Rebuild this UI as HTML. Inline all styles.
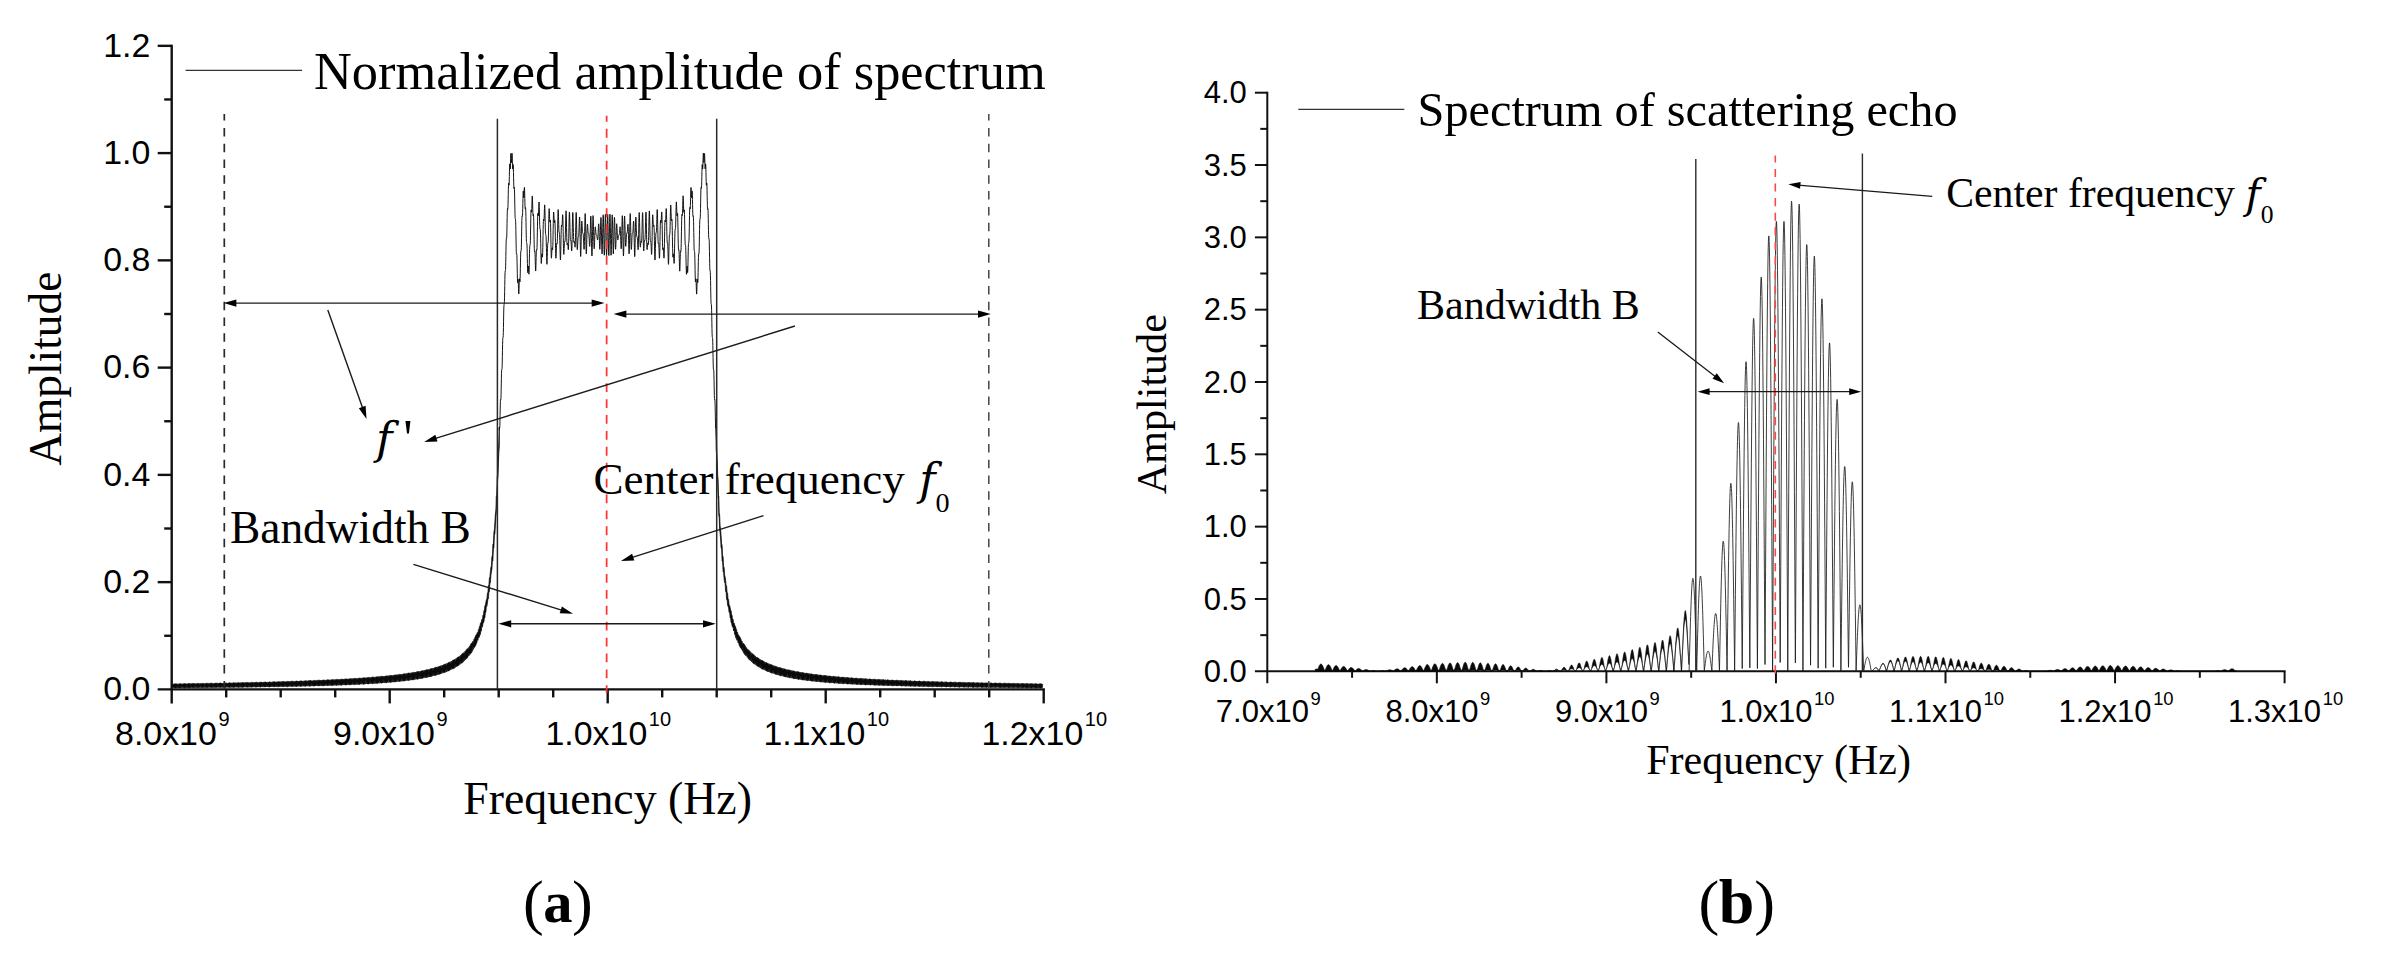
<!DOCTYPE html>
<html lang="en"><head><meta charset="utf-8"><title>Spectrum figure</title>
<style>html,body{margin:0;padding:0;background:#fff}svg{display:block}text{fill:#000}</style></head>
<body><svg width="2381" height="963" viewBox="0 0 2381 963">
<rect width="2381" height="963" fill="#fff"/>
<line x1="171.70" y1="44.64" x2="171.70" y2="703.40" stroke="#111" stroke-width="2.4" />
<line x1="157.70" y1="689.40" x2="1044.90" y2="689.40" stroke="#111" stroke-width="2.4" />
<text x="150.40" y="700.20" font-family="'Liberation Sans',Arial,sans-serif" font-size="33.9" text-anchor="end" >0.0</text>
<line x1="164.20" y1="635.77" x2="171.70" y2="635.77" stroke="#111" stroke-width="2.4" />
<line x1="157.70" y1="582.14" x2="171.70" y2="582.14" stroke="#111" stroke-width="2.4" />
<text x="150.40" y="592.94" font-family="'Liberation Sans',Arial,sans-serif" font-size="33.9" text-anchor="end" >0.2</text>
<line x1="164.20" y1="528.51" x2="171.70" y2="528.51" stroke="#111" stroke-width="2.4" />
<line x1="157.70" y1="474.88" x2="171.70" y2="474.88" stroke="#111" stroke-width="2.4" />
<text x="150.40" y="485.68" font-family="'Liberation Sans',Arial,sans-serif" font-size="33.9" text-anchor="end" >0.4</text>
<line x1="164.20" y1="421.25" x2="171.70" y2="421.25" stroke="#111" stroke-width="2.4" />
<line x1="157.70" y1="367.62" x2="171.70" y2="367.62" stroke="#111" stroke-width="2.4" />
<text x="150.40" y="378.42" font-family="'Liberation Sans',Arial,sans-serif" font-size="33.9" text-anchor="end" >0.6</text>
<line x1="164.20" y1="313.99" x2="171.70" y2="313.99" stroke="#111" stroke-width="2.4" />
<line x1="157.70" y1="260.36" x2="171.70" y2="260.36" stroke="#111" stroke-width="2.4" />
<text x="150.40" y="271.16" font-family="'Liberation Sans',Arial,sans-serif" font-size="33.9" text-anchor="end" >0.8</text>
<line x1="164.20" y1="206.73" x2="171.70" y2="206.73" stroke="#111" stroke-width="2.4" />
<line x1="157.70" y1="153.10" x2="171.70" y2="153.10" stroke="#111" stroke-width="2.4" />
<text x="150.40" y="163.90" font-family="'Liberation Sans',Arial,sans-serif" font-size="33.9" text-anchor="end" >1.0</text>
<line x1="164.20" y1="99.47" x2="171.70" y2="99.47" stroke="#111" stroke-width="2.4" />
<line x1="157.70" y1="45.84" x2="171.70" y2="45.84" stroke="#111" stroke-width="2.4" />
<text x="150.40" y="56.64" font-family="'Liberation Sans',Arial,sans-serif" font-size="33.9" text-anchor="end" >1.2</text>
<line x1="226.20" y1="689.40" x2="226.20" y2="697.40" stroke="#111" stroke-width="2.4" />
<line x1="280.70" y1="689.40" x2="280.70" y2="697.40" stroke="#111" stroke-width="2.4" />
<line x1="335.20" y1="689.40" x2="335.20" y2="697.40" stroke="#111" stroke-width="2.4" />
<line x1="389.70" y1="689.40" x2="389.70" y2="703.40" stroke="#111" stroke-width="2.4" />
<line x1="444.20" y1="689.40" x2="444.20" y2="697.40" stroke="#111" stroke-width="2.4" />
<line x1="498.70" y1="689.40" x2="498.70" y2="697.40" stroke="#111" stroke-width="2.4" />
<line x1="553.20" y1="689.40" x2="553.20" y2="697.40" stroke="#111" stroke-width="2.4" />
<line x1="607.70" y1="689.40" x2="607.70" y2="703.40" stroke="#111" stroke-width="2.4" />
<line x1="662.20" y1="689.40" x2="662.20" y2="697.40" stroke="#111" stroke-width="2.4" />
<line x1="716.70" y1="689.40" x2="716.70" y2="697.40" stroke="#111" stroke-width="2.4" />
<line x1="771.20" y1="689.40" x2="771.20" y2="697.40" stroke="#111" stroke-width="2.4" />
<line x1="825.70" y1="689.40" x2="825.70" y2="703.40" stroke="#111" stroke-width="2.4" />
<line x1="880.20" y1="689.40" x2="880.20" y2="697.40" stroke="#111" stroke-width="2.4" />
<line x1="934.70" y1="689.40" x2="934.70" y2="697.40" stroke="#111" stroke-width="2.4" />
<line x1="989.20" y1="689.40" x2="989.20" y2="697.40" stroke="#111" stroke-width="2.4" />
<line x1="1043.70" y1="689.40" x2="1043.70" y2="703.40" stroke="#111" stroke-width="2.4" />
<text x="172.30" y="745.20" font-family="'Liberation Sans',Arial,sans-serif" font-size="33.9" text-anchor="middle">8.0x10<tspan font-size="20" dy="-19" dx="1.6">9</tspan></text>
<text x="390.30" y="745.20" font-family="'Liberation Sans',Arial,sans-serif" font-size="33.9" text-anchor="middle">9.0x10<tspan font-size="20" dy="-19" dx="1.6">9</tspan></text>
<text x="608.30" y="745.20" font-family="'Liberation Sans',Arial,sans-serif" font-size="33.9" text-anchor="middle">1.0x10<tspan font-size="20" dy="-19" dx="1.6">10</tspan></text>
<text x="826.30" y="745.20" font-family="'Liberation Sans',Arial,sans-serif" font-size="33.9" text-anchor="middle">1.1x10<tspan font-size="20" dy="-19" dx="1.6">10</tspan></text>
<text x="1044.30" y="745.20" font-family="'Liberation Sans',Arial,sans-serif" font-size="33.9" text-anchor="middle">1.2x10<tspan font-size="20" dy="-19" dx="1.6">10</tspan></text>
<text transform="translate(60.6,465.8) rotate(-90)" font-family="'Liberation Serif','Times New Roman',serif" font-size="45.4">Amplitude</text>
<text x="463.30" y="813.50" font-family="'Liberation Serif','Times New Roman',serif" font-size="45.8" text-anchor="start" >Frequency (Hz)</text>
<line x1="185.60" y1="70.40" x2="302.00" y2="70.40" stroke="#333" stroke-width="1.1" />
<text x="314.00" y="88.70" font-family="'Liberation Serif','Times New Roman',serif" font-size="52.4" text-anchor="start" >Normalized amplitude of spectrum</text>
<polygon points="172.4,684.3 172.9,684.8 173.4,683.8 173.9,684.4 174.4,683.8 174.9,683.9 175.4,683.8 175.9,683.8 176.4,684.0 176.9,683.8 177.4,684.8 177.9,683.8 178.4,684.4 178.9,683.7 179.4,683.8 179.9,683.7 180.4,683.7 180.9,683.9 181.4,683.7 181.9,684.7 182.4,683.7 182.9,684.3 183.4,683.7 183.9,683.7 184.4,683.6 184.9,683.6 185.4,683.9 185.9,683.6 186.4,684.7 186.9,683.6 187.4,684.2 187.9,683.6 188.4,683.6 188.9,683.6 189.4,683.6 189.9,683.8 190.4,683.6 190.9,684.7 191.4,683.5 191.9,684.1 192.4,683.5 192.9,683.6 193.4,683.5 193.9,683.5 194.4,683.7 194.9,683.5 195.4,684.6 195.9,683.5 196.4,684.0 196.9,683.4 197.4,683.5 197.9,683.4 198.4,683.4 198.9,683.7 199.4,683.4 199.9,684.6 200.4,683.4 200.9,684.0 201.4,683.4 201.9,683.4 202.4,683.4 202.9,683.4 203.4,683.6 203.9,683.3 204.4,684.5 204.9,683.3 205.4,683.9 205.9,683.3 206.4,683.3 206.9,683.3 207.4,683.3 207.9,683.6 208.4,683.3 208.9,684.5 209.4,683.2 209.9,683.8 210.4,683.2 210.9,683.2 211.4,683.2 211.9,683.2 212.4,683.5 212.9,683.2 213.4,684.4 213.9,683.2 214.4,683.7 214.9,683.1 215.4,683.2 215.9,683.1 216.4,683.1 216.9,683.4 217.4,683.1 217.9,684.4 218.4,683.1 218.9,683.6 219.4,683.0 219.9,683.1 220.4,683.0 220.9,683.0 221.4,683.4 221.9,683.0 222.4,684.3 222.9,683.0 223.4,683.5 223.9,683.0 224.4,683.0 224.9,682.9 225.4,682.9 225.9,683.3 226.4,682.9 226.9,684.3 227.4,682.9 227.9,683.4 228.4,682.9 228.9,682.9 229.4,682.8 229.9,682.8 230.4,683.2 230.9,682.8 231.4,684.3 231.9,682.8 232.4,683.3 232.9,682.8 233.4,682.8 233.9,682.8 234.4,682.8 234.9,683.1 235.4,682.7 235.9,684.2 236.4,682.7 236.9,683.2 237.4,682.7 237.9,682.7 238.4,682.7 238.9,682.7 239.4,683.1 239.9,682.6 240.4,684.1 240.9,682.6 241.4,683.1 241.9,682.6 242.4,682.6 242.9,682.6 243.4,682.6 243.9,683.0 244.4,682.5 244.9,684.1 245.4,682.5 245.9,683.0 246.4,682.5 246.9,682.5 247.4,682.5 247.9,682.5 248.4,682.9 248.9,682.4 249.4,684.0 249.9,682.4 250.4,682.9 250.9,682.4 251.4,682.4 251.9,682.4 252.4,682.3 252.9,682.8 253.4,682.3 253.9,683.9 254.4,682.3 254.9,682.8 255.4,682.3 255.9,682.3 256.4,682.2 256.9,682.2 257.4,682.7 257.9,682.2 258.4,683.8 258.9,682.2 259.4,682.6 259.9,682.2 260.4,682.2 260.9,682.1 261.4,682.1 261.9,682.6 262.4,682.1 262.9,683.7 263.4,682.1 263.9,682.5 264.4,682.0 264.9,682.0 265.4,682.0 265.9,682.0 266.4,682.5 266.9,682.0 267.4,683.6 267.9,681.9 268.4,682.4 268.9,681.9 269.4,681.9 269.9,681.9 270.4,681.9 270.9,682.4 271.4,681.9 271.9,683.4 272.4,681.8 272.9,682.2 273.4,681.8 273.9,681.8 274.4,681.8 274.9,681.8 275.4,682.3 275.9,681.7 276.4,683.3 276.9,681.7 277.4,682.1 277.9,681.7 278.4,681.7 278.9,681.7 279.4,681.6 279.9,682.2 280.4,681.6 280.9,683.2 281.4,681.6 281.9,682.0 282.4,681.5 282.9,681.5 283.4,681.5 283.9,681.5 284.4,682.1 284.9,681.5 285.4,683.0 285.9,681.4 286.4,681.8 286.9,681.4 287.4,681.4 287.9,681.4 288.4,681.4 288.9,682.0 289.4,681.3 289.9,682.9 290.4,681.3 290.9,681.7 291.4,681.2 291.9,681.2 292.4,681.2 292.9,681.2 293.4,681.9 293.9,681.2 294.4,682.7 294.9,681.1 295.4,681.5 295.9,681.1 296.4,681.1 296.9,681.1 297.4,681.1 297.9,681.8 298.4,681.0 298.9,682.6 299.4,681.0 299.9,681.3 300.4,680.9 300.9,680.9 301.4,680.9 301.9,680.9 302.4,681.6 302.9,680.9 303.4,682.4 303.9,680.8 304.4,681.2 304.9,680.8 305.4,680.8 305.9,680.8 306.4,680.7 306.9,681.5 307.4,680.7 307.9,682.2 308.4,680.6 308.9,681.0 309.4,680.6 309.9,680.6 310.4,680.6 310.9,680.6 311.4,681.3 311.9,680.5 312.4,682.1 312.9,680.5 313.4,680.8 313.9,680.4 314.4,680.4 314.9,680.4 315.4,680.4 315.9,681.2 316.4,680.3 316.9,681.9 317.4,680.3 317.9,680.6 318.4,680.2 318.9,680.2 319.4,680.3 319.9,680.2 320.4,681.1 320.9,680.1 321.4,681.7 321.9,680.1 322.4,680.4 322.9,680.0 323.4,680.0 323.9,680.1 324.4,680.0 324.9,680.9 325.4,679.9 325.9,681.5 326.4,679.9 326.9,680.2 327.4,679.8 327.9,679.8 328.4,679.9 328.9,679.8 329.4,680.7 329.9,679.7 330.4,681.3 330.9,679.7 331.4,680.0 331.9,679.6 332.4,679.6 332.9,679.7 333.4,679.6 333.9,680.5 334.4,679.5 334.9,681.0 335.4,679.5 335.9,679.8 336.4,679.4 336.9,679.4 337.4,679.5 337.9,679.3 338.4,680.3 338.9,679.3 339.4,680.8 339.9,679.2 340.4,679.5 340.9,679.2 341.4,679.2 341.9,679.2 342.4,679.1 342.9,680.2 343.4,679.0 343.9,680.6 344.4,679.0 344.9,679.3 345.4,678.9 345.9,678.9 346.4,679.0 346.9,678.9 347.4,680.0 347.9,678.8 348.4,680.3 348.9,678.7 349.4,679.0 349.9,678.7 350.4,678.7 350.9,678.7 351.4,678.6 351.9,679.7 352.4,678.5 352.9,680.0 353.4,678.5 353.9,678.7 354.4,678.4 354.9,678.4 355.4,678.5 355.9,678.3 356.4,679.5 356.9,678.2 357.4,679.7 357.9,678.2 358.4,678.4 358.9,678.1 359.4,678.1 359.9,678.2 360.4,678.0 360.9,679.2 361.4,677.9 361.9,679.4 362.4,677.9 362.9,678.1 363.4,677.8 363.9,677.8 364.4,677.9 364.9,677.7 365.4,679.0 365.9,677.6 366.4,679.1 366.9,677.5 367.4,677.8 367.9,677.4 368.4,677.4 368.9,677.6 369.4,677.4 369.9,678.7 370.4,677.3 370.9,678.7 371.4,677.2 371.9,677.4 372.4,677.1 372.9,677.1 373.4,677.2 373.9,677.0 374.4,678.4 374.9,676.9 375.4,678.4 375.9,676.8 376.4,677.0 376.9,676.7 377.4,676.7 377.9,676.8 378.4,676.6 378.9,678.0 379.4,676.5 379.9,678.0 380.4,676.4 380.9,676.6 381.4,676.3 381.9,676.3 382.4,676.5 382.9,676.2 383.4,677.7 383.9,676.1 384.4,677.6 384.9,676.0 385.4,676.2 385.9,675.9 386.4,675.9 386.9,676.0 387.4,675.8 387.9,677.3 388.4,675.6 388.9,677.1 389.4,675.5 389.9,675.7 390.4,675.4 390.9,675.4 391.4,675.6 391.9,675.3 392.4,676.9 392.9,675.2 393.4,676.6 393.9,675.0 394.4,675.2 394.9,674.9 395.4,674.9 395.9,675.1 396.4,674.8 396.9,676.4 397.4,674.6 397.9,676.1 398.4,674.5 398.9,674.7 399.4,674.4 399.9,674.4 400.4,674.5 400.9,674.2 401.4,675.9 401.9,674.1 402.4,675.5 402.9,673.9 403.4,674.1 403.9,673.8 404.4,673.8 404.9,674.0 405.4,673.6 405.9,675.4 406.4,673.4 406.9,674.9 407.4,673.3 407.9,673.4 408.4,673.1 408.9,673.1 409.4,673.3 409.9,672.9 410.4,674.8 410.9,672.7 411.4,674.2 411.9,672.6 412.4,672.7 412.9,672.4 413.4,672.4 413.9,672.6 414.4,672.2 414.9,674.1 415.4,672.0 415.9,673.4 416.4,671.8 416.9,671.9 417.4,671.6 417.9,671.6 418.4,671.8 418.9,671.4 419.4,673.4 419.9,671.2 420.4,672.6 420.9,670.9 421.4,671.1 421.9,670.7 422.4,670.7 422.9,671.0 423.4,670.5 423.9,672.5 424.4,670.2 424.9,671.7 425.4,670.0 425.9,670.1 426.4,669.7 426.9,669.7 427.4,670.0 427.9,669.5 428.4,671.6 428.9,669.2 429.4,670.6 429.9,668.9 430.4,669.0 430.9,668.6 431.4,668.6 431.9,668.9 432.4,668.3 432.9,670.5 433.4,668.0 433.9,669.4 434.4,667.7 434.9,667.8 435.4,667.3 435.9,667.3 436.4,667.6 436.9,667.0 437.4,669.3 437.9,666.6 438.4,668.0 438.9,666.3 439.4,666.4 439.9,665.9 440.4,665.9 440.9,666.2 441.4,665.5 441.9,667.9 442.4,665.1 442.9,666.5 443.4,664.7 443.9,664.7 444.4,664.2 444.9,664.2 445.4,664.4 445.9,663.7 446.4,666.2 446.9,663.3 447.4,664.6 447.9,662.8 448.4,662.8 448.9,662.2 449.4,662.2 449.9,662.4 450.4,661.7 450.9,664.2 451.4,661.1 451.9,662.4 452.4,660.5 452.9,660.6 453.4,659.9 453.9,659.9 454.4,660.0 454.9,659.2 455.4,661.7 455.9,658.5 456.4,659.8 456.9,657.8 457.4,657.8 457.9,657.0 458.4,657.0 458.9,657.1 459.4,656.2 459.9,658.7 460.4,655.3 460.9,656.6 461.4,654.4 461.9,654.4 462.4,653.4 462.9,653.4 463.4,653.5 463.9,652.4 464.4,655.0 464.9,651.3 465.4,652.6 465.9,650.2 466.4,650.2 466.9,648.9 467.4,648.9 467.9,648.7 468.4,647.6 468.9,650.1 469.4,646.2 469.9,647.3 470.4,644.6 470.9,644.6 471.4,643.0 471.9,643.0 472.4,642.5 472.9,641.2 473.4,643.5 473.9,639.2 474.4,640.3 474.9,637.1 475.4,637.1 475.9,634.9 476.4,634.8 476.9,633.9 477.4,632.3 477.9,634.3 478.4,629.5 478.9,630.4 479.4,626.5 479.9,626.5 480.4,623.2 480.9,623.1 481.4,621.4 481.9,619.3 482.4,620.8 482.9,615.2 483.4,615.8 483.9,610.5 484.4,610.5 484.9,605.6 485.4,605.3 485.9,602.2 486.4,599.5 486.9,599.9 487.4,592.9 487.9,593.2 488.4,585.4 488.9,585.4 489.4,577.8 489.9,576.9 490.4,571.6 490.9,567.3 491.4,565.9 491.9,556.4 492.4,556.4 492.9,544.0 493.4,543.9 493.9,532.2 494.4,529.8 494.9,521.4 495.4,513.8 495.9,510.0 496.3,495.7 496.7,495.7 497.2,476.7 497.6,475.3 498.0,458.9 498.4,452.5 498.8,441.3 499.3,427.2 499.3,446.1 498.8,453.8 498.4,463.2 498.0,477.2 497.6,479.4 497.2,497.7 496.7,498.2 496.3,513.6 495.9,516.9 495.4,525.5 494.9,533.5 494.4,535.4 493.9,548.2 493.4,548.2 492.9,560.7 492.4,561.2 491.9,569.2 491.4,572.6 490.9,575.0 490.4,582.7 489.9,582.4 489.4,591.6 488.9,591.6 488.4,598.8 487.9,599.4 487.4,603.0 486.9,606.3 486.4,605.1 485.9,612.4 485.4,612.1 484.9,617.9 484.4,617.9 483.9,622.1 483.4,622.7 482.9,623.7 482.4,627.1 481.9,624.7 481.4,630.9 480.9,630.6 480.4,634.4 479.9,634.4 479.4,636.9 478.9,637.6 478.4,637.1 477.9,640.4 477.4,638.0 476.9,643.0 476.4,642.7 475.9,645.4 475.4,645.4 474.9,646.9 474.4,647.5 473.9,646.2 473.4,649.5 472.9,647.1 472.4,651.3 471.9,651.1 471.4,653.0 470.9,653.0 470.4,653.9 469.9,654.6 469.4,652.7 468.9,656.0 468.4,653.7 467.9,657.3 467.4,657.1 466.9,658.6 466.4,658.6 465.9,659.0 465.4,659.8 464.9,657.5 464.4,660.8 463.9,658.6 463.4,661.9 462.9,661.6 462.4,662.8 461.9,662.8 461.4,663.0 460.9,663.7 460.4,661.2 459.9,664.6 459.4,662.4 458.9,665.4 458.4,665.1 457.9,666.1 457.4,666.1 456.9,666.0 456.4,666.8 455.9,664.1 455.4,667.5 454.9,665.3 454.4,668.2 453.9,668.0 453.4,668.8 452.9,668.8 452.4,668.5 451.9,669.3 451.4,666.5 450.9,669.9 450.4,667.8 449.9,670.4 449.4,670.2 448.9,670.9 448.4,670.9 447.9,670.6 447.4,671.4 446.9,668.5 446.4,671.9 445.9,669.8 445.4,672.3 444.9,672.1 444.4,672.7 443.9,672.7 443.4,672.2 442.9,673.1 442.4,670.1 441.9,673.5 441.4,671.5 440.9,673.9 440.4,673.7 439.9,674.2 439.4,674.2 438.9,673.7 438.4,674.6 437.9,671.4 437.4,674.9 436.9,672.9 436.4,675.2 435.9,675.1 435.4,675.5 434.9,675.5 434.4,674.9 433.9,675.8 433.4,672.6 432.9,676.1 432.4,674.2 431.9,676.4 431.4,676.3 430.9,676.7 430.4,676.7 429.9,675.9 429.4,676.9 428.9,673.7 428.4,677.2 427.9,675.3 427.4,677.4 426.9,677.3 426.4,677.6 425.9,677.6 425.4,676.9 424.9,677.9 424.4,674.6 423.9,678.1 423.4,676.3 422.9,678.3 422.4,678.2 421.9,678.5 421.4,678.5 420.9,677.6 420.4,678.7 419.9,675.3 419.4,678.9 418.9,677.1 418.4,679.1 417.9,679.0 417.4,679.2 416.9,679.2 416.4,678.3 415.9,679.4 415.4,676.0 414.9,679.6 414.4,677.9 413.9,679.8 413.4,679.7 412.9,679.9 412.4,679.9 411.9,679.0 411.4,680.1 410.9,676.7 410.4,680.2 409.9,678.6 409.4,680.4 408.9,680.3 408.4,680.5 407.9,680.5 407.4,679.5 406.9,680.7 406.4,677.2 405.9,680.8 405.4,679.2 404.9,680.9 404.4,680.9 403.9,681.1 403.4,681.1 402.9,680.0 402.4,681.2 401.9,677.7 401.4,681.3 400.9,679.8 400.4,681.4 399.9,681.4 399.4,681.5 398.9,681.5 398.4,680.5 397.9,681.7 397.4,678.2 396.9,681.8 396.4,680.3 395.9,681.9 395.4,681.8 394.9,682.0 394.4,682.0 393.9,680.9 393.4,682.1 392.9,678.6 392.4,682.2 391.9,680.7 391.4,682.3 390.9,682.3 390.4,682.4 389.9,682.4 389.4,681.2 388.9,682.5 388.4,679.0 387.9,682.6 387.4,681.2 386.9,682.7 386.4,682.7 385.9,682.8 385.4,682.8 384.9,681.6 384.4,682.9 383.9,679.3 383.4,682.9 382.9,681.6 382.4,683.0 381.9,683.0 381.4,683.1 380.9,683.1 380.4,681.9 379.9,683.2 379.4,679.7 378.9,683.3 378.4,682.0 377.9,683.3 377.4,683.3 376.9,683.4 376.4,683.4 375.9,682.1 375.4,683.5 374.9,679.9 374.4,683.6 373.9,682.3 373.4,683.6 372.9,683.6 372.4,683.7 371.9,683.7 371.4,682.4 370.9,683.8 370.4,680.3 369.9,683.8 369.4,682.6 368.9,683.9 368.4,683.9 367.9,683.9 367.4,684.0 366.9,682.6 366.4,684.0 365.9,680.6 365.4,684.1 364.9,682.9 364.4,684.2 363.9,684.2 363.4,684.2 362.9,684.2 362.4,682.8 361.9,684.3 361.4,680.9 360.9,684.3 360.4,683.2 359.9,684.4 359.4,684.4 358.9,684.4 358.4,684.4 357.9,683.0 357.4,684.5 356.9,681.2 356.4,684.6 355.9,683.4 355.4,684.6 354.9,684.6 354.4,684.6 353.9,684.7 353.4,683.2 352.9,684.7 352.4,681.5 351.9,684.8 351.4,683.7 350.9,684.8 350.4,684.8 349.9,684.8 349.4,684.9 348.9,683.4 348.4,684.9 347.9,681.8 347.4,685.0 346.9,683.9 346.4,685.0 345.9,685.0 345.4,685.0 344.9,685.0 344.4,683.5 343.9,685.1 343.4,682.0 342.9,685.1 342.4,684.1 341.9,685.2 341.4,685.2 340.9,685.1 340.4,685.2 339.9,683.7 339.4,685.3 338.9,682.2 338.4,685.3 337.9,684.3 337.4,685.3 336.9,685.3 336.4,685.3 335.9,685.4 335.4,683.8 334.9,685.4 334.4,682.5 333.9,685.5 333.4,684.5 332.9,685.5 332.4,685.5 331.9,685.4 331.4,685.5 330.9,684.0 330.4,685.6 329.9,682.7 329.4,685.6 328.9,684.7 328.4,685.6 327.9,685.6 327.4,685.6 326.9,685.7 326.4,684.1 325.9,685.7 325.4,682.9 324.9,685.8 324.4,684.9 323.9,685.8 323.4,685.8 322.9,685.7 322.4,685.8 321.9,684.2 321.4,685.9 320.9,683.1 320.4,685.9 319.9,685.0 319.4,685.9 318.9,685.9 318.4,685.8 317.9,685.9 317.4,684.3 316.9,686.0 316.4,683.3 315.9,686.0 315.4,685.2 314.9,686.0 314.4,686.0 313.9,685.9 313.4,686.1 312.9,684.4 312.4,686.1 311.9,683.4 311.4,686.1 310.9,685.3 310.4,686.2 309.9,686.2 309.4,686.0 308.9,686.2 308.4,684.5 307.9,686.2 307.4,683.6 306.9,686.2 306.4,685.5 305.9,686.3 305.4,686.3 304.9,686.1 304.4,686.3 303.9,684.5 303.4,686.3 302.9,683.8 302.4,686.3 301.9,685.6 301.4,686.4 300.9,686.4 300.4,686.2 299.9,686.4 299.4,684.6 298.9,686.4 298.4,683.9 297.9,686.4 297.4,685.8 296.9,686.5 296.4,686.5 295.9,686.3 295.4,686.5 294.9,684.7 294.4,686.5 293.9,684.1 293.4,686.5 292.9,685.9 292.4,686.6 291.9,686.6 291.4,686.3 290.9,686.6 290.4,684.8 289.9,686.6 289.4,684.2 288.9,686.6 288.4,686.0 287.9,686.7 287.4,686.7 286.9,686.4 286.4,686.7 285.9,684.8 285.4,686.7 284.9,684.4 284.4,686.7 283.9,686.1 283.4,686.7 282.9,686.7 282.4,686.5 281.9,686.8 281.4,684.9 280.9,686.8 280.4,684.5 279.9,686.8 279.4,686.2 278.9,686.8 278.4,686.8 277.9,686.5 277.4,686.8 276.9,684.9 276.4,686.9 275.9,684.6 275.4,686.9 274.9,686.3 274.4,686.9 273.9,686.9 273.4,686.6 272.9,686.9 272.4,685.0 271.9,686.9 271.4,684.7 270.9,687.0 270.4,686.4 269.9,687.0 269.4,687.0 268.9,686.7 268.4,687.0 267.9,685.1 267.4,687.0 266.9,684.8 266.4,687.0 265.9,686.5 265.4,687.0 264.9,687.0 264.4,686.7 263.9,687.1 263.4,685.1 262.9,687.1 262.4,685.0 261.9,687.1 261.4,686.6 260.9,687.1 260.4,687.1 259.9,686.7 259.4,687.1 258.9,685.2 258.4,687.1 257.9,685.1 257.4,687.2 256.9,686.7 256.4,687.2 255.9,687.2 255.4,686.8 254.9,687.2 254.4,685.2 253.9,687.2 253.4,685.2 252.9,687.2 252.4,686.8 251.9,687.2 251.4,687.2 250.9,686.8 250.4,687.2 249.9,685.3 249.4,687.3 248.9,685.3 248.4,687.3 247.9,686.9 247.4,687.3 246.9,687.3 246.4,686.9 245.9,687.3 245.4,685.3 244.9,687.3 244.4,685.4 243.9,687.3 243.4,687.0 242.9,687.4 242.4,687.4 241.9,686.9 241.4,687.4 240.9,685.3 240.4,687.4 239.9,685.5 239.4,687.4 238.9,687.0 238.4,687.4 237.9,687.4 237.4,686.9 236.9,687.4 236.4,685.4 235.9,687.4 235.4,685.6 234.9,687.4 234.4,687.1 233.9,687.5 233.4,687.5 232.9,687.0 232.4,687.5 231.9,685.4 231.4,687.5 230.9,685.7 230.4,687.5 229.9,687.2 229.4,687.5 228.9,687.5 228.4,687.0 227.9,687.5 227.4,685.5 226.9,687.5 226.4,685.8 225.9,687.5 225.4,687.2 224.9,687.6 224.4,687.6 223.9,687.0 223.4,687.6 222.9,685.5 222.4,687.6 221.9,685.8 221.4,687.6 220.9,687.3 220.4,687.6 219.9,687.6 219.4,687.0 218.9,687.6 218.4,685.5 217.9,687.6 217.4,685.9 216.9,687.6 216.4,687.4 215.9,687.6 215.4,687.6 214.9,687.1 214.4,687.7 213.9,685.5 213.4,687.7 212.9,686.0 212.4,687.7 211.9,687.4 211.4,687.7 210.9,687.7 210.4,687.1 209.9,687.7 209.4,685.6 208.9,687.7 208.4,686.1 207.9,687.7 207.4,687.5 206.9,687.7 206.4,687.7 205.9,687.1 205.4,687.7 204.9,685.6 204.4,687.7 203.9,686.2 203.4,687.8 202.9,687.5 202.4,687.8 201.9,687.8 201.4,687.1 200.9,687.8 200.4,685.6 199.9,687.8 199.4,686.2 198.9,687.8 198.4,687.6 197.9,687.8 197.4,687.8 196.9,687.1 196.4,687.8 195.9,685.6 195.4,687.8 194.9,686.3 194.4,687.8 193.9,687.7 193.4,687.8 192.9,687.8 192.4,687.2 191.9,687.9 191.4,685.7 190.9,687.9 190.4,686.4 189.9,687.9 189.4,687.7 188.9,687.9 188.4,687.9 187.9,687.2 187.4,687.9 186.9,685.7 186.4,687.9 185.9,686.5 185.4,687.9 184.9,687.8 184.4,687.9 183.9,687.9 183.4,687.2 182.9,687.9 182.4,685.7 181.9,687.9 181.4,686.5 180.9,687.9 180.4,687.8 179.9,687.9 179.4,687.9 178.9,687.2 178.4,688.0 177.9,685.7 177.4,688.0 176.9,686.6 176.4,688.0 175.9,687.9 175.4,688.0 174.9,688.0 174.4,687.2 173.9,688.0 173.4,685.8 172.9,688.0 172.4,686.6" fill="#0a0a0a" stroke="#0a0a0a" stroke-width="0.7" stroke-linejoin="round"/>
<polygon points="715.8,425.4 716.2,427.5 716.6,446.2 716.9,452.5 717.3,463.3 717.7,475.3 718.1,479.4 718.5,495.7 718.8,496.2 719.2,513.7 719.6,513.8 720.1,525.6 720.6,529.8 721.1,535.5 721.6,543.9 722.1,545.3 722.6,556.4 723.1,556.4 723.6,567.5 724.1,567.3 724.6,575.1 725.1,576.9 725.6,580.0 726.1,585.4 726.6,585.8 727.1,592.9 727.6,592.9 728.1,600.1 728.6,599.5 729.1,605.2 729.6,605.3 730.1,607.3 730.6,610.5 731.1,610.6 731.6,615.2 732.1,615.2 732.6,620.4 733.1,619.3 733.6,624.0 734.1,623.1 734.6,624.5 735.1,626.5 735.6,626.5 736.1,629.5 736.6,629.5 737.1,633.6 737.6,632.3 738.1,636.3 738.6,634.8 739.1,635.9 739.6,637.1 740.1,637.1 740.6,639.3 741.1,639.2 741.6,642.6 742.1,641.2 742.6,644.7 743.1,643.0 743.6,643.8 744.1,644.6 744.6,644.6 745.1,646.2 745.6,646.2 746.1,649.2 746.6,647.6 747.1,650.8 747.6,648.9 748.1,649.7 748.6,650.2 749.1,650.2 749.6,651.5 750.1,651.3 750.6,654.1 751.1,652.4 751.6,655.4 752.1,653.4 752.6,654.1 753.1,654.4 753.6,654.4 754.1,655.5 754.6,655.3 755.1,657.9 755.6,656.2 756.1,659.0 756.6,657.0 757.1,657.6 757.6,657.8 758.1,657.8 758.6,658.7 759.1,658.5 759.6,661.0 760.1,659.2 760.6,661.8 761.1,659.9 761.6,660.4 762.1,660.5 762.6,660.5 763.1,661.3 763.6,661.1 764.1,663.4 764.6,661.7 765.1,664.2 765.6,662.2 766.1,662.7 766.6,662.8 767.1,662.8 767.6,663.5 768.1,663.3 768.6,665.5 769.1,663.7 769.6,666.1 770.1,664.2 770.6,664.6 771.1,664.7 771.6,664.7 772.1,665.3 772.6,665.1 773.1,667.3 773.6,665.5 774.1,667.7 774.6,665.9 775.1,666.3 775.6,666.3 776.1,666.3 776.6,666.9 777.1,666.6 777.6,668.8 778.1,667.0 778.6,669.1 779.1,667.3 779.6,667.7 780.1,667.7 780.6,667.7 781.1,668.2 781.6,668.0 782.1,670.1 782.6,668.3 783.1,670.3 783.6,668.6 784.1,668.9 784.6,668.9 785.1,668.9 785.6,669.4 786.1,669.2 786.6,671.3 787.1,669.5 787.6,671.4 788.1,669.7 788.6,670.0 789.1,670.0 789.6,670.0 790.1,670.5 790.6,670.2 791.1,672.3 791.6,670.5 792.1,672.3 792.6,670.7 793.1,671.0 793.6,670.9 794.1,670.9 794.6,671.4 795.1,671.2 795.6,673.2 796.1,671.4 796.6,673.1 797.1,671.6 797.6,671.8 798.1,671.8 798.6,671.8 799.1,672.3 799.6,672.0 800.1,674.0 800.6,672.2 801.1,673.9 801.6,672.4 802.1,672.6 802.6,672.6 803.1,672.6 803.6,673.1 804.1,672.7 804.6,674.7 805.1,672.9 805.6,674.5 806.1,673.1 806.6,673.3 807.1,673.3 807.6,673.3 808.1,673.8 808.6,673.4 809.1,675.4 809.6,673.6 810.1,675.1 810.6,673.8 811.1,673.9 811.6,673.9 812.1,673.9 812.6,674.4 813.1,674.1 813.6,676.0 814.1,674.2 814.6,675.7 815.1,674.4 815.6,674.5 816.1,674.5 816.6,674.5 817.1,675.0 817.6,674.6 818.1,676.6 818.6,674.8 819.1,676.2 819.6,674.9 820.1,675.1 820.6,675.0 821.1,675.0 821.6,675.5 822.1,675.2 822.6,677.1 823.1,675.3 823.6,676.6 824.1,675.4 824.6,675.6 825.1,675.5 825.6,675.5 826.1,676.0 826.6,675.6 827.1,677.6 827.6,675.8 828.1,677.0 828.6,675.9 829.1,676.0 829.6,676.0 830.1,676.0 830.6,676.5 831.1,676.1 831.6,678.0 832.1,676.2 832.6,677.4 833.1,676.3 833.6,676.4 834.1,676.4 834.6,676.4 835.1,676.9 835.6,676.5 836.1,678.5 836.6,676.6 837.1,677.8 837.6,676.7 838.1,676.8 838.6,676.8 839.1,676.8 839.6,677.3 840.1,676.9 840.6,678.8 841.1,677.0 841.6,678.1 842.1,677.1 842.6,677.2 843.1,677.2 843.6,677.2 844.1,677.7 844.6,677.3 845.1,679.2 845.6,677.4 846.1,678.4 846.6,677.4 847.1,677.5 847.6,677.5 848.1,677.5 848.6,678.0 849.1,677.6 849.6,679.5 850.1,677.7 850.6,678.7 851.1,677.8 851.6,677.8 852.1,677.9 852.6,677.9 853.1,678.4 853.6,677.9 854.1,679.8 854.6,678.0 855.1,679.0 855.6,678.1 856.1,678.2 856.6,678.2 857.1,678.2 857.6,678.7 858.1,678.2 858.6,680.2 859.1,678.3 859.6,679.3 860.1,678.4 860.6,678.4 861.1,678.5 861.6,678.5 862.1,679.0 862.6,678.5 863.1,680.4 863.6,678.6 864.1,679.5 864.6,678.7 865.1,678.7 865.6,678.7 866.1,678.7 866.6,679.2 867.1,678.8 867.6,680.7 868.1,678.9 868.6,679.7 869.1,678.9 869.6,679.0 870.1,679.0 870.6,679.0 871.1,679.5 871.6,679.0 872.1,680.9 872.6,679.1 873.1,679.9 873.6,679.2 874.1,679.2 874.6,679.2 875.1,679.2 875.6,679.8 876.1,679.3 876.6,681.2 877.1,679.3 877.6,680.1 878.1,679.4 878.6,679.4 879.1,679.5 879.6,679.5 880.1,680.0 880.6,679.5 881.1,681.4 881.6,679.6 882.1,680.3 882.6,679.6 883.1,679.7 883.6,679.7 884.1,679.7 884.6,680.2 885.1,679.7 885.6,681.6 886.1,679.8 886.6,680.5 887.1,679.8 887.6,679.9 888.1,679.9 888.6,679.9 889.1,680.4 889.6,679.9 890.1,681.8 890.6,680.0 891.1,680.7 891.6,680.0 892.1,680.1 892.6,680.1 893.1,680.1 893.6,680.7 894.1,680.1 894.6,682.1 895.1,680.2 895.6,680.9 896.1,680.2 896.6,680.3 897.1,680.3 897.6,680.3 898.1,680.8 898.6,680.3 899.1,682.2 899.6,680.4 900.1,681.0 900.6,680.4 901.1,680.4 901.6,680.5 902.1,680.5 902.6,681.0 903.1,680.5 903.6,682.4 904.1,680.6 904.6,681.2 905.1,680.6 905.6,680.6 906.1,680.7 906.6,680.6 907.1,681.2 907.6,680.7 908.1,682.6 908.6,680.7 909.1,681.3 909.6,680.8 910.1,680.8 910.6,680.8 911.1,680.8 911.6,681.4 912.1,680.9 912.6,682.8 913.1,680.9 913.6,681.4 914.1,680.9 914.6,680.9 915.1,681.0 915.6,681.0 916.1,681.6 916.6,681.0 917.1,682.9 917.6,681.1 918.1,681.6 918.6,681.1 919.1,681.1 919.6,681.1 920.1,681.1 920.6,681.7 921.1,681.2 921.6,683.0 922.1,681.2 922.6,681.7 923.1,681.2 923.6,681.2 924.1,681.3 924.6,681.3 925.1,681.9 925.6,681.3 926.1,683.0 926.6,681.4 927.1,681.8 927.6,681.4 928.1,681.4 928.6,681.4 929.1,681.4 929.6,682.0 930.1,681.5 930.6,683.2 931.1,681.5 931.6,681.9 932.1,681.5 932.6,681.5 933.1,681.6 933.6,681.6 934.1,682.2 934.6,681.6 935.1,683.2 935.6,681.6 936.1,682.1 936.6,681.7 937.1,681.7 937.6,681.7 938.1,681.7 938.6,682.3 939.1,681.7 939.6,683.3 940.1,681.8 940.6,682.2 941.1,681.8 941.6,681.8 942.1,681.8 942.6,681.8 943.1,682.5 943.6,681.9 944.1,683.4 944.6,681.9 945.1,682.3 945.6,681.9 946.1,681.9 946.6,682.0 947.1,681.9 947.6,682.6 948.1,682.0 948.6,683.5 949.1,682.0 949.6,682.4 950.1,682.0 950.6,682.0 951.1,682.1 951.6,682.1 952.1,682.7 952.6,682.1 953.1,683.6 953.6,682.1 954.1,682.5 954.6,682.2 955.1,682.2 955.6,682.2 956.1,682.2 956.6,682.8 957.1,682.2 957.6,683.6 958.1,682.2 958.6,682.6 959.1,682.3 959.6,682.3 960.1,682.3 960.6,682.3 961.1,683.0 961.6,682.3 962.1,683.7 962.6,682.3 963.1,682.7 963.6,682.4 964.1,682.4 964.6,682.4 965.1,682.4 965.6,683.1 966.1,682.4 966.6,683.7 967.1,682.5 967.6,682.8 968.1,682.5 968.6,682.5 969.1,682.5 969.6,682.5 970.1,683.2 970.6,682.5 971.1,683.8 971.6,682.6 972.1,682.8 972.6,682.6 973.1,682.6 973.6,682.6 974.1,682.6 974.6,683.3 975.1,682.6 975.6,683.9 976.1,682.7 976.6,682.9 977.1,682.7 977.6,682.7 978.1,682.8 978.6,682.7 979.1,683.4 979.6,682.7 980.1,683.9 980.6,682.8 981.1,683.0 981.6,682.8 982.1,682.8 982.6,682.9 983.1,682.8 983.6,683.5 984.1,682.8 984.6,684.0 985.1,682.8 985.6,683.1 986.1,682.9 986.6,682.9 987.1,682.9 987.6,682.9 988.1,683.6 988.6,682.9 989.1,684.1 989.6,682.9 990.1,683.2 990.6,683.0 991.1,683.0 991.6,683.0 992.1,683.0 992.6,683.7 993.1,683.0 993.6,684.1 994.1,683.0 994.6,683.2 995.1,683.0 995.6,683.0 996.1,683.1 996.6,683.1 997.1,683.8 997.6,683.1 998.1,684.2 998.6,683.1 999.1,683.3 999.6,683.1 1000.1,683.1 1000.6,683.2 1001.1,683.2 1001.6,683.9 1002.1,683.2 1002.6,684.2 1003.1,683.2 1003.6,683.4 1004.1,683.2 1004.6,683.2 1005.1,683.3 1005.6,683.2 1006.1,684.0 1006.6,683.3 1007.1,684.3 1007.6,683.3 1008.1,683.5 1008.6,683.3 1009.1,683.3 1009.6,683.4 1010.1,683.3 1010.6,684.1 1011.1,683.3 1011.6,684.3 1012.1,683.4 1012.6,683.5 1013.1,683.4 1013.6,683.4 1014.1,683.5 1014.6,683.4 1015.1,684.2 1015.6,683.4 1016.1,684.4 1016.6,683.4 1017.1,683.6 1017.6,683.4 1018.1,683.4 1018.6,683.6 1019.1,683.5 1019.6,684.2 1020.1,683.5 1020.6,684.4 1021.1,683.5 1021.6,683.7 1022.1,683.5 1022.6,683.5 1023.1,683.6 1023.6,683.5 1024.1,684.3 1024.6,683.6 1025.1,684.5 1025.6,683.6 1026.1,683.7 1026.6,683.6 1027.1,683.6 1027.6,683.7 1028.1,683.6 1028.6,684.4 1029.1,683.6 1029.6,684.5 1030.1,683.6 1030.6,683.8 1031.1,683.7 1031.6,683.7 1032.1,683.8 1032.6,683.7 1033.1,684.5 1033.6,683.7 1034.1,684.5 1034.6,683.7 1035.1,683.8 1035.6,683.7 1036.1,683.7 1036.6,683.9 1037.1,683.8 1037.6,684.6 1038.1,683.8 1038.6,684.6 1039.1,683.8 1039.6,683.9 1040.1,683.8 1040.6,683.8 1041.1,683.9 1041.6,683.8 1042.1,684.6 1042.6,684.3 1042.6,685.5 1042.1,688.0 1041.6,686.9 1041.1,688.0 1040.6,688.0 1040.1,688.0 1039.6,688.0 1039.1,686.9 1038.6,688.0 1038.1,685.5 1037.6,688.0 1037.1,686.9 1036.6,688.0 1036.1,687.9 1035.6,687.9 1035.1,687.9 1034.6,686.8 1034.1,687.9 1033.6,685.5 1033.1,687.9 1032.6,686.9 1032.1,687.9 1031.6,687.9 1031.1,687.9 1030.6,687.9 1030.1,686.8 1029.6,687.9 1029.1,685.4 1028.6,687.9 1028.1,686.9 1027.6,687.9 1027.1,687.9 1026.6,687.8 1026.1,687.9 1025.6,686.7 1025.1,687.9 1024.6,685.4 1024.1,687.9 1023.6,686.9 1023.1,687.9 1022.6,687.9 1022.1,687.8 1021.6,687.8 1021.1,686.6 1020.6,687.8 1020.1,685.4 1019.6,687.8 1019.1,686.9 1018.6,687.8 1018.1,687.8 1017.6,687.8 1017.1,687.8 1016.6,686.6 1016.1,687.8 1015.6,685.4 1015.1,687.8 1014.6,686.8 1014.1,687.8 1013.6,687.8 1013.1,687.7 1012.6,687.8 1012.1,686.5 1011.6,687.8 1011.1,685.3 1010.6,687.7 1010.1,686.8 1009.6,687.7 1009.1,687.7 1008.6,687.7 1008.1,687.7 1007.6,686.4 1007.1,687.7 1006.6,685.3 1006.1,687.7 1005.6,686.8 1005.1,687.7 1004.6,687.7 1004.1,687.6 1003.6,687.7 1003.1,686.3 1002.6,687.7 1002.1,685.3 1001.6,687.7 1001.1,686.8 1000.6,687.7 1000.1,687.7 999.6,687.6 999.1,687.6 998.6,686.3 998.1,687.6 997.6,685.2 997.1,687.6 996.6,686.8 996.1,687.6 995.6,687.6 995.1,687.5 994.6,687.6 994.1,686.2 993.6,687.6 993.1,685.2 992.6,687.6 992.1,686.7 991.6,687.6 991.1,687.6 990.6,687.4 990.1,687.6 989.6,686.1 989.1,687.5 988.6,685.1 988.1,687.5 987.6,686.7 987.1,687.5 986.6,687.5 986.1,687.4 985.6,687.5 985.1,686.0 984.6,687.5 984.1,685.1 983.6,687.5 983.1,686.7 982.6,687.5 982.1,687.5 981.6,687.3 981.1,687.5 980.6,685.9 980.1,687.4 979.6,685.1 979.1,687.4 978.6,686.7 978.1,687.4 977.6,687.4 977.1,687.2 976.6,687.4 976.1,685.8 975.6,687.4 975.1,685.0 974.6,687.4 974.1,686.6 973.6,687.4 973.1,687.4 972.6,687.2 972.1,687.4 971.6,685.7 971.1,687.3 970.6,685.0 970.1,687.3 969.6,686.6 969.1,687.3 968.6,687.3 968.1,687.1 967.6,687.3 967.1,685.6 966.6,687.3 966.1,684.9 965.6,687.3 965.1,686.6 964.6,687.2 964.1,687.2 963.6,687.0 963.1,687.2 962.6,685.6 962.1,687.2 961.6,684.9 961.1,687.2 960.6,686.5 960.1,687.2 959.6,687.2 959.1,687.0 958.6,687.2 958.1,685.4 957.6,687.2 957.1,684.8 956.6,687.1 956.1,686.5 955.6,687.1 955.1,687.1 954.6,686.9 954.1,687.1 953.6,685.3 953.1,687.1 952.6,684.8 952.1,687.1 951.6,686.5 951.1,687.1 950.6,687.1 950.1,686.8 949.6,687.0 949.1,685.2 948.6,687.0 948.1,684.7 947.6,687.0 947.1,686.4 946.6,687.0 946.1,687.0 945.6,686.7 945.1,687.0 944.6,685.1 944.1,687.0 943.6,684.7 943.1,686.9 942.6,686.3 942.1,686.9 941.6,686.9 941.1,686.6 940.6,686.9 940.1,685.0 939.6,686.9 939.1,684.6 938.6,686.9 938.1,686.3 937.6,686.8 937.1,686.8 936.6,686.5 936.1,686.8 935.6,684.9 935.1,686.8 934.6,684.6 934.1,686.8 933.6,686.2 933.1,686.8 932.6,686.8 932.1,686.4 931.6,686.7 931.1,684.7 930.6,686.7 930.1,684.5 929.6,686.7 929.1,686.2 928.6,686.7 928.1,686.7 927.6,686.3 927.1,686.7 926.6,684.6 926.1,686.6 925.6,684.4 925.1,686.6 924.6,686.1 924.1,686.6 923.6,686.6 923.1,686.2 922.6,686.6 922.1,684.5 921.6,686.5 921.1,684.3 920.6,686.5 920.1,686.0 919.6,686.5 919.1,686.5 918.6,686.1 918.1,686.5 917.6,684.3 917.1,686.4 916.6,684.3 916.1,686.4 915.6,686.0 915.1,686.4 914.6,686.4 914.1,685.9 913.6,686.4 913.1,684.2 912.6,686.3 912.1,684.2 911.6,686.3 911.1,685.9 910.6,686.3 910.1,686.3 909.6,685.8 909.1,686.3 908.6,684.0 908.1,686.2 907.6,684.1 907.1,686.2 906.6,685.8 906.1,686.2 905.6,686.2 905.1,685.7 904.6,686.2 904.1,683.8 903.6,686.1 903.1,684.0 902.6,686.1 902.1,685.7 901.6,686.1 901.1,686.1 900.6,685.5 900.1,686.0 899.6,683.7 899.1,686.0 898.6,683.9 898.1,686.0 897.6,685.6 897.1,685.9 896.6,685.9 896.1,685.4 895.6,685.9 895.1,683.5 894.6,685.9 894.1,683.8 893.6,685.9 893.1,685.5 892.6,685.8 892.1,685.8 891.6,685.2 891.1,685.8 890.6,683.3 890.1,685.8 889.6,683.7 889.1,685.7 888.6,685.4 888.1,685.7 887.6,685.7 887.1,685.1 886.6,685.6 886.1,683.1 885.6,685.6 885.1,683.6 884.6,685.6 884.1,685.3 883.6,685.5 883.1,685.5 882.6,684.9 882.1,685.5 881.6,683.0 881.1,685.5 880.6,683.4 880.1,685.4 879.6,685.1 879.1,685.4 878.6,685.4 878.1,684.7 877.6,685.3 877.1,682.7 876.6,685.3 876.1,683.3 875.6,685.3 875.1,685.0 874.6,685.2 874.1,685.2 873.6,684.5 873.1,685.2 872.6,682.5 872.1,685.1 871.6,683.2 871.1,685.1 870.6,684.9 870.1,685.0 869.6,685.0 869.1,684.3 868.6,685.0 868.1,682.2 867.6,685.0 867.1,683.0 866.6,684.9 866.1,684.7 865.6,684.9 865.1,684.9 864.6,684.1 864.1,684.8 863.6,682.0 863.1,684.8 862.6,682.8 862.1,684.7 861.6,684.5 861.1,684.7 860.6,684.7 860.1,683.9 859.6,684.6 859.1,681.8 858.6,684.6 858.1,682.7 857.6,684.5 857.1,684.3 856.6,684.4 856.1,684.4 855.6,683.6 855.1,684.4 854.6,681.5 854.1,684.3 853.6,682.5 853.1,684.3 852.6,684.1 852.1,684.2 851.6,684.2 851.1,683.3 850.6,684.2 850.1,681.2 849.6,684.1 849.1,682.2 848.6,684.0 848.1,683.9 847.6,684.0 847.1,684.0 846.6,683.1 846.1,683.9 845.6,680.8 845.1,683.8 844.6,682.0 844.1,683.8 843.6,683.6 843.1,683.7 842.6,683.7 842.1,682.8 841.6,683.6 841.1,680.5 840.6,683.6 840.1,681.8 839.6,683.5 839.1,683.4 838.6,683.4 838.1,683.4 837.6,682.4 837.1,683.3 836.6,680.1 836.1,683.3 835.6,681.5 835.1,683.2 834.6,683.1 834.1,683.1 833.6,683.1 833.1,682.1 832.6,683.0 832.1,679.7 831.6,682.9 831.1,681.2 830.6,682.9 830.1,682.8 829.6,682.8 829.1,682.8 828.6,681.7 828.1,682.7 827.6,679.3 827.1,682.6 826.6,680.9 826.1,682.5 825.6,682.4 825.1,682.4 824.6,682.4 824.1,681.3 823.6,682.3 823.1,678.8 822.6,682.2 822.1,680.5 821.6,682.1 821.1,682.0 820.6,682.0 820.1,682.0 819.6,680.8 819.1,681.9 818.6,678.4 818.1,681.8 817.6,680.1 817.1,681.7 816.6,681.6 816.1,681.5 815.6,681.5 815.1,680.3 814.6,681.4 814.1,677.8 813.6,681.3 813.1,679.7 812.6,681.2 812.1,681.1 811.6,681.1 811.1,681.1 810.6,679.8 810.1,680.9 809.6,677.2 809.1,680.8 808.6,679.2 808.1,680.7 807.6,680.6 807.1,680.5 806.6,680.5 806.1,679.2 805.6,680.4 805.1,676.6 804.6,680.2 804.1,678.7 803.6,680.1 803.1,680.0 802.6,679.9 802.1,679.9 801.6,678.5 801.1,679.8 800.6,675.8 800.1,679.6 799.6,678.1 799.1,679.4 798.6,679.4 798.1,679.2 797.6,679.2 797.1,677.8 796.6,679.1 796.1,675.1 795.6,678.9 795.1,677.4 794.6,678.7 794.1,678.7 793.6,678.5 793.1,678.5 792.6,677.0 792.1,678.3 791.6,674.2 791.1,678.1 790.6,676.6 790.1,677.9 789.6,677.8 789.1,677.6 788.6,677.6 788.1,676.0 787.6,677.4 787.1,673.3 786.6,677.2 786.1,675.7 785.6,676.9 785.1,676.9 784.6,676.6 784.1,676.7 783.6,675.0 783.1,676.4 782.6,672.4 782.1,676.1 781.6,674.7 781.1,675.8 780.6,675.8 780.1,675.5 779.6,675.5 779.1,673.8 778.6,675.2 778.1,671.2 777.6,674.9 777.1,673.6 776.6,674.6 776.1,674.6 775.6,674.2 775.1,674.2 774.6,672.4 774.1,673.9 773.6,669.8 773.1,673.5 772.6,672.2 772.1,673.1 771.6,673.1 771.1,672.7 770.6,672.7 770.1,670.7 769.6,672.3 769.1,668.3 768.6,671.9 768.1,670.6 767.6,671.4 767.1,671.4 766.6,670.9 766.1,670.9 765.6,668.9 765.1,670.4 764.6,666.4 764.1,669.9 763.6,668.7 763.1,669.3 762.6,669.3 762.1,668.7 761.6,668.8 761.1,666.5 760.6,668.2 760.1,664.2 759.6,667.5 759.1,666.3 758.6,666.8 758.1,666.8 757.6,666.1 757.1,666.1 756.6,663.7 756.1,665.4 755.6,661.4 755.1,664.6 754.6,663.4 754.1,663.7 753.6,663.7 753.1,662.7 752.6,662.8 752.1,660.1 751.6,661.9 751.1,657.8 750.6,660.8 750.1,659.7 749.6,659.8 749.1,659.8 748.6,658.5 748.1,658.6 747.6,655.5 747.1,657.3 746.6,653.3 746.1,656.0 745.6,654.9 745.1,654.6 744.6,654.6 744.1,652.9 743.6,653.0 743.1,649.5 742.6,651.3 742.1,647.3 741.6,649.5 741.1,648.4 740.6,647.5 740.1,647.5 739.6,645.3 739.1,645.4 738.6,641.2 738.1,643.0 737.6,639.0 737.1,640.4 736.6,639.4 736.1,637.6 735.6,637.6 735.1,634.3 734.6,634.4 734.1,629.0 733.6,630.9 733.1,626.9 732.6,627.1 732.1,626.1 731.6,622.7 731.1,622.7 730.6,617.8 730.1,617.9 729.6,610.6 729.1,612.4 728.6,608.3 728.1,606.3 727.6,605.4 727.1,599.4 726.6,599.4 726.1,591.4 725.6,591.6 725.1,583.2 724.6,582.7 724.1,578.6 723.6,572.6 723.1,571.7 722.6,561.2 722.1,561.2 721.6,548.1 721.1,548.2 720.6,539.2 720.1,533.5 719.6,529.4 719.2,516.9 718.8,516.1 718.5,498.2 718.1,498.2 717.7,483.3 717.3,477.2 716.9,468.1 716.6,453.8 716.2,450.1 715.8,429.0" fill="#0a0a0a" stroke="#0a0a0a" stroke-width="0.7" stroke-linejoin="round"/>
<polyline fill="none" stroke="#0a0a0a" stroke-width="0.95" stroke-linejoin="round" points="499.20,430.26 499.31,427.92 499.42,427.22 499.53,427.58 499.64,428.00 499.75,427.44 499.86,425.19 499.96,421.11 500.07,415.73 500.18,410.03 500.29,405.03 500.40,401.53 500.51,399.79 500.62,399.48 500.73,399.79 500.84,399.67 500.95,398.18 501.05,394.86 501.16,389.87 501.27,384.00 501.38,378.28 501.49,373.68 501.60,370.77 501.71,369.54 501.82,369.45 501.93,369.53 502.04,368.73 502.14,366.28 502.25,362.00 502.36,356.35 502.47,350.23 502.58,344.72 502.69,340.63 502.80,338.31 502.91,337.51 503.02,337.49 503.13,337.19 503.23,335.66 503.34,332.34 503.45,327.29 503.56,321.21 503.67,315.10 503.78,309.97 503.89,306.48 504.00,304.74 504.11,304.30 504.22,304.24 504.32,303.53 504.43,301.31 504.54,297.25 504.65,291.69 504.76,285.44 504.87,279.58 504.98,274.99 505.09,272.17 505.20,271.01 505.31,270.87 505.41,270.75 505.52,269.65 505.63,266.87 505.74,262.31 505.85,256.49 505.96,250.36 506.07,244.95 506.18,241.06 506.29,238.98 506.40,238.42 506.50,238.59 506.61,238.46 506.72,237.09 506.83,233.95 506.94,229.16 507.05,223.38 507.16,217.63 507.27,212.90 507.38,209.85 507.49,208.59 507.59,208.69 507.70,209.24 507.81,209.22 507.92,207.78 508.03,204.56 508.14,199.84 508.25,194.40 508.36,189.29 508.47,185.44 508.58,183.36 508.68,183.04 508.79,183.89 508.90,184.96 509.01,185.24 509.12,183.99 509.23,180.99 509.34,176.65 509.45,171.86 509.56,167.63 509.67,164.83 509.77,163.87 509.88,164.60 509.99,166.34 510.10,168.12 510.21,168.94 510.32,168.16 510.43,165.70 510.54,162.05 510.65,158.15 510.76,155.00 510.86,153.41 510.97,153.68 511.08,155.57 511.19,158.35 511.30,161.02 511.41,162.63 511.52,162.62 511.63,160.97 511.74,158.27 511.85,155.46 511.95,153.52 512.06,153.20 512.17,154.75 512.28,157.86 512.39,161.77 512.50,165.49 512.61,168.10 512.72,169.08 512.83,168.46 512.94,166.86 513.04,165.20 513.15,164.46 513.26,165.35 513.37,168.09 513.48,172.36 513.59,177.39 513.70,182.20 513.81,185.90 513.92,187.96 514.03,188.43 514.13,187.89 514.24,187.27 514.35,187.51 514.46,189.31 514.57,192.92 514.68,198.04 514.79,203.95 514.90,209.68 515.01,214.32 515.12,217.34 515.22,218.72 515.33,218.97 515.44,218.96 515.55,219.64 515.66,221.73 515.77,225.53 515.88,230.83 515.99,236.99 516.10,243.09 516.21,248.22 516.31,251.74 516.42,253.52 516.53,253.94 516.64,253.80 516.75,254.00 516.86,255.33 516.97,258.19 517.08,262.55 517.19,267.88 517.30,273.36 517.40,278.08 517.51,281.29 517.62,282.68 517.73,282.43 517.84,281.16 517.95,279.77 518.06,279.07 518.17,279.65 518.28,281.68 518.39,284.85 518.49,288.50 518.60,291.75 518.71,293.78 518.82,294.03 518.93,292.44 519.04,289.42 519.15,285.74 519.26,282.27 519.37,279.77 519.48,278.65 519.58,278.90 519.69,280.05 519.80,281.35 519.91,281.93 520.02,281.04 520.13,278.35 520.24,273.99 520.35,268.55 520.46,262.88 520.57,257.86 520.67,254.14 520.78,251.98 520.89,251.17 521.00,251.13 521.11,251.00 521.22,249.93 521.33,247.32 521.44,243.03 521.55,237.41 521.66,231.18 521.76,225.28 521.87,220.51 521.98,217.38 522.09,215.94 522.20,215.80 522.31,216.21 522.42,216.28 522.53,215.23 522.64,212.63 522.75,208.56 522.85,203.58 522.96,198.55 523.07,194.36 523.18,191.71 523.29,190.91 523.40,191.79 523.51,193.77 523.62,195.98 523.73,197.54 523.84,197.80 523.94,196.57 524.05,194.13 524.16,191.20 524.27,188.66 524.38,187.36 524.49,187.80 524.60,190.10 524.71,193.88 524.82,198.42 524.93,202.82 525.03,206.26 525.14,208.26 525.25,208.80 525.36,208.32 525.47,207.62 525.58,207.55 525.69,208.83 525.80,211.83 525.91,216.48 526.02,222.28 526.12,228.45 526.23,234.11 526.34,238.53 526.45,241.32 526.56,242.58 526.67,242.82 526.78,242.82 526.89,243.38 527.00,245.12 527.11,248.33 527.21,252.88 527.32,258.24 527.43,263.65 527.54,268.27 527.65,271.42 527.76,272.75 527.87,272.36 527.98,270.74 528.09,268.65 528.20,266.86 528.30,266.01 528.41,266.39 528.52,267.95 528.63,270.23 528.74,272.55 528.85,274.09 528.96,274.20 529.07,272.49 529.18,269.01 529.29,264.24 529.39,258.90 529.50,253.82 529.61,249.70 529.72,246.94 529.83,245.58 529.94,245.24 530.05,245.27 530.16,244.89 530.27,243.39 530.38,240.33 530.48,235.73 530.59,229.99 530.70,223.86 530.81,218.19 530.92,213.73 531.03,210.92 531.14,209.84 531.25,210.15 531.36,211.18 531.47,212.12 531.57,212.23 531.68,211.02 531.79,208.45 531.90,204.91 532.01,201.11 532.12,197.90 532.23,196.03 532.34,195.94 532.45,197.71 532.56,201.00 532.66,205.14 532.77,209.31 532.88,212.73 532.99,214.87 533.10,215.64 533.21,215.35 533.32,214.66 533.43,214.34 533.54,215.14 533.65,217.50 533.75,221.53 533.86,226.94 533.97,233.12 534.08,239.26 534.19,244.57 534.30,248.46 534.41,250.70 534.52,251.47 534.63,251.28 534.74,250.86 534.84,250.90 534.95,251.96 535.06,254.24 535.17,257.65 535.28,261.73 535.39,265.80 535.50,269.10 535.61,270.97 535.72,271.02 535.83,269.23 535.93,265.94 536.04,261.80 536.15,257.56 536.26,253.91 536.37,251.33 536.48,249.99 536.59,249.71 536.70,249.99 536.81,250.17 536.92,249.54 537.02,247.54 537.13,243.94 537.24,238.88 537.35,232.88 537.46,226.69 537.57,221.10 537.68,216.78 537.79,214.11 537.90,213.12 538.01,213.47 538.11,214.55 538.22,215.61 538.33,215.95 538.44,215.10 538.55,213.00 538.66,209.96 538.77,206.60 538.88,203.71 538.99,202.01 539.10,202.01 539.20,203.87 539.31,207.41 539.42,212.10 539.53,217.18 539.64,221.89 539.75,225.57 539.86,227.92 539.97,228.97 540.08,229.15 540.19,229.10 540.29,229.52 540.40,231.00 540.51,233.88 540.62,238.15 540.73,243.48 540.84,249.29 540.95,254.83 541.06,259.36 541.17,262.34 541.28,263.50 541.38,262.97 541.49,261.16 541.60,258.71 541.71,256.29 541.82,254.50 541.93,253.67 542.04,253.87 542.15,254.86 542.26,256.15 542.37,257.10 542.47,257.05 542.58,255.52 542.69,252.30 542.80,247.52 542.91,241.65 543.02,235.41 543.13,229.53 543.24,224.70 543.35,221.34 543.46,219.58 543.56,219.22 543.67,219.75 543.78,220.52 543.89,220.85 544.00,220.20 544.11,218.35 544.22,215.45 544.33,211.95 544.44,208.54 544.55,205.98 544.65,204.86 544.76,205.54 544.87,208.07 544.98,212.14 545.09,217.17 545.20,222.44 545.31,227.20 545.42,230.90 545.53,233.27 545.64,234.39 545.74,234.67 545.85,234.70 545.96,235.12 546.07,236.45 546.18,238.99 546.29,242.76 546.40,247.47 546.51,252.60 546.62,257.47 546.73,261.38 546.83,263.77 546.94,264.32 547.05,263.03 547.16,260.22 547.27,256.44 547.38,252.35 547.49,248.60 547.60,245.66 547.71,243.79 547.82,242.95 547.92,242.85 548.03,242.98 548.14,242.74 548.25,241.56 548.36,239.06 548.47,235.15 548.58,230.07 548.69,224.35 548.80,218.69 548.91,213.81 549.01,210.33 549.12,208.61 549.23,208.70 549.34,210.37 549.45,213.09 549.56,216.20 549.67,219.03 549.78,221.04 549.89,221.97 550.00,221.88 550.10,221.15 550.21,220.35 550.32,220.12 550.43,221.01 550.54,223.36 550.65,227.23 550.76,232.40 550.87,238.38 550.98,244.51 551.09,250.08 551.19,254.45 551.30,257.20 551.41,258.20 551.52,257.60 551.63,255.83 551.74,253.46 551.85,251.07 551.96,249.16 552.07,248.06 552.18,247.84 552.28,248.34 552.39,249.17 552.50,249.82 552.61,249.72 552.72,248.39 552.83,245.56 552.94,241.25 553.05,235.77 553.16,229.67 553.27,223.67 553.37,218.44 553.48,214.57 553.59,212.39 553.70,211.97 553.81,213.09 553.92,215.26 554.03,217.88 554.14,220.32 554.25,222.04 554.36,222.79 554.46,222.58 554.57,221.72 554.68,220.74 554.79,220.24 554.90,220.75 555.01,222.65 555.12,226.07 555.23,230.85 555.34,236.59 555.45,242.70 555.55,248.50 555.66,253.33 555.77,256.67 555.88,258.26 555.99,258.10 556.10,256.47 556.21,253.85 556.32,250.80 556.43,247.88 556.54,245.53 556.64,244.01 556.75,243.34 556.86,243.34 556.97,243.64 557.08,243.73 557.19,243.12 557.30,241.38 557.41,238.31 557.52,233.98 557.63,228.72 557.73,223.10 557.84,217.78 557.95,213.43 558.06,210.58 558.17,209.54 558.28,210.36 558.39,212.81 558.50,216.42 558.61,220.59 558.72,224.67 558.82,228.12 558.93,230.58 559.04,231.97 559.15,232.49 559.26,232.52 559.37,232.57 559.48,233.13 559.59,234.58 559.70,237.10 559.81,240.64 559.91,244.95 560.02,249.58 560.13,253.96 560.24,257.48 560.35,259.61 560.46,259.99 560.57,258.48 560.68,255.22 560.79,250.61 560.90,245.20 561.00,239.61 561.11,234.48 561.22,230.27 561.33,227.31 561.44,225.66 561.55,225.16 561.66,225.47 561.77,226.09 561.88,226.51 561.99,226.30 562.09,225.23 562.20,223.30 562.31,220.78 562.42,218.13 562.53,215.93 562.64,214.73 562.75,214.97 562.86,216.89 562.97,220.48 563.08,225.48 563.18,231.42 563.29,237.70 563.40,243.64 563.51,248.63 563.62,252.20 563.73,254.13 563.84,254.42 563.95,253.31 564.06,251.21 564.17,248.62 564.27,246.02 564.38,243.82 564.49,242.26 564.60,241.45 564.71,241.26 564.82,241.45 564.93,241.61 565.04,241.31 565.15,240.15 565.26,237.87 565.36,234.42 565.47,229.99 565.58,224.98 565.69,219.96 565.80,215.57 565.91,212.38 566.02,210.83 566.13,211.15 566.24,213.32 566.35,217.10 566.45,222.01 566.56,227.47 566.67,232.83 566.78,237.54 566.89,241.18 567.00,243.54 567.11,244.68 567.22,244.82 567.33,244.34 567.44,243.65 567.54,243.15 567.65,243.10 567.76,243.65 567.87,244.78 567.98,246.30 568.09,247.89 568.20,249.16 568.31,249.66 568.42,249.01 568.53,246.97 568.63,243.49 568.74,238.74 568.85,233.11 568.96,227.16 569.07,221.51 569.18,216.80 569.29,213.51 569.40,211.99 569.51,212.34 569.62,214.42 569.72,217.91 569.83,222.30 569.94,226.99 570.05,231.43 570.16,235.16 570.27,237.87 570.38,239.52 570.49,240.24 570.60,240.31 570.71,240.12 570.81,240.03 570.92,240.33 571.03,241.21 571.14,242.70 571.25,244.68 571.36,246.88 571.47,248.95 571.58,250.47 571.69,251.02 571.80,250.28 571.90,248.05 572.01,244.35 572.12,239.40 572.23,233.63 572.34,227.60 572.45,221.93 572.56,217.23 572.67,213.98 572.78,212.50 572.89,212.89 572.99,215.02 573.10,218.57 573.21,223.05 573.32,227.89 573.43,232.54 573.54,236.51 573.65,239.50 573.76,241.38 573.87,242.25 573.98,242.34 574.08,241.96 574.19,241.48 574.30,241.19 574.41,241.30 574.52,241.91 574.63,242.97 574.74,244.33 574.85,245.72 574.96,246.79 575.07,247.19 575.17,246.58 575.28,244.74 575.39,241.62 575.50,237.33 575.61,232.20 575.72,226.71 575.83,221.45 575.94,216.99 576.05,213.85 576.16,212.41 576.26,212.85 576.37,215.15 576.48,219.06 576.59,224.15 576.70,229.89 576.81,235.67 576.92,240.91 577.03,245.14 577.14,248.06 577.25,249.55 577.35,249.68 577.46,248.67 577.57,246.86 577.68,244.61 577.79,242.29 577.90,240.21 578.01,238.57 578.12,237.48 578.23,236.93 578.34,236.77 578.44,236.78 578.55,236.65 578.66,236.09 578.77,234.87 578.88,232.86 578.99,230.12 579.10,226.86 579.21,223.45 579.32,220.36 579.43,218.05 579.53,216.96 579.64,217.37 579.75,219.40 579.86,222.99 579.97,227.88 580.08,233.65 580.19,239.77 580.30,245.63 580.41,250.66 580.52,254.37 580.62,256.37 580.73,256.51 580.84,254.81 580.95,251.49 581.06,246.93 581.17,241.63 581.28,236.14 581.39,230.99 581.50,226.64 581.61,223.44 581.71,221.56 581.82,221.05 581.93,221.74 582.04,223.36 582.15,225.53 582.26,227.84 582.37,229.93 582.48,231.55 582.59,232.57 582.70,233.03 582.80,233.11 582.91,233.05 583.02,233.12 583.13,233.58 583.24,234.57 583.35,236.17 583.46,238.32 583.57,240.86 583.68,243.55 583.79,246.08 583.89,248.10 584.00,249.28 584.11,249.33 584.22,248.07 584.33,245.44 584.44,241.54 584.55,236.65 584.66,231.19 584.77,225.67 584.88,220.67 584.98,216.71 585.09,214.23 585.20,213.53 585.31,214.70 585.42,217.67 585.53,222.17 585.64,227.76 585.75,233.90 585.86,240.00 585.97,245.48 586.07,249.84 586.18,252.73 586.29,253.93 586.40,253.44 586.51,251.41 586.62,248.12 586.73,243.98 586.84,239.42 586.95,234.92 587.06,230.87 587.16,227.62 587.27,225.40 587.38,224.30 587.49,224.26 587.60,225.12 587.71,226.59 587.82,228.35 587.93,230.09 588.04,231.53 588.15,232.53 588.25,233.06 588.36,233.21 588.47,233.15 588.58,233.10 588.69,233.28 588.80,233.84 588.91,234.87 589.02,236.37 589.13,238.25 589.24,240.37 589.34,242.49 589.45,244.38 589.56,245.77 589.67,246.40 589.78,246.06 589.89,244.64 590.00,242.10 590.11,238.55 590.22,234.25 590.33,229.56 590.43,224.94 590.54,220.87 590.65,217.83 590.76,216.18 590.87,216.17 590.98,217.88 591.09,221.21 591.20,225.90 591.31,231.55 591.42,237.63 591.52,243.58 591.63,248.84 591.74,252.91 591.85,255.38 591.96,256.01 592.07,254.75 592.18,251.71 592.29,247.18 592.40,241.59 592.51,235.48 592.61,229.43 592.72,223.98 592.83,219.63 592.94,216.76 593.05,215.59 593.16,216.18 593.27,218.41 593.38,222.01 593.49,226.57 593.60,231.63 593.70,236.67 593.81,241.22 593.92,244.91 594.03,247.47 594.14,248.74 594.25,248.73 594.36,247.53 594.47,245.36 594.58,242.48 594.69,239.19 594.79,235.83 594.90,232.69 595.01,230.07 595.12,228.15 595.23,227.05 595.34,226.80 595.45,227.30 595.56,228.37 595.67,229.79 595.78,231.31 595.88,232.70 595.99,233.82 596.10,234.57 596.21,234.99 596.32,235.15 596.43,235.18 596.54,235.19 596.65,235.31 596.76,235.59 596.87,236.05 596.97,236.69 597.08,237.44 597.19,238.24 597.30,238.99 597.41,239.60 597.52,239.95 597.63,239.93 597.74,239.44 597.85,238.41 597.96,236.82 598.06,234.73 598.17,232.28 598.28,229.71 598.39,227.29 598.50,225.32 598.61,224.08 598.72,223.79 598.83,224.54 598.94,226.35 599.05,229.07 599.15,232.50 599.26,236.32 599.37,240.18 599.48,243.73 599.59,246.62 599.70,248.56 599.81,249.35 599.92,248.84 600.03,247.04 600.14,244.02 600.24,240.03 600.35,235.39 600.46,230.50 600.57,225.84 600.68,221.86 600.79,218.96 600.90,217.47 601.01,217.57 601.12,219.27 601.23,222.46 601.33,226.86 601.44,232.07 601.55,237.62 601.66,243.00 601.77,247.70 601.88,251.30 601.99,253.44 602.10,253.90 602.21,252.63 602.32,249.72 602.42,245.40 602.53,240.06 602.64,234.18 602.75,228.31 602.86,222.98 602.97,218.70 603.08,215.87 603.19,214.78 603.30,215.53 603.41,218.06 603.51,222.16 603.62,227.44 603.73,233.43 603.84,239.57 603.95,245.31 604.06,250.11 604.17,253.53 604.28,255.24 604.39,255.09 604.50,253.09 604.60,249.41 604.71,244.39 604.82,238.48 604.93,232.24 605.04,226.23 605.15,221.00 605.26,217.05 605.37,214.73 605.48,214.26 605.59,215.68 605.69,218.87 605.80,223.53 605.91,229.23 606.02,235.46 606.13,241.63 606.24,247.19 606.35,251.62 606.46,254.51 606.57,255.60 606.68,254.79 606.78,252.15 606.89,247.92 607.00,242.50 607.11,236.38 607.22,230.12 607.33,224.30 607.44,219.45 607.55,216.02 607.66,214.32 607.77,214.51 607.87,216.57 607.98,220.32 608.09,225.40 608.20,231.35 608.31,237.63 608.42,243.66 608.53,248.88 608.64,252.82 608.75,255.10 608.86,255.54 608.96,254.07 609.07,250.84 609.18,246.15 609.29,240.43 609.40,234.20 609.51,228.03 609.62,222.49 609.73,218.10 609.84,215.25 609.95,214.20 610.05,215.05 610.16,217.72 610.27,221.96 610.38,227.38 610.49,233.49 610.60,239.71 610.71,245.48 610.82,250.26 610.93,253.63 611.04,255.27 611.14,255.04 611.25,252.97 611.36,249.25 611.47,244.22 611.58,238.36 611.69,232.20 611.80,226.31 611.91,221.23 612.02,217.42 612.13,215.23 612.23,214.85 612.34,216.31 612.45,219.45 612.56,223.98 612.67,229.46 612.78,235.38 612.89,241.19 613.00,246.36 613.11,250.42 613.22,253.02 613.32,253.95 613.43,253.14 613.54,250.69 613.65,246.84 613.76,241.96 613.87,236.51 613.98,230.98 614.09,225.90 614.20,221.72 614.31,218.81 614.41,217.42 614.52,217.65 614.63,219.44 614.74,222.58 614.85,226.73 614.96,231.48 615.07,236.35 615.18,240.89 615.29,244.71 615.40,247.50 615.50,249.05 615.61,249.29 615.72,248.26 615.83,246.11 615.94,243.06 616.05,239.42 616.16,235.54 616.27,231.77 616.38,228.46 616.49,225.91 616.59,224.31 616.70,223.76 616.81,224.26 616.92,225.66 617.03,227.74 617.14,230.22 617.25,232.79 617.36,235.18 617.47,237.18 617.58,238.66 617.68,239.58 617.79,239.97 617.90,239.91 618.01,239.50 618.12,238.85 618.23,238.08 618.34,237.29 618.45,236.55 618.56,235.95 618.67,235.52 618.77,235.27 618.88,235.18 618.99,235.18 619.10,235.13 619.21,234.93 619.32,234.45 619.43,233.62 619.54,232.44 619.65,231.01 619.76,229.49 619.86,228.12 619.97,227.14 620.08,226.78 620.19,227.20 620.30,228.47 620.41,230.54 620.52,233.29 620.63,236.49 620.74,239.87 620.85,243.10 620.95,245.86 621.06,247.86 621.17,248.83 621.28,248.59 621.39,247.05 621.50,244.26 621.61,240.37 621.72,235.68 621.83,230.60 621.94,225.61 622.04,221.20 622.15,217.85 622.26,215.92 622.37,215.68 622.48,217.20 622.59,220.39 622.70,224.99 622.81,230.61 622.92,236.72 623.03,242.77 623.13,248.18 623.24,252.45 623.35,255.15 623.46,256.04 623.57,255.03 623.68,252.21 623.79,247.87 623.90,242.43 624.01,236.40 624.12,230.36 624.22,224.87 624.33,220.42 624.44,217.40 624.55,216.03 624.66,216.38 624.77,218.33 624.88,221.62 624.99,225.83 625.10,230.51 625.21,235.15 625.31,239.33 625.42,242.69 625.53,245.01 625.64,246.21 625.75,246.34 625.86,245.54 625.97,244.04 626.08,242.08 626.19,239.94 626.30,237.85 626.40,236.03 626.51,234.62 626.62,233.69 626.73,233.22 626.84,233.10 626.95,233.17 627.06,233.21 627.17,232.99 627.28,232.37 627.39,231.27 627.49,229.75 627.60,227.99 627.71,226.26 627.82,224.89 627.93,224.19 628.04,224.43 628.15,225.76 628.26,228.20 628.37,231.63 628.48,235.79 628.58,240.35 628.69,244.85 628.80,248.86 628.91,251.93 629.02,253.67 629.13,253.83 629.24,252.28 629.35,249.08 629.46,244.46 629.57,238.81 629.67,232.65 629.78,226.58 629.89,221.17 630.00,216.95 630.11,214.32 630.22,213.52 630.33,214.59 630.44,217.39 630.55,221.60 630.66,226.75 630.76,232.30 630.87,237.69 630.98,242.41 631.09,246.07 631.20,248.44 631.31,249.42 631.42,249.12 631.53,247.75 631.64,245.60 631.75,243.02 631.85,240.33 631.96,237.85 632.07,235.80 632.18,234.33 632.29,233.45 632.40,233.09 632.51,233.06 632.62,233.12 632.73,232.98 632.84,232.41 632.94,231.27 633.05,229.54 633.16,227.38 633.27,225.07 633.38,222.98 633.49,221.52 633.60,221.05 633.71,221.83 633.82,223.97 633.93,227.43 634.03,231.97 634.14,237.23 634.25,242.73 634.36,247.92 634.47,252.26 634.58,255.29 634.69,256.64 634.80,256.12 634.91,253.75 635.02,249.75 635.12,244.51 635.23,238.54 635.34,232.45 635.45,226.82 635.56,222.16 635.67,218.86 635.78,217.16 635.89,217.06 636.00,218.43 636.11,220.93 636.21,224.12 636.32,227.54 636.43,230.72 636.54,233.33 636.65,235.17 636.76,236.25 636.87,236.70 636.98,236.78 637.09,236.78 637.20,237.00 637.30,237.65 637.41,238.85 637.52,240.59 637.63,242.75 637.74,245.08 637.85,247.27 637.96,248.95 638.07,249.76 638.18,249.37 638.29,247.59 638.39,244.39 638.50,239.93 638.61,234.54 638.72,228.72 638.83,223.06 638.94,218.17 639.05,214.55 639.16,212.61 639.27,212.55 639.38,214.35 639.48,217.79 639.59,222.45 639.70,227.81 639.81,233.27 639.92,238.26 640.03,242.34 640.14,245.21 640.25,246.79 640.36,247.18 640.47,246.62 640.57,245.45 640.68,244.05 640.79,242.73 640.90,241.74 641.01,241.24 641.12,241.22 641.23,241.57 641.34,242.06 641.45,242.37 641.56,242.15 641.66,241.09 641.77,238.99 641.88,235.78 641.99,231.65 642.10,226.92 642.21,222.10 642.32,217.76 642.43,214.46 642.54,212.66 642.65,212.64 642.75,214.49 642.86,218.06 642.97,223.00 643.08,228.79 643.19,234.82 643.30,240.48 643.41,245.20 643.52,248.62 643.63,250.54 643.74,251.00 643.84,250.23 643.95,248.56 644.06,246.44 644.17,244.25 644.28,242.36 644.39,240.99 644.50,240.23 644.61,240.02 644.72,240.16 644.83,240.33 644.93,240.16 645.04,239.27 645.15,237.42 645.26,234.49 645.37,230.59 645.48,226.06 645.59,221.37 645.70,217.12 645.81,213.88 645.92,212.12 646.02,212.14 646.13,214.03 646.24,217.64 646.35,222.59 646.46,228.34 646.57,234.28 646.68,239.78 646.79,244.30 646.90,247.50 647.01,249.25 647.11,249.64 647.22,248.95 647.33,247.59 647.44,245.98 647.55,244.51 647.66,243.49 647.77,243.06 647.88,243.22 647.99,243.79 648.10,244.46 648.20,244.85 648.31,244.54 648.42,243.17 648.53,240.55 648.64,236.67 648.75,231.79 648.86,226.36 648.97,220.96 649.08,216.23 649.19,212.75 649.29,210.93 649.40,210.99 649.51,212.90 649.62,216.37 649.73,220.93 649.84,226.00 649.95,230.93 650.06,235.20 650.17,238.42 650.28,240.46 650.38,241.42 650.49,241.60 650.60,241.40 650.71,241.26 650.82,241.55 650.93,242.52 651.04,244.21 651.15,246.52 651.26,249.15 651.37,251.69 651.47,253.62 651.58,254.48 651.69,253.88 651.80,251.62 651.91,247.73 652.02,242.51 652.13,236.45 652.24,230.19 652.35,224.39 652.46,219.64 652.56,216.37 652.67,214.79 652.78,214.87 652.89,216.31 653.00,218.64 653.11,221.31 653.22,223.74 653.33,225.52 653.44,226.41 653.55,226.46 653.65,225.96 653.76,225.37 653.87,225.19 653.98,225.89 654.09,227.80 654.20,231.02 654.31,235.44 654.42,240.71 654.53,246.31 654.64,251.62 654.74,256.00 654.85,258.93 654.96,260.06 655.07,259.32 655.18,256.87 655.29,253.13 655.40,248.66 655.51,244.05 655.62,239.86 655.73,236.51 655.83,234.21 655.94,232.96 656.05,232.54 656.16,232.53 656.27,232.44 656.38,231.78 656.49,230.18 656.60,227.50 656.71,223.89 656.82,219.75 656.92,215.64 657.03,212.21 657.14,210.06 657.25,209.60 657.36,211.01 657.47,214.19 657.58,218.79 657.69,224.22 657.80,229.82 657.91,234.93 658.01,239.03 658.12,241.83 658.23,243.32 658.34,243.76 658.45,243.58 658.56,243.30 658.67,243.41 658.78,244.24 658.89,245.94 659.00,248.43 659.10,251.42 659.21,254.42 659.32,256.89 659.43,258.26 659.54,258.09 659.65,256.14 659.76,252.47 659.87,247.40 659.98,241.48 660.09,235.39 660.19,229.80 660.30,225.27 660.41,222.15 660.52,220.55 660.63,220.27 660.74,220.92 660.85,221.92 660.96,222.68 661.07,222.72 661.18,221.77 661.28,219.87 661.39,217.36 661.50,214.77 661.61,212.76 661.72,211.92 661.83,212.69 661.94,215.22 662.05,219.39 662.16,224.83 662.27,230.91 662.37,236.93 662.48,242.22 662.59,246.25 662.70,248.77 662.81,249.82 662.92,249.73 663.03,249.00 663.14,248.19 663.25,247.82 663.36,248.21 663.46,249.49 663.57,251.52 663.68,253.95 663.79,256.25 663.90,257.83 664.01,258.14 664.12,256.79 664.23,253.70 664.34,249.04 664.45,243.30 664.55,237.15 664.66,231.28 664.77,226.34 664.88,222.77 664.99,220.73 665.10,220.10 665.21,220.49 665.32,221.32 665.43,221.97 665.54,221.87 665.64,220.72 665.75,218.51 665.86,215.58 665.97,212.49 666.08,209.93 666.19,208.55 666.30,208.80 666.41,210.89 666.52,214.69 666.63,219.78 666.73,225.51 666.84,231.16 666.95,236.04 667.06,239.68 667.17,241.90 667.28,242.85 667.39,242.97 667.50,242.84 667.61,243.05 667.72,244.08 667.82,246.17 667.93,249.30 668.04,253.16 668.15,257.24 668.26,260.88 668.37,263.42 668.48,264.36 668.59,263.43 668.70,260.71 668.81,256.55 668.91,251.58 669.02,246.48 669.13,241.92 669.24,238.38 669.35,236.09 669.46,234.98 669.57,234.69 669.68,234.66 669.79,234.25 669.90,232.90 670.00,230.26 670.11,226.32 670.22,221.40 670.33,216.13 670.44,211.23 670.55,207.43 670.66,205.25 670.77,204.94 670.88,206.39 670.99,209.18 671.09,212.66 671.20,216.09 671.31,218.82 671.42,220.42 671.53,220.85 671.64,220.39 671.75,219.60 671.86,219.20 671.97,219.81 672.08,221.88 672.18,225.56 672.29,230.64 672.40,236.65 672.51,242.88 672.62,248.58 672.73,253.08 672.84,255.96 672.95,257.17 673.06,256.97 673.17,255.90 673.27,254.62 673.38,253.75 673.49,253.75 673.60,254.78 673.71,256.74 673.82,259.21 673.93,261.59 674.04,263.19 674.15,263.41 674.26,261.88 674.36,258.56 674.47,253.78 674.58,248.12 674.69,242.35 674.80,237.19 674.91,233.19 675.02,230.60 675.13,229.37 675.24,229.09 675.35,229.16 675.45,228.85 675.56,227.56 675.67,224.94 675.78,221.01 675.89,216.17 676.00,211.10 676.11,206.59 676.22,203.36 676.33,201.86 676.44,202.22 676.54,204.21 676.65,207.26 676.76,210.61 676.87,213.51 676.98,215.38 677.09,215.96 677.20,215.44 677.31,214.32 677.42,213.32 677.53,213.19 677.63,214.51 677.74,217.52 677.85,222.14 677.96,227.90 678.07,234.12 678.18,239.99 678.29,244.79 678.40,248.07 678.51,249.76 678.62,250.18 678.72,249.92 678.83,249.70 678.94,250.17 679.05,251.75 679.16,254.57 679.27,258.38 679.38,262.66 679.49,266.69 679.60,269.72 679.71,271.16 679.81,270.74 679.92,268.54 680.03,265.02 680.14,260.89 680.25,256.90 680.36,253.69 680.47,251.65 680.58,250.83 680.69,250.93 680.80,251.36 680.90,251.41 681.01,250.38 681.12,247.81 681.23,243.61 681.34,238.07 681.45,231.86 681.56,225.78 681.67,220.60 681.78,216.89 681.89,214.86 681.99,214.34 682.10,214.79 682.21,215.47 682.32,215.59 682.43,214.56 682.54,212.13 682.65,208.51 682.76,204.28 682.87,200.24 682.98,197.22 683.08,195.80 683.19,196.27 683.30,198.46 683.41,201.85 683.52,205.66 683.63,209.06 683.74,211.37 683.85,212.30 683.96,211.98 684.07,210.96 684.17,210.01 684.28,209.93 684.39,211.34 684.50,214.50 684.61,219.25 684.72,225.08 684.83,231.20 684.94,236.76 685.05,241.08 685.16,243.80 685.26,245.04 685.37,245.27 685.48,245.25 685.59,245.75 685.70,247.38 685.81,250.43 685.92,254.78 686.03,259.97 686.14,265.26 686.25,269.83 686.35,272.98 686.46,274.32 686.57,273.88 686.68,272.12 686.79,269.75 686.90,267.56 687.01,266.21 687.12,266.08 687.23,267.16 687.34,269.07 687.44,271.13 687.55,272.56 687.66,272.63 687.77,270.93 687.88,267.45 687.99,262.61 688.10,257.14 688.21,251.88 688.32,247.57 688.43,244.66 688.53,243.18 688.64,242.80 688.75,242.82 688.86,242.43 688.97,240.90 689.08,237.77 689.19,233.06 689.30,227.23 689.41,221.06 689.52,215.44 689.62,211.09 689.73,208.45 689.84,207.48 689.95,207.74 690.06,208.47 690.17,208.79 690.28,207.99 690.39,205.68 690.50,201.99 690.61,197.49 690.71,193.04 690.82,189.50 690.93,187.56 691.04,187.49 691.15,189.10 691.26,191.78 691.37,194.69 691.48,196.93 691.59,197.87 691.70,197.31 691.80,195.56 691.91,193.32 692.02,191.51 692.13,190.93 692.24,192.10 692.35,195.09 692.46,199.52 692.57,204.61 692.68,209.47 692.79,213.27 692.89,215.55 693.00,216.34 693.11,216.13 693.22,215.76 693.33,216.10 693.44,217.86 693.55,221.34 693.66,226.39 693.77,232.43 693.88,238.61 693.98,244.02 694.09,247.98 694.20,250.25 694.31,251.07 694.42,251.11 694.53,251.25 694.64,252.29 694.75,254.76 694.86,258.78 694.97,263.99 695.07,269.69 695.18,274.97 695.29,279.04 695.40,281.36 695.51,281.91 695.62,281.13 695.73,279.78 695.84,278.76 695.95,278.76 696.06,280.17 696.16,282.91 696.27,286.48 696.38,290.10 696.49,292.89 696.60,294.13 696.71,293.50 696.82,291.18 696.93,287.77 697.04,284.15 697.15,281.16 697.25,279.42 697.36,279.12 697.47,280.01 697.58,281.46 697.69,282.58 697.80,282.55 697.91,280.79 698.02,277.24 698.13,272.30 698.24,266.77 698.34,261.58 698.45,257.49 698.56,254.95 698.67,253.89 698.78,253.83 698.89,253.93 699.00,253.29 699.11,251.18 699.22,247.30 699.33,241.92 699.43,235.73 699.54,229.67 699.65,224.63 699.76,221.18 699.87,219.41 699.98,218.94 700.09,218.97 700.20,218.56 700.31,216.88 700.42,213.51 700.52,208.59 700.63,202.75 700.74,196.93 700.85,192.06 700.96,188.81 701.07,187.35 701.18,187.35 701.29,188.04 701.40,188.44 701.51,187.69 701.61,185.28 701.72,181.31 701.83,176.37 701.94,171.41 702.05,167.40 702.16,165.03 702.27,164.50 702.38,165.49 702.49,167.22 702.60,168.69 702.70,169.02 702.81,167.70 702.92,164.81 703.03,160.97 703.14,157.14 703.25,154.29 703.36,153.11 703.47,153.80 703.58,155.98 703.69,158.85 703.79,161.41 703.90,162.76 704.01,162.43 704.12,160.54 704.23,157.77 704.34,155.09 704.45,153.48 704.56,153.58 704.67,155.53 704.78,158.90 704.88,162.83 704.99,166.31 705.10,168.46 705.21,168.89 705.32,167.81 705.43,165.96 705.54,164.34 705.65,163.91 705.76,165.25 705.87,168.38 705.97,172.80 706.08,177.59 706.19,181.72 706.30,184.38 706.41,185.29 706.52,184.78 706.63,183.67 706.74,182.98 706.85,183.63 706.96,186.07 707.06,190.24 707.17,195.50 707.28,200.87 707.39,205.34 707.50,208.21 707.61,209.32 707.72,209.14 707.83,208.60 707.94,208.71 708.05,210.31 708.15,213.73 708.26,218.73 708.37,224.57 708.48,230.23 708.59,234.73 708.70,237.49 708.81,238.56 708.92,238.55 709.03,238.44 709.14,239.26 709.24,241.70 709.35,245.93 709.46,251.56 709.57,257.71 709.68,263.35 709.79,267.57 709.90,269.99 710.01,270.83 710.12,270.86 710.23,271.13 710.33,272.59 710.44,275.78 710.55,280.67 710.66,286.70 710.77,292.89 710.88,298.20 710.99,301.89 711.10,303.77 711.21,304.28 711.32,304.32 711.42,304.97 711.53,307.03 711.64,310.88 711.75,316.27 711.86,322.46 711.97,328.41 712.08,333.15 712.19,336.10 712.30,337.32 712.41,337.48 712.51,337.58 712.62,338.63 712.73,341.31 712.84,345.73 712.95,351.44 713.06,357.55 713.17,362.99 713.28,366.92 713.39,369.00 713.50,369.55 713.60,369.42 713.71,369.67 713.82,371.21 713.93,374.48 714.04,379.36 714.15,385.20 714.26,390.97 714.37,395.67 714.48,398.62 714.59,399.78 714.69,399.73 714.80,399.46 714.91,400.00 715.02,402.09 715.13,405.93 715.24,411.14 715.35,416.87 715.46,422.05 715.57,425.79 715.68,427.67 715.78,427.96 715.89,427.46 716.00,427.25 716.11,428.24"/>
<line x1="224.30" y1="689.40" x2="224.30" y2="114.00" stroke="#2a2a2a" stroke-width="1.7" stroke-dasharray="8.5 7.3"/>
<line x1="988.80" y1="689.40" x2="988.80" y2="114.00" stroke="#444" stroke-width="1.5" stroke-dasharray="8.5 7.3"/>
<line x1="497.40" y1="118.70" x2="497.40" y2="689.40" stroke="#2a2a2a" stroke-width="1.5" />
<line x1="716.70" y1="118.70" x2="716.70" y2="689.40" stroke="#2a2a2a" stroke-width="1.5" />
<line x1="606.65" y1="115.75" x2="606.65" y2="693.00" stroke="#ff3434" stroke-width="1.75" stroke-dasharray="8.8 7.1" stroke-dashoffset="2.8"/>
<line x1="233.84" y1="303.10" x2="594.26" y2="303.10" stroke="#1a1a1a" stroke-width="1.4" />
<polygon points="604.50,303.10 591.70,306.70 591.70,299.50" fill="#000"/>
<polygon points="223.60,303.10 236.40,299.50 236.40,306.70" fill="#000"/>
<line x1="623.84" y1="314.10" x2="980.56" y2="314.10" stroke="#1a1a1a" stroke-width="1.4" />
<polygon points="990.80,314.10 978.00,317.70 978.00,310.50" fill="#000"/>
<polygon points="613.60,314.10 626.40,310.50 626.40,317.70" fill="#000"/>
<line x1="327.80" y1="309.90" x2="363.08" y2="409.35" stroke="#1a1a1a" stroke-width="1.4" />
<polygon points="366.50,419.00 358.83,408.14 365.61,405.73" fill="#000"/>
<line x1="794.90" y1="326.00" x2="433.97" y2="438.94" stroke="#1a1a1a" stroke-width="1.4" />
<polygon points="424.20,442.00 435.34,434.74 437.49,441.61" fill="#000"/>
<line x1="413.40" y1="564.30" x2="563.22" y2="610.67" stroke="#1a1a1a" stroke-width="1.4" />
<polygon points="573.00,613.70 559.71,613.35 561.84,606.48" fill="#000"/>
<line x1="763.50" y1="515.60" x2="630.76" y2="557.89" stroke="#1a1a1a" stroke-width="1.4" />
<polygon points="621.00,561.00 632.10,553.68 634.29,560.54" fill="#000"/>
<line x1="508.64" y1="623.80" x2="705.56" y2="623.80" stroke="#1a1a1a" stroke-width="1.4" />
<polygon points="715.80,623.80 703.00,627.40 703.00,620.20" fill="#000"/>
<polygon points="498.40,623.80 511.20,620.20 511.20,627.40" fill="#000"/>
<text x="376.00" y="453.80" font-family="'DejaVu Serif',serif" font-size="44.6" text-anchor="start" font-style="italic" >f</text>
<text x="403.20" y="455.80" font-family="'Liberation Serif','Times New Roman',serif" font-size="52" text-anchor="start" >'</text>
<text x="593.60" y="493.80" font-family="'Liberation Serif','Times New Roman',serif" font-size="45.0" text-anchor="start" >Center frequency</text>
<text x="919.35" y="494.90" font-family="'DejaVu Serif',serif" font-size="44.2" text-anchor="start" font-style="italic" >f</text>
<text x="935.40" y="511.90" font-family="'Liberation Serif','Times New Roman',serif" font-size="28.2" text-anchor="start" >0</text>
<text x="230.00" y="543.20" font-family="'Liberation Serif','Times New Roman',serif" font-size="45.4" text-anchor="start" >Bandwidth B</text>
<text x="522.90" y="923.10" font-family="'Liberation Serif','Times New Roman',serif" font-size="62.3" text-anchor="start" >(</text>
<text x="543.35" y="921.90" font-family="'Liberation Serif','Times New Roman',serif" font-size="58.5" text-anchor="start" font-weight="bold" >a</text>
<text x="572.10" y="923.10" font-family="'Liberation Serif','Times New Roman',serif" font-size="62.3" text-anchor="start" >)</text>
<line x1="1267.30" y1="91.70" x2="1267.30" y2="683.30" stroke="#111" stroke-width="2.0" />
<line x1="1254.90" y1="671.30" x2="2285.60" y2="671.30" stroke="#111" stroke-width="2.0" />
<text x="1246.80" y="682.00" font-family="'Liberation Sans',Arial,sans-serif" font-size="31.0" text-anchor="end" >0.0</text>
<line x1="1260.30" y1="635.14" x2="1267.30" y2="635.14" stroke="#111" stroke-width="2.0" />
<line x1="1254.90" y1="598.97" x2="1267.30" y2="598.97" stroke="#111" stroke-width="2.0" />
<text x="1246.80" y="609.67" font-family="'Liberation Sans',Arial,sans-serif" font-size="31.0" text-anchor="end" >0.5</text>
<line x1="1260.30" y1="562.81" x2="1267.30" y2="562.81" stroke="#111" stroke-width="2.0" />
<line x1="1254.90" y1="526.65" x2="1267.30" y2="526.65" stroke="#111" stroke-width="2.0" />
<text x="1246.80" y="537.35" font-family="'Liberation Sans',Arial,sans-serif" font-size="31.0" text-anchor="end" >1.0</text>
<line x1="1260.30" y1="490.49" x2="1267.30" y2="490.49" stroke="#111" stroke-width="2.0" />
<line x1="1254.90" y1="454.32" x2="1267.30" y2="454.32" stroke="#111" stroke-width="2.0" />
<text x="1246.80" y="465.02" font-family="'Liberation Sans',Arial,sans-serif" font-size="31.0" text-anchor="end" >1.5</text>
<line x1="1260.30" y1="418.16" x2="1267.30" y2="418.16" stroke="#111" stroke-width="2.0" />
<line x1="1254.90" y1="382.00" x2="1267.30" y2="382.00" stroke="#111" stroke-width="2.0" />
<text x="1246.80" y="392.70" font-family="'Liberation Sans',Arial,sans-serif" font-size="31.0" text-anchor="end" >2.0</text>
<line x1="1260.30" y1="345.84" x2="1267.30" y2="345.84" stroke="#111" stroke-width="2.0" />
<line x1="1254.90" y1="309.67" x2="1267.30" y2="309.67" stroke="#111" stroke-width="2.0" />
<text x="1246.80" y="320.37" font-family="'Liberation Sans',Arial,sans-serif" font-size="31.0" text-anchor="end" >2.5</text>
<line x1="1260.30" y1="273.51" x2="1267.30" y2="273.51" stroke="#111" stroke-width="2.0" />
<line x1="1254.90" y1="237.35" x2="1267.30" y2="237.35" stroke="#111" stroke-width="2.0" />
<text x="1246.80" y="248.05" font-family="'Liberation Sans',Arial,sans-serif" font-size="31.0" text-anchor="end" >3.0</text>
<line x1="1260.30" y1="201.19" x2="1267.30" y2="201.19" stroke="#111" stroke-width="2.0" />
<line x1="1254.90" y1="165.02" x2="1267.30" y2="165.02" stroke="#111" stroke-width="2.0" />
<text x="1246.80" y="175.72" font-family="'Liberation Sans',Arial,sans-serif" font-size="31.0" text-anchor="end" >3.5</text>
<line x1="1260.30" y1="128.86" x2="1267.30" y2="128.86" stroke="#111" stroke-width="2.0" />
<line x1="1254.90" y1="92.70" x2="1267.30" y2="92.70" stroke="#111" stroke-width="2.0" />
<text x="1246.80" y="103.40" font-family="'Liberation Sans',Arial,sans-serif" font-size="31.0" text-anchor="end" >4.0</text>
<line x1="1352.08" y1="671.30" x2="1352.08" y2="677.80" stroke="#111" stroke-width="2.0" />
<line x1="1436.85" y1="671.30" x2="1436.85" y2="683.30" stroke="#111" stroke-width="2.0" />
<line x1="1521.62" y1="671.30" x2="1521.62" y2="677.80" stroke="#111" stroke-width="2.0" />
<line x1="1606.40" y1="671.30" x2="1606.40" y2="683.30" stroke="#111" stroke-width="2.0" />
<line x1="1691.17" y1="671.30" x2="1691.17" y2="677.80" stroke="#111" stroke-width="2.0" />
<line x1="1775.95" y1="671.30" x2="1775.95" y2="683.30" stroke="#111" stroke-width="2.0" />
<line x1="1860.72" y1="671.30" x2="1860.72" y2="677.80" stroke="#111" stroke-width="2.0" />
<line x1="1945.50" y1="671.30" x2="1945.50" y2="683.30" stroke="#111" stroke-width="2.0" />
<line x1="2030.28" y1="671.30" x2="2030.28" y2="677.80" stroke="#111" stroke-width="2.0" />
<line x1="2115.05" y1="671.30" x2="2115.05" y2="683.30" stroke="#111" stroke-width="2.0" />
<line x1="2199.82" y1="671.30" x2="2199.82" y2="677.80" stroke="#111" stroke-width="2.0" />
<line x1="2284.60" y1="671.30" x2="2284.60" y2="683.30" stroke="#111" stroke-width="2.0" />
<text x="1268.30" y="722.30" font-family="'Liberation Sans',Arial,sans-serif" font-size="31.0" text-anchor="middle">7.0x10<tspan font-size="18.4" dy="-17.5" dx="1.6">9</tspan></text>
<text x="1437.85" y="722.30" font-family="'Liberation Sans',Arial,sans-serif" font-size="31.0" text-anchor="middle">8.0x10<tspan font-size="18.4" dy="-17.5" dx="1.6">9</tspan></text>
<text x="1607.40" y="722.30" font-family="'Liberation Sans',Arial,sans-serif" font-size="31.0" text-anchor="middle">9.0x10<tspan font-size="18.4" dy="-17.5" dx="1.6">9</tspan></text>
<text x="1776.95" y="722.30" font-family="'Liberation Sans',Arial,sans-serif" font-size="31.0" text-anchor="middle">1.0x10<tspan font-size="18.4" dy="-17.5" dx="1.6">10</tspan></text>
<text x="1946.50" y="722.30" font-family="'Liberation Sans',Arial,sans-serif" font-size="31.0" text-anchor="middle">1.1x10<tspan font-size="18.4" dy="-17.5" dx="1.6">10</tspan></text>
<text x="2116.05" y="722.30" font-family="'Liberation Sans',Arial,sans-serif" font-size="31.0" text-anchor="middle">1.2x10<tspan font-size="18.4" dy="-17.5" dx="1.6">10</tspan></text>
<text x="2285.60" y="722.30" font-family="'Liberation Sans',Arial,sans-serif" font-size="31.0" text-anchor="middle">1.3x10<tspan font-size="18.4" dy="-17.5" dx="1.6">10</tspan></text>
<text transform="translate(1165.5,494.2) rotate(-90)" font-family="'Liberation Serif','Times New Roman',serif" font-size="42.1">Amplitude</text>
<text x="1646.20" y="773.80" font-family="'Liberation Serif','Times New Roman',serif" font-size="42.0" text-anchor="start" >Frequency (Hz)</text>
<line x1="1298.30" y1="109.40" x2="1404.30" y2="109.40" stroke="#333" stroke-width="1.1" />
<text x="1417.60" y="126.40" font-family="'Liberation Serif','Times New Roman',serif" font-size="48.25" text-anchor="start" >Spectrum of scattering echo</text>
<polygon fill="#0a0a0a" stroke="#0a0a0a" stroke-width="0.6" stroke-linejoin="round" points="1315.3,671.3 1315.3,669.1 1317.4,669.1 1317.8,669.4 1318.1,668.4 1318.5,667.6 1318.8,666.8 1319.1,666.1 1319.4,665.4 1319.7,664.9 1320.0,664.5 1320.4,664.2 1320.7,664.1 1321.0,664.0 1321.3,664.1 1321.6,664.3 1321.9,664.7 1322.3,665.1 1322.6,665.6 1322.9,666.3 1323.2,667.0 1323.5,667.8 1323.8,668.6 1324.2,669.5 1324.5,670.4 1324.8,671.3 1325.1,670.4 1325.4,669.5 1325.7,668.7 1326.1,667.9 1326.4,667.2 1326.7,666.5 1327.0,665.9 1327.3,665.5 1327.6,665.1 1327.9,664.8 1328.3,664.7 1328.6,664.7 1328.9,664.8 1329.2,664.9 1329.5,665.3 1329.8,665.7 1330.2,666.2 1330.5,666.7 1330.8,667.4 1331.1,668.1 1331.4,668.9 1331.7,669.7 1332.1,670.5 1332.4,671.3 1332.7,670.5 1333.0,669.7 1333.3,669.0 1333.6,668.3 1334.0,667.6 1334.3,667.1 1334.6,666.6 1334.9,666.2 1335.2,665.9 1335.5,665.7 1335.9,665.6 1336.2,665.5 1336.5,665.6 1336.8,665.8 1337.1,666.1 1337.4,666.5 1337.8,666.9 1338.1,667.4 1338.4,668.0 1338.7,668.6 1339.0,669.2 1339.3,669.9 1339.6,670.6 1340.0,671.3 1340.3,670.6 1340.6,670.0 1340.9,669.3 1341.2,668.7 1341.5,668.2 1341.9,667.7 1342.2,667.3 1342.5,667.0 1342.8,666.7 1343.1,666.6 1343.4,666.5 1343.8,666.5 1344.1,666.6 1344.4,666.7 1344.7,667.0 1345.0,667.3 1345.3,667.6 1345.7,668.1 1346.0,668.5 1346.3,669.0 1346.6,669.6 1346.9,670.2 1347.2,670.7 1347.6,671.3 1347.9,670.7 1348.2,670.2 1348.5,669.7 1348.8,669.2 1349.1,668.8 1349.5,668.4 1349.8,668.1 1350.1,667.8 1350.4,667.6 1350.7,667.5 1351.0,667.4 1351.4,667.4 1351.7,667.5 1352.0,667.7 1352.3,667.9 1352.6,668.1 1352.9,668.4 1353.2,668.8 1353.6,669.1 1353.9,669.6 1354.2,670.0 1354.5,670.4 1354.8,670.9 1355.1,671.3 1355.5,670.9 1355.8,670.5 1356.1,670.1 1356.4,669.7 1356.7,669.4 1357.0,669.2 1357.4,668.9 1357.7,668.8 1358.0,668.6 1358.3,668.5 1358.6,668.5 1358.9,668.5 1359.3,668.6 1359.6,668.7 1359.9,668.9 1360.2,669.1 1360.5,669.3 1360.8,669.5 1361.2,669.8 1361.5,670.1 1361.8,670.4 1362.1,670.7 1362.4,671.0 1362.7,671.3 1363.1,671.0 1363.4,670.8 1363.7,670.5 1364.0,670.3 1364.3,670.1 1364.6,669.9 1364.9,669.8 1365.3,669.7 1365.6,669.6 1365.9,669.6 1366.2,669.6 1366.5,669.6 1366.8,669.7 1367.2,669.8 1367.5,669.9 1367.8,670.0 1368.1,670.2 1368.4,670.3 1368.7,670.5 1369.1,670.7 1369.4,670.8 1369.7,671.0 1370.0,671.1 1370.3,671.3 1370.6,671.2 1371.0,671.0 1371.3,670.9 1371.6,670.8 1371.9,670.8 1372.2,670.7 1372.5,670.7 1372.9,670.7 1373.2,670.7 1373.5,670.7 1373.8,670.7 1374.1,670.7 1374.4,670.8 1374.8,670.8 1375.1,670.9 1375.4,671.0 1375.7,671.0 1376.0,671.1 1376.3,671.2 1376.7,671.2 1377.0,671.2 1377.3,671.3 1377.6,671.3 1377.9,671.3 1378.2,671.3 1378.5,671.3 1378.9,671.3 1379.2,671.2 1379.5,671.2 1379.8,671.1 1380.1,671.1 1380.4,671.0 1380.8,671.0 1381.1,670.9 1381.4,670.9 1381.7,670.8 1382.0,670.8 1382.3,670.7 1382.7,670.7 1383.0,670.7 1383.3,670.7 1383.6,670.8 1383.9,670.8 1384.2,670.9 1384.6,671.0 1384.9,671.1 1385.2,671.2 1385.5,671.3 1385.8,671.2 1386.1,671.0 1386.5,670.9 1386.8,670.7 1387.1,670.6 1387.4,670.4 1387.7,670.3 1388.0,670.2 1388.4,670.0 1388.7,669.9 1389.0,669.9 1389.3,669.8 1389.6,669.8 1389.9,669.8 1390.2,669.8 1390.6,669.9 1390.9,670.0 1391.2,670.1 1391.5,670.2 1391.8,670.4 1392.1,670.6 1392.5,670.8 1392.8,671.0 1393.1,671.3 1393.4,671.0 1393.7,670.8 1394.0,670.5 1394.4,670.2 1394.7,670.0 1395.0,669.7 1395.3,669.5 1395.6,669.3 1395.9,669.1 1396.3,669.0 1396.6,668.9 1396.9,668.8 1397.2,668.8 1397.5,668.8 1397.8,668.9 1398.2,669.0 1398.5,669.2 1398.8,669.4 1399.1,669.6 1399.4,669.9 1399.7,670.2 1400.1,670.6 1400.4,670.9 1400.7,671.3 1401.0,670.9 1401.3,670.5 1401.6,670.1 1402.0,669.8 1402.3,669.4 1402.6,669.0 1402.9,668.7 1403.2,668.4 1403.5,668.2 1403.8,668.0 1404.2,667.8 1404.5,667.8 1404.8,667.7 1405.1,667.8 1405.4,667.9 1405.7,668.1 1406.1,668.3 1406.4,668.6 1406.7,669.0 1407.0,669.4 1407.3,669.8 1407.6,670.3 1408.0,670.8 1408.3,671.3 1408.6,670.8 1408.9,670.3 1409.2,669.8 1409.5,669.3 1409.9,668.8 1410.2,668.3 1410.5,667.9 1410.8,667.5 1411.1,667.2 1411.4,666.9 1411.8,666.8 1412.1,666.7 1412.4,666.7 1412.7,666.7 1413.0,666.9 1413.3,667.2 1413.7,667.5 1414.0,667.9 1414.3,668.4 1414.6,668.9 1414.9,669.5 1415.2,670.1 1415.5,670.7 1415.9,671.3 1416.2,670.7 1416.5,670.0 1416.8,669.4 1417.1,668.8 1417.4,668.2 1417.8,667.6 1418.1,667.0 1418.4,666.6 1418.7,666.2 1419.0,665.9 1419.3,665.7 1419.7,665.6 1420.0,665.6 1420.3,665.7 1420.6,665.9 1420.9,666.3 1421.2,666.7 1421.6,667.2 1421.9,667.8 1422.2,668.5 1422.5,669.1 1422.8,669.8 1423.1,670.6 1423.5,671.3 1423.8,670.6 1424.1,669.8 1424.4,669.1 1424.7,668.4 1425.0,667.6 1425.4,666.9 1425.7,666.2 1426.0,665.7 1426.3,665.2 1426.6,664.8 1426.9,664.6 1427.2,664.5 1427.6,664.5 1427.9,664.7 1428.2,664.9 1428.5,665.3 1428.8,665.9 1429.1,666.5 1429.5,667.2 1429.8,668.1 1430.1,668.8 1430.4,669.6 1430.7,670.5 1431.0,671.3 1431.4,670.5 1431.7,669.6 1432.0,668.9 1432.3,668.1 1432.6,667.2 1432.9,666.4 1433.3,665.6 1433.6,665.0 1433.9,664.5 1434.2,664.2 1434.5,663.9 1434.8,663.8 1435.2,663.9 1435.5,664.1 1435.8,664.4 1436.1,664.9 1436.4,665.5 1436.7,666.2 1437.1,667.0 1437.4,667.9 1437.7,668.8 1438.0,669.6 1438.3,670.4 1438.6,671.3 1439.0,670.4 1439.3,669.6 1439.6,668.8 1439.9,668.0 1440.2,667.0 1440.5,666.1 1440.8,665.4 1441.2,664.7 1441.5,664.2 1441.8,663.8 1442.1,663.5 1442.4,663.4 1442.7,663.5 1443.1,663.7 1443.4,664.1 1443.7,664.6 1444.0,665.2 1444.3,666.0 1444.6,666.9 1445.0,667.9 1445.3,668.7 1445.6,669.5 1445.9,670.4 1446.2,671.3 1446.5,670.4 1446.9,669.6 1447.2,668.7 1447.5,667.9 1447.8,666.9 1448.1,665.9 1448.4,665.1 1448.8,664.4 1449.1,663.8 1449.4,663.4 1449.7,663.1 1450.0,663.0 1450.3,663.1 1450.7,663.3 1451.0,663.7 1451.3,664.3 1451.6,665.0 1451.9,665.8 1452.2,666.8 1452.5,667.8 1452.9,668.7 1453.2,669.5 1453.5,670.4 1453.8,671.3 1454.1,670.4 1454.4,669.6 1454.8,668.7 1455.1,667.9 1455.4,666.8 1455.7,665.8 1456.0,664.9 1456.3,664.1 1456.7,663.5 1457.0,663.0 1457.3,662.7 1457.6,662.6 1457.9,662.7 1458.2,663.0 1458.6,663.4 1458.9,664.0 1459.2,664.8 1459.5,665.6 1459.8,666.7 1460.1,667.8 1460.5,668.6 1460.8,669.5 1461.1,670.4 1461.4,671.3 1461.7,670.4 1462.0,669.6 1462.4,668.7 1462.7,667.9 1463.0,666.7 1463.3,665.6 1463.6,664.7 1463.9,663.8 1464.3,663.2 1464.6,662.7 1464.9,662.3 1465.2,662.2 1465.5,662.3 1465.8,662.6 1466.1,663.1 1466.5,663.7 1466.8,664.5 1467.1,665.5 1467.4,666.6 1467.7,667.8 1468.0,668.6 1468.4,669.5 1468.7,670.4 1469.0,671.3 1469.3,670.4 1469.6,669.6 1469.9,668.8 1470.3,667.9 1470.6,666.7 1470.9,665.6 1471.2,664.7 1471.5,663.9 1471.8,663.2 1472.2,662.8 1472.5,662.5 1472.8,662.3 1473.1,662.5 1473.4,662.8 1473.7,663.3 1474.1,664.0 1474.4,664.8 1474.7,665.8 1475.0,666.9 1475.3,668.1 1475.6,668.9 1476.0,669.7 1476.3,670.5 1476.6,671.3 1476.9,670.5 1477.2,669.8 1477.5,669.0 1477.9,668.2 1478.2,667.1 1478.5,666.0 1478.8,665.1 1479.1,664.3 1479.4,663.7 1479.7,663.2 1480.1,662.9 1480.4,662.8 1480.7,663.0 1481.0,663.3 1481.3,663.8 1481.6,664.5 1482.0,665.3 1482.3,666.2 1482.6,667.2 1482.9,668.4 1483.2,669.1 1483.5,669.8 1483.9,670.6 1484.2,671.3 1484.5,670.6 1484.8,669.9 1485.1,669.2 1485.4,668.5 1485.8,667.4 1486.1,666.4 1486.4,665.5 1486.7,664.8 1487.0,664.2 1487.3,663.7 1487.7,663.4 1488.0,663.3 1488.3,663.4 1488.6,663.8 1488.9,664.3 1489.2,664.9 1489.6,665.6 1489.9,666.5 1490.2,667.5 1490.5,668.6 1490.8,669.3 1491.1,670.0 1491.4,670.6 1491.8,671.3 1492.1,670.7 1492.4,670.0 1492.7,669.4 1493.0,668.8 1493.3,667.7 1493.7,666.7 1494.0,665.9 1494.3,665.2 1494.6,664.6 1494.9,664.2 1495.2,663.9 1495.6,663.8 1495.9,663.9 1496.2,664.2 1496.5,664.7 1496.8,665.3 1497.1,666.0 1497.5,666.9 1497.8,667.8 1498.1,668.9 1498.4,669.5 1498.7,670.1 1499.0,670.7 1499.4,671.3 1499.7,670.7 1500.0,670.2 1500.3,669.7 1500.6,669.1 1500.9,668.1 1501.3,667.2 1501.6,666.4 1501.9,665.7 1502.2,665.2 1502.5,664.8 1502.8,664.6 1503.2,664.6 1503.5,664.7 1503.8,665.0 1504.1,665.5 1504.4,666.1 1504.7,666.7 1505.0,667.5 1505.4,668.4 1505.7,669.3 1506.0,669.9 1506.3,670.3 1506.6,670.8 1506.9,671.3 1507.3,670.8 1507.6,670.4 1507.9,670.0 1508.2,669.5 1508.5,668.7 1508.8,667.9 1509.2,667.3 1509.5,666.7 1509.8,666.3 1510.1,666.0 1510.4,665.8 1510.7,665.7 1511.1,665.9 1511.4,666.1 1511.7,666.5 1512.0,667.0 1512.3,667.6 1512.6,668.2 1513.0,669.0 1513.3,669.8 1513.6,670.2 1513.9,670.6 1514.2,670.9 1514.5,671.3 1514.9,671.0 1515.2,670.6 1515.5,670.3 1515.8,669.9 1516.1,669.2 1516.4,668.6 1516.7,668.1 1517.1,667.7 1517.4,667.3 1517.7,667.1 1518.0,666.9 1518.3,666.9 1518.6,667.0 1519.0,667.3 1519.3,667.6 1519.6,668.0 1519.9,668.4 1520.2,669.0 1520.5,669.5 1520.9,670.2 1521.2,670.5 1521.5,670.8 1521.8,671.0 1522.1,671.3 1522.4,671.0 1522.8,670.8 1523.1,670.6 1523.4,670.3 1523.7,669.8 1524.0,669.3 1524.3,668.9 1524.7,668.6 1525.0,668.4 1525.3,668.2 1525.6,668.1 1525.9,668.1 1526.2,668.2 1526.6,668.4 1526.9,668.6 1527.2,668.9 1527.5,669.3 1527.8,669.6 1528.1,670.1 1528.5,670.5 1528.8,670.7 1529.1,670.9 1529.4,671.1 1529.7,671.3 1530.0,671.1 1530.3,671.0 1530.7,670.8 1531.0,670.7 1531.3,670.3 1531.6,670.0 1531.9,669.7 1532.2,669.5 1532.6,669.4 1532.9,669.3 1533.2,669.3 1533.5,669.3 1533.8,669.4 1534.1,669.5 1534.5,669.7 1534.8,669.9 1535.1,670.1 1535.4,670.3 1535.7,670.6 1536.0,670.9 1536.4,671.0 1536.7,671.1 1537.0,671.2 1537.3,671.3 1537.6,671.2 1537.9,671.1 1538.3,671.1 1538.6,671.0 1538.9,670.8 1539.2,670.7 1539.5,670.6 1539.8,670.5 1540.2,670.5 1540.5,670.5 1540.8,670.5 1541.1,670.5 1541.4,670.6 1541.7,670.7 1542.0,670.7 1542.4,670.8 1542.7,670.9 1543.0,671.0 1543.3,671.1 1543.6,671.2 1543.9,671.2 1544.3,671.3 1544.6,671.3 1544.9,671.3 1545.2,671.3 1545.5,671.3 1545.8,671.3 1546.2,671.3 1546.5,671.3 1546.8,671.2 1547.1,671.1 1547.4,671.1 1547.7,671.0 1548.1,670.9 1548.4,670.8 1548.7,670.7 1549.0,670.7 1549.3,670.7 1549.6,670.6 1550.0,670.7 1550.3,670.7 1550.6,670.8 1550.9,670.9 1551.2,671.0 1551.5,671.1 1551.9,671.2 1552.2,671.2 1552.5,671.3 1552.8,671.2 1553.1,671.1 1553.4,671.0 1553.8,670.9 1554.1,670.6 1554.4,670.4 1554.7,670.1 1555.0,669.9 1555.3,669.6 1555.6,669.4 1556.0,669.3 1556.3,669.2 1556.6,669.2 1556.9,669.2 1557.2,669.3 1557.5,669.5 1557.9,669.7 1558.2,670.0 1558.5,670.3 1558.8,670.7 1559.1,670.9 1559.4,671.0 1559.8,671.1 1560.1,671.3 1560.4,671.1 1560.7,671.0 1561.0,670.8 1561.3,670.6 1561.7,670.0 1562.0,669.5 1562.3,669.0 1562.6,668.5 1562.9,668.1 1563.2,667.7 1563.6,667.5 1563.9,667.3 1564.2,667.3 1564.5,667.4 1564.8,667.6 1565.1,667.9 1565.5,668.4 1565.8,668.9 1566.1,669.5 1566.4,670.2 1566.7,670.5 1567.0,670.8 1567.3,671.0 1567.7,671.3 1568.0,671.0 1568.3,670.8 1568.6,670.5 1568.9,670.1 1569.2,669.2 1569.6,668.3 1569.9,667.5 1570.2,666.8 1570.5,666.2 1570.8,665.7 1571.1,665.3 1571.5,665.1 1571.8,665.1 1572.1,665.3 1572.4,665.7 1572.7,666.3 1573.0,666.9 1573.4,667.7 1573.7,668.7 1574.0,669.8 1574.3,670.2 1574.6,670.6 1574.9,670.9 1575.3,671.3 1575.6,670.9 1575.9,670.5 1576.2,670.1 1576.5,669.5 1576.8,668.3 1577.2,667.1 1577.5,666.0 1577.8,665.1 1578.1,664.3 1578.4,663.6 1578.7,663.2 1579.1,662.9 1579.4,663.0 1579.7,663.3 1580.0,663.8 1580.3,664.5 1580.6,665.5 1580.9,666.5 1581.3,667.8 1581.6,669.2 1581.9,669.8 1582.2,670.3 1582.5,670.8 1582.8,671.3 1583.2,670.7 1583.5,670.2 1583.8,669.7 1584.1,669.0 1584.4,667.4 1584.7,666.0 1585.1,664.7 1585.4,663.6 1585.7,662.6 1586.0,661.9 1586.3,661.3 1586.6,661.0 1587.0,661.2 1587.3,661.6 1587.6,662.2 1587.9,663.1 1588.2,664.2 1588.5,665.5 1588.9,667.0 1589.2,668.7 1589.5,669.4 1589.8,670.0 1590.1,670.7 1590.4,671.3 1590.8,670.6 1591.1,669.9 1591.4,669.3 1591.7,668.4 1592.0,666.6 1592.3,664.9 1592.6,663.4 1593.0,662.1 1593.3,661.0 1593.6,660.2 1593.9,659.6 1594.2,659.3 1594.5,659.4 1594.9,659.9 1595.2,660.7 1595.5,661.7 1595.8,662.9 1596.1,664.4 1596.4,666.2 1596.8,668.1 1597.1,669.0 1597.4,669.7 1597.7,670.5 1598.0,671.3 1598.3,670.5 1598.7,669.6 1599.0,668.8 1599.3,667.8 1599.6,665.7 1599.9,663.9 1600.2,662.2 1600.6,660.7 1600.9,659.5 1601.2,658.5 1601.5,657.8 1601.8,657.5 1602.1,657.6 1602.5,658.2 1602.8,659.1 1603.1,660.2 1603.4,661.7 1603.7,663.4 1604.0,665.3 1604.4,667.5 1604.7,668.6 1605.0,669.4 1605.3,670.4 1605.6,671.3 1605.9,670.3 1606.2,669.3 1606.6,668.3 1606.9,667.2 1607.2,664.8 1607.5,662.7 1607.8,660.8 1608.1,659.2 1608.5,657.8 1608.8,656.7 1609.1,656.0 1609.4,655.6 1609.7,655.8 1610.0,656.4 1610.4,657.4 1610.7,658.7 1611.0,660.3 1611.3,662.2 1611.6,664.4 1611.9,666.8 1612.3,668.1 1612.6,669.1 1612.9,670.2 1613.2,671.3 1613.5,670.1 1613.8,669.0 1614.2,667.8 1614.5,666.5 1614.8,663.9 1615.1,661.6 1615.4,659.5 1615.7,657.7 1616.1,656.1 1616.4,654.9 1616.7,654.1 1617.0,653.7 1617.3,654.0 1617.6,654.7 1617.9,655.7 1618.3,657.2 1618.6,658.9 1618.9,661.0 1619.2,663.4 1619.5,666.1 1619.8,667.5 1620.2,668.7 1620.5,670.0 1620.8,671.3 1621.1,669.9 1621.4,668.6 1621.7,667.3 1622.1,665.7 1622.4,662.9 1622.7,660.4 1623.0,658.1 1623.3,656.1 1623.6,654.5 1624.0,653.2 1624.3,652.3 1624.6,651.9 1624.9,652.1 1625.2,652.9 1625.5,654.0 1625.9,655.6 1626.2,657.5 1626.5,659.8 1626.8,662.4 1627.1,665.3 1627.4,666.9 1627.8,668.3 1628.1,669.8 1628.4,671.3 1628.7,669.7 1629.0,668.1 1629.3,666.6 1629.7,664.9 1630.0,661.8 1630.3,659.0 1630.6,656.4 1630.9,654.2 1631.2,652.4 1631.5,651.0 1631.9,650.0 1632.2,649.5 1632.5,649.8 1632.8,650.6 1633.1,651.9 1633.4,653.6 1633.8,655.8 1634.1,658.3 1634.4,661.2 1634.7,664.4 1635.0,666.2 1635.3,667.9 1635.7,669.6 1636.0,671.3 1636.3,669.5 1636.6,667.7 1636.9,665.9 1637.2,663.9 1637.6,660.5 1637.9,657.4 1638.2,654.7 1638.5,652.3 1638.8,650.3 1639.1,648.7 1639.5,647.7 1639.8,647.2 1640.1,647.5 1640.4,648.4 1640.7,649.8 1641.0,651.7 1641.4,654.0 1641.7,656.7 1642.0,659.9 1642.3,663.4 1642.6,665.5 1642.9,667.3 1643.2,669.3 1643.6,671.3 1643.9,669.1 1644.2,667.0 1644.5,664.9 1644.8,662.6 1645.1,659.0 1645.5,655.7 1645.8,652.8 1646.1,650.2 1646.4,648.1 1646.7,646.5 1647.0,645.3 1647.4,644.8 1647.7,645.2 1648.0,646.1 1648.3,647.6 1648.6,649.6 1648.9,652.1 1649.3,655.0 1649.6,658.4 1649.9,662.1 1650.2,664.5 1650.5,666.7 1650.8,669.0 1651.2,671.3 1651.5,668.8 1651.8,666.3 1652.1,663.9 1652.4,661.3 1652.7,657.5 1653.1,653.9 1653.4,650.8 1653.7,648.1 1654.0,645.9 1654.3,644.2 1654.6,643.0 1655.0,642.5 1655.3,642.8 1655.6,643.8 1655.9,645.4 1656.2,647.5 1656.5,650.1 1656.8,653.2 1657.2,656.8 1657.5,660.7 1657.8,663.4 1658.1,666.0 1658.4,668.6 1658.7,671.3 1659.1,668.3 1659.4,665.4 1659.7,662.5 1660.0,659.5 1660.3,655.4 1660.6,651.7 1661.0,648.4 1661.3,645.6 1661.6,643.3 1661.9,641.6 1662.2,640.5 1662.5,640.1 1662.9,640.5 1663.2,641.6 1663.5,643.3 1663.8,645.6 1664.1,648.4 1664.4,651.7 1664.8,655.4 1665.1,659.5 1665.4,662.5 1665.7,665.4 1666.0,668.3 1666.3,671.3 1666.7,667.7 1667.0,664.1 1667.3,660.7 1667.6,657.2 1667.9,652.7 1668.2,648.5 1668.5,644.9 1668.9,641.8 1669.2,639.3 1669.5,637.4 1669.8,636.2 1670.1,635.7 1670.4,636.2 1670.8,637.4 1671.1,639.3 1671.4,641.8 1671.7,644.9 1672.0,648.5 1672.3,652.7 1672.7,657.2 1673.0,660.7 1673.3,664.1 1673.6,667.7 1673.9,671.3 1674.2,666.7 1674.6,662.1 1674.9,657.7 1675.2,653.3 1675.5,647.9 1675.8,643.0 1676.1,638.7 1676.5,635.0 1676.8,632.0 1677.1,629.8 1677.4,628.4 1677.7,627.9 1678.0,628.4 1678.4,629.8 1678.7,632.0 1679.0,635.0 1679.3,638.7 1679.6,643.0 1679.9,647.9 1680.2,653.3 1680.6,657.7 1680.9,662.1 1681.2,666.7 1681.5,671.3 1681.8,664.5 1682.1,657.8 1682.5,651.3 1682.8,644.9 1683.1,637.5 1683.4,630.9 1683.7,625.0 1684.0,620.1 1684.4,616.1 1684.7,613.1 1685.0,611.2 1685.3,610.5 1685.6,611.2 1685.9,613.1 1686.3,616.1 1686.6,620.1 1686.9,625.0 1687.2,630.9 1687.5,637.5 1687.8,644.9 1688.2,651.3 1688.5,657.8 1688.8,664.5 1688.8,664.5 1688.5,657.8 1688.2,651.3 1687.8,645.2 1687.5,639.5 1687.2,634.3 1686.9,629.8 1686.6,626.0 1686.3,623.0 1685.9,620.8 1685.6,619.4 1685.3,619.0 1685.0,619.4 1684.7,620.8 1684.4,623.0 1684.0,626.0 1683.7,629.8 1683.4,634.3 1683.1,639.5 1682.8,645.2 1682.5,651.3 1682.1,657.8 1681.8,664.5 1681.5,671.3 1681.2,666.7 1680.9,662.1 1680.6,657.7 1680.2,653.5 1679.9,649.7 1679.6,646.2 1679.3,643.1 1679.0,640.5 1678.7,638.5 1678.4,637.0 1678.0,636.1 1677.7,635.8 1677.4,636.1 1677.1,637.0 1676.8,638.5 1676.5,640.5 1676.1,643.1 1675.8,646.2 1675.5,649.7 1675.2,653.5 1674.9,657.7 1674.6,662.1 1674.2,666.7 1673.9,671.3 1673.6,667.7 1673.3,664.1 1673.0,660.7 1672.7,657.5 1672.3,654.5 1672.0,651.8 1671.7,649.4 1671.4,647.4 1671.1,645.8 1670.8,644.6 1670.4,643.9 1670.1,643.7 1669.8,643.9 1669.5,644.6 1669.2,645.8 1668.9,647.4 1668.5,649.4 1668.2,651.8 1667.9,654.5 1667.6,657.5 1667.3,660.7 1667.0,664.1 1666.7,667.7 1666.3,671.3 1666.0,668.3 1665.7,665.4 1665.4,662.5 1665.1,659.8 1664.8,657.3 1664.4,655.1 1664.1,653.1 1663.8,651.4 1663.5,650.1 1663.2,649.1 1662.9,648.5 1662.5,648.3 1662.2,648.5 1661.9,649.1 1661.6,650.1 1661.3,651.4 1661.0,653.1 1660.6,655.1 1660.3,657.3 1660.0,659.8 1659.7,662.5 1659.4,665.4 1659.1,668.3 1658.7,671.3 1658.4,668.6 1658.1,666.0 1657.8,663.4 1657.5,661.0 1657.2,658.9 1656.8,656.9 1656.5,655.2 1656.2,653.8 1655.9,652.7 1655.6,651.9 1655.3,651.4 1655.0,651.3 1654.6,651.6 1654.3,652.2 1654.0,653.0 1653.7,654.3 1653.4,655.7 1653.1,657.5 1652.7,659.4 1652.4,661.6 1652.1,663.9 1651.8,666.3 1651.5,668.8 1651.2,671.3 1650.8,669.0 1650.5,666.7 1650.2,664.5 1649.9,662.4 1649.6,660.5 1649.3,658.9 1648.9,657.4 1648.6,656.2 1648.3,655.2 1648.0,654.5 1647.7,654.2 1647.4,654.1 1647.0,654.3 1646.7,654.8 1646.4,655.6 1646.1,656.6 1645.8,657.9 1645.5,659.4 1645.1,661.1 1644.8,662.9 1644.5,664.9 1644.2,667.0 1643.9,669.1 1643.6,671.3 1643.2,669.3 1642.9,667.3 1642.6,665.5 1642.3,663.7 1642.0,662.1 1641.7,660.7 1641.4,659.4 1641.0,658.4 1640.7,657.6 1640.4,657.0 1640.1,656.7 1639.8,656.6 1639.5,656.8 1639.1,657.2 1638.8,657.9 1638.5,658.8 1638.2,659.9 1637.9,661.2 1637.6,662.6 1637.2,664.2 1636.9,665.9 1636.6,667.7 1636.3,669.5 1636.0,671.3 1635.7,669.6 1635.3,667.9 1635.0,666.2 1634.7,664.7 1634.4,663.3 1634.1,662.0 1633.8,661.0 1633.4,660.1 1633.1,659.4 1632.8,658.9 1632.5,658.6 1632.2,658.5 1631.9,658.7 1631.5,659.1 1631.2,659.7 1630.9,660.5 1630.6,661.4 1630.3,662.5 1630.0,663.8 1629.7,665.2 1629.3,666.6 1629.0,668.1 1628.7,669.7 1628.4,671.3 1628.1,669.8 1627.8,668.3 1627.4,666.9 1627.1,665.6 1626.8,664.4 1626.5,663.3 1626.2,662.4 1625.9,661.6 1625.5,661.1 1625.2,660.6 1624.9,660.4 1624.6,660.4 1624.3,660.5 1624.0,660.8 1623.6,661.3 1623.3,662.0 1623.0,662.8 1622.7,663.7 1622.4,664.8 1622.1,666.0 1621.7,667.3 1621.4,668.6 1621.1,669.9 1620.8,671.3 1620.5,670.0 1620.2,668.7 1619.8,667.5 1619.5,666.4 1619.2,665.3 1618.9,664.4 1618.6,663.6 1618.3,662.9 1617.9,662.4 1617.6,662.1 1617.3,661.9 1617.0,661.8 1616.7,661.9 1616.4,662.2 1616.1,662.7 1615.7,663.2 1615.4,663.9 1615.1,664.8 1614.8,665.7 1614.5,666.7 1614.2,667.8 1613.8,669.0 1613.5,670.1 1613.2,671.3 1612.9,670.2 1612.6,669.1 1612.3,668.1 1611.9,667.1 1611.6,666.2 1611.3,665.4 1611.0,664.7 1610.7,664.1 1610.4,663.7 1610.0,663.4 1609.7,663.2 1609.4,663.2 1609.1,663.3 1608.8,663.5 1608.5,663.9 1608.1,664.4 1607.8,665.0 1607.5,665.7 1607.2,666.5 1606.9,667.4 1606.6,668.3 1606.2,669.3 1605.9,670.3 1605.6,671.3 1605.3,670.4 1605.0,669.4 1604.7,668.6 1604.4,667.7 1604.0,667.0 1603.7,666.3 1603.4,665.7 1603.1,665.2 1602.8,664.9 1602.5,664.6 1602.1,664.5 1601.8,664.5 1601.5,664.6 1601.2,664.8 1600.9,665.1 1600.6,665.5 1600.2,666.0 1599.9,666.6 1599.6,667.3 1599.3,668.0 1599.0,668.8 1598.7,669.6 1598.3,670.5 1598.0,671.3 1597.7,670.5 1597.4,669.7 1597.1,669.0 1596.8,668.3 1596.4,667.7 1596.1,667.1 1595.8,666.7 1595.5,666.3 1595.2,666.0 1594.9,665.8 1594.5,665.6 1594.2,665.6 1593.9,665.7 1593.6,665.9 1593.3,666.2 1593.0,666.5 1592.6,666.9 1592.3,667.4 1592.0,668.0 1591.7,668.6 1591.4,669.3 1591.1,669.9 1590.8,670.6 1590.4,671.3 1590.1,670.7 1589.8,670.0 1589.5,669.4 1589.2,668.9 1588.9,668.4 1588.5,667.9 1588.2,667.5 1587.9,667.2 1587.6,667.0 1587.3,666.8 1587.0,666.7 1586.6,666.7 1586.3,666.8 1586.0,666.9 1585.7,667.2 1585.4,667.4 1585.1,667.8 1584.7,668.2 1584.4,668.7 1584.1,669.1 1583.8,669.7 1583.5,670.2 1583.2,670.7 1582.8,671.3 1582.5,670.8 1582.2,670.3 1581.9,669.8 1581.6,669.4 1581.3,669.0 1580.9,668.6 1580.6,668.3 1580.3,668.1 1580.0,667.9 1579.7,667.8 1579.4,667.7 1579.1,667.7 1578.7,667.8 1578.4,667.9 1578.1,668.1 1577.8,668.4 1577.5,668.6 1577.2,668.9 1576.8,669.3 1576.5,669.7 1576.2,670.1 1575.9,670.5 1575.6,670.9 1575.3,671.3 1574.9,670.9 1574.6,670.6 1574.3,670.2 1574.0,669.9 1573.7,669.6 1573.4,669.4 1573.0,669.2 1572.7,669.0 1572.4,668.9 1572.1,668.8 1571.8,668.8 1571.5,668.8 1571.1,668.9 1570.8,669.0 1570.5,669.1 1570.2,669.3 1569.9,669.5 1569.6,669.7 1569.2,669.9 1568.9,670.2 1568.6,670.5 1568.3,670.8 1568.0,671.0 1567.7,671.3 1567.3,671.1 1567.0,670.8 1566.7,670.6 1566.4,670.4 1566.1,670.2 1565.8,670.1 1565.5,670.0 1565.1,669.9 1564.8,669.8 1564.5,669.8 1564.2,669.8 1563.9,669.8 1563.6,669.8 1563.2,669.9 1562.9,670.0 1562.6,670.1 1562.3,670.2 1562.0,670.4 1561.7,670.5 1561.3,670.7 1561.0,670.8 1560.7,671.0 1560.4,671.2 1560.1,671.3 1559.8,671.2 1559.4,671.0 1559.1,670.9 1558.8,670.8 1558.5,670.7 1558.2,670.7 1557.9,670.6 1557.5,670.6 1557.2,670.5 1556.9,670.5 1556.6,670.5 1556.3,670.6 1556.0,670.6 1555.6,670.6 1555.3,670.7 1555.0,670.7 1554.7,670.8 1554.4,670.9 1554.1,670.9 1553.8,671.0 1553.4,671.1 1553.1,671.2 1552.8,671.2 1552.5,671.3 1552.2,671.2 1551.9,671.2 1551.5,671.2 1551.2,671.1 1550.9,671.1 1550.6,671.1 1550.3,671.1 1550.0,671.1 1549.6,671.1 1549.3,671.1 1549.0,671.1 1548.7,671.1 1548.4,671.1 1548.1,671.2 1547.7,671.2 1547.4,671.2 1547.1,671.2 1546.8,671.3 1546.5,671.3 1546.2,671.3 1545.8,671.3 1545.5,671.3 1545.2,671.3 1544.9,671.3 1544.6,671.3 1544.3,671.3 1543.9,671.3 1543.6,671.2 1543.3,671.2 1543.0,671.2 1542.7,671.2 1542.4,671.1 1542.0,671.1 1541.7,671.1 1541.4,671.1 1541.1,671.1 1540.8,671.0 1540.5,671.0 1540.2,671.0 1539.8,671.0 1539.5,671.0 1539.2,671.1 1538.9,671.1 1538.6,671.1 1538.3,671.2 1537.9,671.2 1537.6,671.2 1537.3,671.3 1537.0,671.2 1536.7,671.2 1536.4,671.1 1536.0,671.1 1535.7,671.0 1535.4,671.0 1535.1,670.9 1534.8,670.8 1534.5,670.8 1534.1,670.8 1533.8,670.7 1533.5,670.7 1533.2,670.7 1532.9,670.7 1532.6,670.7 1532.2,670.7 1531.9,670.8 1531.6,670.8 1531.3,670.9 1531.0,671.0 1530.7,671.0 1530.3,671.1 1530.0,671.2 1529.7,671.3 1529.4,671.2 1529.1,671.1 1528.8,671.0 1528.5,670.9 1528.1,670.8 1527.8,670.8 1527.5,670.7 1527.2,670.6 1526.9,670.5 1526.6,670.5 1526.2,670.5 1525.9,670.4 1525.6,670.4 1525.3,670.5 1525.0,670.5 1524.7,670.5 1524.3,670.6 1524.0,670.6 1523.7,670.7 1523.4,670.8 1523.1,670.9 1522.8,671.0 1522.4,671.2 1522.1,671.3 1521.8,671.2 1521.5,671.1 1521.2,670.9 1520.9,670.8 1520.5,670.7 1520.2,670.6 1519.9,670.5 1519.6,670.4 1519.3,670.3 1519.0,670.3 1518.6,670.3 1518.3,670.2 1518.0,670.2 1517.7,670.2 1517.4,670.3 1517.1,670.3 1516.7,670.4 1516.4,670.5 1516.1,670.6 1515.8,670.7 1515.5,670.9 1515.2,671.0 1514.9,671.1 1514.5,671.3 1514.2,671.2 1513.9,671.0 1513.6,670.9 1513.3,670.7 1513.0,670.6 1512.6,670.5 1512.3,670.4 1512.0,670.3 1511.7,670.2 1511.4,670.1 1511.1,670.1 1510.7,670.1 1510.4,670.1 1510.1,670.1 1509.8,670.1 1509.5,670.2 1509.2,670.3 1508.8,670.4 1508.5,670.5 1508.2,670.6 1507.9,670.8 1507.6,671.0 1507.3,671.1 1506.9,671.3 1506.6,671.1 1506.3,671.0 1506.0,670.8 1505.7,670.7 1505.4,670.5 1505.0,670.4 1504.7,670.3 1504.4,670.2 1504.1,670.1 1503.8,670.0 1503.5,670.0 1503.2,670.0 1502.8,670.0 1502.5,670.0 1502.2,670.0 1501.9,670.1 1501.6,670.2 1501.3,670.3 1500.9,670.4 1500.6,670.6 1500.3,670.7 1500.0,670.9 1499.7,671.1 1499.4,671.3 1499.0,671.1 1498.7,671.0 1498.4,670.8 1498.1,670.6 1497.8,670.5 1497.5,670.4 1497.1,670.2 1496.8,670.1 1496.5,670.1 1496.2,670.0 1495.9,670.0 1495.6,670.0 1495.2,670.0 1494.9,670.0 1494.6,670.0 1494.3,670.1 1494.0,670.2 1493.7,670.3 1493.3,670.5 1493.0,670.6 1492.7,670.8 1492.4,670.9 1492.1,671.1 1491.8,671.3 1491.4,671.1 1491.1,671.0 1490.8,670.8 1490.5,670.7 1490.2,670.5 1489.9,670.4 1489.6,670.3 1489.2,670.2 1488.9,670.1 1488.6,670.1 1488.3,670.0 1488.0,670.0 1487.7,670.0 1487.3,670.0 1487.0,670.1 1486.7,670.2 1486.4,670.3 1486.1,670.4 1485.8,670.5 1485.4,670.6 1485.1,670.8 1484.8,671.0 1484.5,671.1 1484.2,671.3 1483.9,671.1 1483.5,671.0 1483.2,670.8 1482.9,670.7 1482.6,670.6 1482.3,670.4 1482.0,670.3 1481.6,670.2 1481.3,670.2 1481.0,670.1 1480.7,670.1 1480.4,670.1 1480.1,670.1 1479.7,670.1 1479.4,670.2 1479.1,670.2 1478.8,670.3 1478.5,670.4 1478.2,670.5 1477.9,670.7 1477.5,670.8 1477.2,671.0 1476.9,671.1 1476.6,671.3 1476.3,671.2 1476.0,671.0 1475.6,670.9 1475.3,670.7 1475.0,670.6 1474.7,670.5 1474.4,670.4 1474.1,670.3 1473.7,670.2 1473.4,670.2 1473.1,670.2 1472.8,670.1 1472.5,670.2 1472.2,670.2 1471.8,670.2 1471.5,670.3 1471.2,670.4 1470.9,670.5 1470.6,670.6 1470.3,670.7 1469.9,670.8 1469.6,671.0 1469.3,671.1 1469.0,671.3 1468.7,671.2 1468.4,671.0 1468.0,670.9 1467.7,670.8 1467.4,670.7 1467.1,670.6 1466.8,670.5 1466.5,670.4 1466.1,670.4 1465.8,670.3 1465.5,670.3 1465.2,670.3 1464.9,670.3 1464.6,670.3 1464.3,670.4 1463.9,670.4 1463.6,670.5 1463.3,670.6 1463.0,670.7 1462.7,670.8 1462.4,670.9 1462.0,671.0 1461.7,671.2 1461.4,671.3 1461.1,671.2 1460.8,671.1 1460.5,671.0 1460.1,670.9 1459.8,670.8 1459.5,670.7 1459.2,670.6 1458.9,670.6 1458.6,670.5 1458.2,670.5 1457.9,670.5 1457.6,670.5 1457.3,670.5 1457.0,670.5 1456.7,670.5 1456.3,670.6 1456.0,670.6 1455.7,670.7 1455.4,670.8 1455.1,670.9 1454.8,671.0 1454.4,671.1 1454.1,671.2 1453.8,671.3 1453.5,671.2 1453.2,671.1 1452.9,671.0 1452.5,671.0 1452.2,670.9 1451.9,670.8 1451.6,670.8 1451.3,670.7 1451.0,670.7 1450.7,670.7 1450.3,670.6 1450.0,670.6 1449.7,670.7 1449.4,670.7 1449.1,670.7 1448.8,670.7 1448.4,670.8 1448.1,670.8 1447.8,670.9 1447.5,671.0 1447.2,671.1 1446.9,671.1 1446.5,671.2 1446.2,671.3 1445.9,671.2 1445.6,671.2 1445.3,671.1 1445.0,671.0 1444.6,671.0 1444.3,670.9 1444.0,670.9 1443.7,670.9 1443.4,670.8 1443.1,670.8 1442.7,670.8 1442.4,670.8 1442.1,670.8 1441.8,670.8 1441.5,670.8 1441.2,670.9 1440.8,670.9 1440.5,670.9 1440.2,671.0 1439.9,671.0 1439.6,671.1 1439.3,671.2 1439.0,671.2 1438.6,671.3 1438.3,671.2 1438.0,671.2 1437.7,671.1 1437.4,671.1 1437.1,671.0 1436.7,671.0 1436.4,671.0 1436.1,670.9 1435.8,670.9 1435.5,670.9 1435.2,670.9 1434.8,670.9 1434.5,670.9 1434.2,670.9 1433.9,670.9 1433.6,671.0 1433.3,671.0 1432.9,671.0 1432.6,671.1 1432.3,671.1 1432.0,671.1 1431.7,671.2 1431.4,671.2 1431.0,671.3 1430.7,671.3 1430.4,671.2 1430.1,671.2 1429.8,671.1 1429.5,671.1 1429.1,671.1 1428.8,671.1 1428.5,671.0 1428.2,671.0 1427.9,671.0 1427.6,671.0 1427.2,671.0 1426.9,671.0 1426.6,671.0 1426.3,671.0 1426.0,671.0 1425.7,671.1 1425.4,671.1 1425.0,671.1 1424.7,671.2 1424.4,671.2 1424.1,671.2 1423.8,671.3 1423.5,671.3 1423.1,671.3 1422.8,671.2 1422.5,671.2 1422.2,671.2 1421.9,671.2 1421.6,671.2 1421.2,671.1 1420.9,671.1 1420.6,671.1 1420.3,671.1 1420.0,671.1 1419.7,671.1 1419.3,671.1 1419.0,671.1 1418.7,671.1 1418.4,671.1 1418.1,671.2 1417.8,671.2 1417.4,671.2 1417.1,671.2 1416.8,671.2 1416.5,671.3 1416.2,671.3 1415.9,671.3 1415.5,671.3 1415.2,671.3 1414.9,671.3 1414.6,671.2 1414.3,671.2 1414.0,671.2 1413.7,671.2 1413.3,671.2 1413.0,671.2 1412.7,671.2 1412.4,671.2 1412.1,671.2 1411.8,671.2 1411.4,671.2 1411.1,671.2 1410.8,671.2 1410.5,671.2 1410.2,671.2 1409.9,671.2 1409.5,671.3 1409.2,671.3 1408.9,671.3 1408.6,671.3 1408.3,671.3 1408.0,671.3 1407.6,671.3 1407.3,671.3 1407.0,671.3 1406.7,671.3 1406.4,671.3 1406.1,671.3 1405.7,671.3 1405.4,671.3 1405.1,671.3 1404.8,671.3 1404.5,671.3 1404.2,671.3 1403.8,671.3 1403.5,671.3 1403.2,671.3 1402.9,671.3 1402.6,671.3 1402.3,671.3 1402.0,671.3 1401.6,671.3 1401.3,671.3 1401.0,671.3 1400.7,671.3 1400.4,671.3 1400.1,671.3 1399.7,671.3 1399.4,671.3 1399.1,671.3 1398.8,671.3 1398.5,671.3 1398.2,671.3 1397.8,671.3 1397.5,671.3 1397.2,671.3 1396.9,671.3 1396.6,671.3 1396.3,671.3 1395.9,671.3 1395.6,671.3 1395.3,671.3 1395.0,671.3 1394.7,671.3 1394.4,671.3 1394.0,671.3 1393.7,671.3 1393.4,671.3 1393.1,671.3 1392.8,671.3 1392.5,671.3 1392.1,671.3 1391.8,671.3 1391.5,671.3 1391.2,671.3 1390.9,671.3 1390.6,671.3 1390.2,671.3 1389.9,671.3 1389.6,671.3 1389.3,671.3 1389.0,671.3 1388.7,671.3 1388.4,671.3 1388.0,671.3 1387.7,671.3 1387.4,671.3 1387.1,671.3 1386.8,671.3 1386.5,671.3 1386.1,671.3 1385.8,671.3 1385.5,671.3 1385.2,671.3 1384.9,671.3 1384.6,671.3 1384.2,671.3 1383.9,671.3 1383.6,671.3 1383.3,671.3 1383.0,671.3 1382.7,671.3 1382.3,671.3 1382.0,671.3 1381.7,671.3 1381.4,671.3 1381.1,671.3 1380.8,671.3 1380.4,671.3 1380.1,671.3 1379.8,671.3 1379.5,671.3 1379.2,671.3 1378.9,671.3 1378.5,671.3 1378.2,671.3 1377.9,671.3 1377.6,671.3 1377.3,671.3 1377.0,671.3 1376.7,671.3 1376.3,671.3 1376.0,671.3 1375.7,671.3 1375.4,671.3 1375.1,671.3 1374.8,671.3 1374.4,671.3 1374.1,671.3 1373.8,671.3 1373.5,671.3 1373.2,671.3 1372.9,671.3 1372.5,671.3 1372.2,671.3 1371.9,671.3 1371.6,671.3 1371.3,671.3 1371.0,671.3 1370.6,671.3 1370.3,671.3 1370.0,671.3 1369.7,671.3 1369.4,671.3 1369.1,671.3 1368.7,671.3 1368.4,671.3 1368.1,671.3 1367.8,671.3 1367.5,671.3 1367.2,671.3 1366.8,671.3 1366.5,671.3 1366.2,671.3 1365.9,671.3 1365.6,671.3 1365.3,671.3 1364.9,671.3 1364.6,671.3 1364.3,671.3 1364.0,671.3 1363.7,671.3 1363.4,671.3 1363.1,671.3 1362.7,671.3 1362.4,671.3 1362.1,671.3 1361.8,671.3 1361.5,671.3 1361.2,671.3 1360.8,671.3 1360.5,671.3 1360.2,671.3 1359.9,671.3 1359.6,671.3 1359.3,671.3 1358.9,671.3 1358.6,671.3 1358.3,671.3 1358.0,671.3 1357.7,671.3 1357.4,671.3 1357.0,671.3 1356.7,671.3 1356.4,671.3 1356.1,671.3 1355.8,671.3 1355.5,671.3 1355.1,671.3 1354.8,671.3 1354.5,671.3 1354.2,671.3 1353.9,671.3 1353.6,671.3 1353.2,671.3 1352.9,671.3 1352.6,671.3 1352.3,671.3 1352.0,671.3 1351.7,671.3 1351.4,671.3 1351.0,671.3 1350.7,671.3 1350.4,671.3 1350.1,671.3 1349.8,671.3 1349.5,671.3 1349.1,671.3 1348.8,671.3 1348.5,671.3 1348.2,671.3 1347.9,671.3 1347.6,671.3 1347.2,671.3 1346.9,671.3 1346.6,671.3 1346.3,671.3 1346.0,671.3 1345.7,671.3 1345.3,671.3 1345.0,671.3 1344.7,671.3 1344.4,671.3 1344.1,671.3 1343.8,671.3 1343.4,671.3 1343.1,671.3 1342.8,671.3 1342.5,671.3 1342.2,671.3 1341.9,671.3 1341.5,671.3 1341.2,671.3 1340.9,671.3 1340.6,671.3 1340.3,671.3 1340.0,671.3 1339.6,671.3 1339.3,671.3 1339.0,671.3 1338.7,671.3 1338.4,671.3 1338.1,671.3 1337.8,671.3 1337.4,671.3 1337.1,671.3 1336.8,671.3 1336.5,671.3 1336.2,671.3 1335.9,671.3 1335.5,671.3 1335.2,671.3 1334.9,671.3 1334.6,671.3 1334.3,671.3 1334.0,671.3 1333.6,671.3 1333.3,671.3 1333.0,671.3 1332.7,671.3 1332.4,671.3 1332.1,671.3 1331.7,671.3 1331.4,671.3 1331.1,671.3 1330.8,671.3 1330.5,671.3 1330.2,671.3 1329.8,671.3 1329.5,671.3 1329.2,671.3 1328.9,671.3 1328.6,671.3 1328.3,671.3 1327.9,671.3 1327.6,671.3 1327.3,671.3 1327.0,671.3 1326.7,671.3 1326.4,671.3 1326.1,671.3 1325.7,671.3 1325.4,671.3 1325.1,671.3 1324.8,671.3 1324.5,671.3 1324.2,671.3 1323.8,671.3 1323.5,671.3 1323.2,671.3 1322.9,671.3 1322.6,671.3 1322.3,671.3 1321.9,671.3 1321.6,671.3 1321.3,671.3 1321.0,671.3 1320.7,671.3 1320.4,671.3 1320.0,671.3 1319.7,671.3 1319.4,671.3 1319.1,671.3 1318.8,671.3 1318.5,671.3 1318.1,671.3 1317.8,671.3"/>
<polygon fill="#0a0a0a" stroke="#0a0a0a" stroke-width="0.6" stroke-linejoin="round" points="1871.3,671.3 1871.6,671.2 1871.9,671.0 1872.2,670.8 1872.5,670.5 1872.8,670.2 1873.2,669.9 1873.5,669.5 1873.8,669.2 1874.1,668.8 1874.4,668.5 1874.7,668.3 1875.1,668.0 1875.4,667.8 1875.7,667.7 1876.0,667.7 1876.3,667.8 1876.6,667.9 1877.0,668.2 1877.3,668.5 1877.6,668.9 1877.9,669.4 1878.2,670.0 1878.5,670.6 1878.9,671.3 1879.2,670.6 1879.5,669.9 1879.8,669.1 1880.1,668.3 1880.4,667.5 1880.8,666.7 1881.1,665.9 1881.4,665.2 1881.7,664.6 1882.0,664.1 1882.3,663.7 1882.7,663.4 1883.0,663.3 1883.3,663.4 1883.6,663.6 1883.9,663.9 1884.2,664.5 1884.5,665.2 1884.9,666.1 1885.2,667.0 1885.5,668.0 1885.8,669.0 1886.1,670.1 1886.4,671.3 1886.8,670.2 1887.1,669.1 1887.4,668.0 1887.7,666.9 1888.0,665.6 1888.3,664.4 1888.7,663.2 1889.0,662.3 1889.3,661.4 1889.6,660.8 1889.9,660.3 1890.2,660.0 1890.6,660.0 1890.9,660.3 1891.2,660.7 1891.5,661.4 1891.8,662.3 1892.1,663.4 1892.5,664.7 1892.8,666.1 1893.1,667.3 1893.4,668.6 1893.7,669.9 1894.0,671.3 1894.4,670.0 1894.7,668.8 1895.0,667.5 1895.3,666.2 1895.6,664.6 1895.9,663.0 1896.2,661.6 1896.6,660.5 1896.9,659.5 1897.2,658.7 1897.5,658.1 1897.8,657.9 1898.1,658.0 1898.5,658.4 1898.8,659.1 1899.1,660.0 1899.4,661.2 1899.7,662.5 1900.0,664.1 1900.4,665.8 1900.7,667.2 1901.0,668.5 1901.3,669.9 1901.6,671.3 1901.9,670.0 1902.3,668.7 1902.6,667.5 1902.9,666.2 1903.2,664.3 1903.5,662.5 1903.8,661.0 1904.2,659.6 1904.5,658.6 1904.8,657.7 1905.1,657.2 1905.4,656.9 1905.7,657.1 1906.1,657.6 1906.4,658.4 1906.7,659.4 1907.0,660.7 1907.3,662.3 1907.6,664.0 1908.0,666.0 1908.3,667.3 1908.6,668.6 1908.9,669.9 1909.2,671.3 1909.5,670.1 1909.8,668.9 1910.2,667.7 1910.5,666.4 1910.8,664.3 1911.1,662.4 1911.4,660.8 1911.7,659.3 1912.1,658.1 1912.4,657.2 1912.7,656.6 1913.0,656.4 1913.3,656.6 1913.6,657.2 1914.0,658.0 1914.3,659.2 1914.6,660.6 1914.9,662.3 1915.2,664.2 1915.5,666.3 1915.9,667.6 1916.2,668.8 1916.5,670.0 1916.8,671.3 1917.1,670.1 1917.4,668.9 1917.8,667.8 1918.1,666.5 1918.4,664.4 1918.7,662.4 1919.0,660.7 1919.3,659.2 1919.7,658.0 1920.0,657.1 1920.3,656.5 1920.6,656.3 1920.9,656.5 1921.2,657.1 1921.5,658.0 1921.9,659.2 1922.2,660.7 1922.5,662.4 1922.8,664.4 1923.1,666.5 1923.4,667.8 1923.8,668.9 1924.1,670.1 1924.4,671.3 1924.7,670.2 1925.0,669.0 1925.3,668.0 1925.7,666.7 1926.0,664.5 1926.3,662.6 1926.6,660.8 1926.9,659.3 1927.2,658.1 1927.6,657.1 1927.9,656.5 1928.2,656.3 1928.5,656.5 1928.8,657.1 1929.1,658.1 1929.5,659.3 1929.8,660.8 1930.1,662.6 1930.4,664.6 1930.7,666.8 1931.0,668.0 1931.4,669.1 1931.7,670.2 1932.0,671.3 1932.3,670.2 1932.6,669.2 1932.9,668.2 1933.3,667.0 1933.6,664.9 1933.9,662.9 1934.2,661.2 1934.5,659.7 1934.8,658.5 1935.1,657.6 1935.5,657.0 1935.8,656.8 1936.1,657.0 1936.4,657.7 1936.7,658.6 1937.0,659.9 1937.4,661.4 1937.7,663.1 1938.0,665.0 1938.3,667.2 1938.6,668.3 1938.9,669.3 1939.3,670.3 1939.6,671.3 1939.9,670.3 1940.2,669.4 1940.5,668.5 1940.8,667.4 1941.2,665.3 1941.5,663.4 1941.8,661.7 1942.1,660.3 1942.4,659.1 1942.7,658.2 1943.1,657.6 1943.4,657.4 1943.7,657.7 1944.0,658.3 1944.3,659.3 1944.6,660.5 1945.0,661.9 1945.3,663.6 1945.6,665.5 1945.9,667.6 1946.2,668.6 1946.5,669.5 1946.8,670.4 1947.2,671.3 1947.5,670.5 1947.8,669.6 1948.1,668.8 1948.4,667.9 1948.7,665.8 1949.1,664.0 1949.4,662.4 1949.7,661.1 1950.0,660.0 1950.3,659.2 1950.6,658.6 1951.0,658.4 1951.3,658.7 1951.6,659.3 1951.9,660.2 1952.2,661.4 1952.5,662.7 1952.9,664.3 1953.2,666.1 1953.5,668.1 1953.8,669.0 1954.1,669.7 1954.4,670.5 1954.8,671.3 1955.1,670.6 1955.4,669.9 1955.7,669.2 1956.0,668.3 1956.3,666.4 1956.7,664.7 1957.0,663.3 1957.3,662.0 1957.6,661.0 1957.9,660.2 1958.2,659.7 1958.6,659.5 1958.9,659.8 1959.2,660.4 1959.5,661.2 1959.8,662.3 1960.1,663.6 1960.4,665.0 1960.8,666.7 1961.1,668.5 1961.4,669.3 1961.7,670.0 1962.0,670.6 1962.3,671.3 1962.7,670.7 1963.0,670.1 1963.3,669.5 1963.6,668.8 1963.9,667.0 1964.2,665.5 1964.6,664.1 1964.9,663.0 1965.2,662.0 1965.5,661.3 1965.8,660.9 1966.1,660.7 1966.5,661.0 1966.8,661.5 1967.1,662.3 1967.4,663.3 1967.7,664.4 1968.0,665.8 1968.4,667.3 1968.7,668.9 1969.0,669.7 1969.3,670.2 1969.6,670.7 1969.9,671.3 1970.3,670.8 1970.6,670.2 1970.9,669.7 1971.2,669.1 1971.5,667.5 1971.8,666.1 1972.1,664.9 1972.5,663.9 1972.8,663.1 1973.1,662.4 1973.4,662.0 1973.7,661.9 1974.0,662.1 1974.4,662.6 1974.7,663.3 1975.0,664.2 1975.3,665.3 1975.6,666.5 1975.9,667.8 1976.3,669.3 1976.6,669.9 1976.9,670.3 1977.2,670.8 1977.5,671.3 1977.8,670.8 1978.2,670.3 1978.5,669.8 1978.8,669.2 1979.1,667.9 1979.4,666.7 1979.7,665.6 1980.1,664.8 1980.4,664.1 1980.7,663.5 1981.0,663.2 1981.3,663.1 1981.6,663.3 1982.0,663.7 1982.3,664.3 1982.6,665.1 1982.9,666.0 1983.2,667.0 1983.5,668.1 1983.9,669.4 1984.2,670.0 1984.5,670.4 1984.8,670.8 1985.1,671.3 1985.4,670.8 1985.7,670.3 1986.1,669.9 1986.4,669.3 1986.7,668.2 1987.0,667.2 1987.3,666.3 1987.6,665.6 1988.0,665.0 1988.3,664.5 1988.6,664.2 1988.9,664.2 1989.2,664.3 1989.5,664.7 1989.9,665.2 1990.2,665.8 1990.5,666.6 1990.8,667.5 1991.1,668.4 1991.4,669.5 1991.8,670.0 1992.1,670.4 1992.4,670.9 1992.7,671.3 1993.0,670.8 1993.3,670.4 1993.7,669.9 1994.0,669.4 1994.3,668.5 1994.6,667.6 1994.9,666.9 1995.2,666.3 1995.6,665.8 1995.9,665.5 1996.2,665.3 1996.5,665.2 1996.8,665.4 1997.1,665.6 1997.4,666.1 1997.8,666.6 1998.1,667.2 1998.4,667.9 1998.7,668.7 1999.0,669.6 1999.3,670.1 1999.7,670.5 2000.0,670.9 2000.3,671.3 2000.6,670.8 2000.9,670.4 2001.2,670.0 2001.6,669.5 2001.9,668.8 2002.2,668.1 2002.5,667.6 2002.8,667.1 2003.1,666.7 2003.5,666.4 2003.8,666.3 2004.1,666.3 2004.4,666.4 2004.7,666.6 2005.0,667.0 2005.4,667.4 2005.7,667.9 2006.0,668.5 2006.3,669.1 2006.6,669.8 2006.9,670.2 2007.3,670.6 2007.6,670.9 2007.9,671.3 2008.2,670.9 2008.5,670.5 2008.8,670.2 2009.2,669.8 2009.5,669.3 2009.8,668.8 2010.1,668.5 2010.4,668.1 2010.7,667.9 2011.0,667.8 2011.4,667.7 2011.7,667.7 2012.0,667.8 2012.3,668.0 2012.6,668.2 2012.9,668.5 2013.3,668.9 2013.6,669.3 2013.9,669.7 2014.2,670.2 2014.5,670.5 2014.8,670.7 2015.2,671.0 2015.5,671.3 2015.8,671.0 2016.1,670.7 2016.4,670.5 2016.7,670.2 2017.1,669.9 2017.4,669.7 2017.7,669.5 2018.0,669.3 2018.3,669.2 2018.6,669.1 2019.0,669.1 2019.3,669.1 2019.6,669.2 2019.9,669.3 2020.2,669.5 2020.5,669.7 2020.9,669.9 2021.2,670.1 2021.5,670.4 2021.8,670.6 2022.1,670.8 2022.4,671.0 2022.7,671.1 2023.1,671.3 2023.4,671.1 2023.7,671.0 2024.0,670.9 2024.3,670.8 2024.6,670.7 2025.0,670.6 2025.3,670.6 2025.6,670.5 2025.9,670.5 2026.2,670.6 2026.5,670.6 2026.9,670.7 2027.2,670.7 2027.5,670.8 2027.8,670.9 2028.1,671.0 2028.4,671.1 2028.8,671.1 2029.1,671.2 2029.4,671.2 2029.7,671.3 2030.0,671.3 2030.3,671.3 2030.7,671.3 2031.0,671.3 2031.3,671.3 2031.6,671.3 2031.9,671.3 2032.2,671.3 2032.6,671.3 2032.9,671.3 2033.2,671.3 2033.5,671.3 2033.8,671.3 2034.1,671.3 2034.5,671.3 2034.8,671.3 2035.1,671.3 2035.4,671.3 2035.7,671.3 2036.0,671.3 2036.3,671.3 2036.7,671.3 2037.0,671.3 2037.3,671.3 2037.6,671.3 2037.9,671.3 2038.2,671.3 2038.6,671.3 2038.9,671.3 2039.2,671.3 2039.5,671.3 2039.8,671.3 2040.1,671.3 2040.5,671.3 2040.8,671.3 2041.1,671.3 2041.4,671.3 2041.7,671.3 2042.0,671.3 2042.4,671.3 2042.7,671.2 2043.0,671.2 2043.3,671.2 2043.6,671.1 2043.9,671.1 2044.3,671.1 2044.6,671.1 2044.9,671.2 2045.2,671.2 2045.5,671.2 2045.8,671.3 2046.2,671.2 2046.5,671.2 2046.8,671.1 2047.1,671.0 2047.4,670.9 2047.7,670.8 2048.0,670.7 2048.4,670.6 2048.7,670.6 2049.0,670.5 2049.3,670.4 2049.6,670.4 2049.9,670.4 2050.3,670.3 2050.6,670.3 2050.9,670.4 2051.2,670.4 2051.5,670.5 2051.8,670.6 2052.2,670.7 2052.5,670.8 2052.8,671.0 2053.1,671.1 2053.4,671.3 2053.7,671.1 2054.1,670.9 2054.4,670.7 2054.7,670.5 2055.0,670.3 2055.3,670.2 2055.6,670.0 2056.0,669.8 2056.3,669.7 2056.6,669.6 2056.9,669.5 2057.2,669.5 2057.5,669.4 2057.9,669.5 2058.2,669.5 2058.5,669.6 2058.8,669.7 2059.1,669.8 2059.4,670.0 2059.8,670.2 2060.1,670.5 2060.4,670.7 2060.7,671.0 2061.0,671.3 2061.3,671.0 2061.6,670.7 2062.0,670.4 2062.3,670.1 2062.6,669.8 2062.9,669.6 2063.2,669.3 2063.5,669.1 2063.9,668.9 2064.2,668.8 2064.5,668.7 2064.8,668.6 2065.1,668.6 2065.4,668.7 2065.8,668.7 2066.1,668.9 2066.4,669.1 2066.7,669.3 2067.0,669.5 2067.3,669.8 2067.7,670.2 2068.0,670.5 2068.3,670.9 2068.6,671.3 2068.9,670.9 2069.2,670.5 2069.6,670.1 2069.9,669.7 2070.2,669.3 2070.5,669.0 2070.8,668.7 2071.1,668.4 2071.5,668.2 2071.8,668.0 2072.1,667.9 2072.4,667.8 2072.7,667.8 2073.0,667.9 2073.3,668.0 2073.7,668.2 2074.0,668.4 2074.3,668.7 2074.6,669.1 2074.9,669.4 2075.2,669.9 2075.6,670.3 2075.9,670.8 2076.2,671.3 2076.5,670.8 2076.8,670.3 2077.1,669.8 2077.5,669.3 2077.8,668.9 2078.1,668.4 2078.4,668.1 2078.7,667.7 2079.0,667.5 2079.4,667.3 2079.7,667.1 2080.0,667.0 2080.3,667.1 2080.6,667.1 2080.9,667.3 2081.3,667.5 2081.6,667.8 2081.9,668.2 2082.2,668.6 2082.5,669.0 2082.8,669.6 2083.2,670.1 2083.5,670.7 2083.8,671.3 2084.1,670.7 2084.4,670.1 2084.7,669.5 2085.0,668.9 2085.4,668.4 2085.7,667.9 2086.0,667.5 2086.3,667.1 2086.6,666.8 2086.9,666.6 2087.3,666.5 2087.6,666.4 2087.9,666.5 2088.2,666.6 2088.5,666.8 2088.8,667.0 2089.2,667.4 2089.5,667.8 2089.8,668.3 2090.1,668.8 2090.4,669.4 2090.7,670.0 2091.1,670.6 2091.4,671.3 2091.7,670.6 2092.0,670.0 2092.3,669.4 2092.6,668.8 2093.0,668.2 2093.3,667.7 2093.6,667.2 2093.9,666.9 2094.2,666.5 2094.5,666.3 2094.9,666.2 2095.2,666.1 2095.5,666.1 2095.8,666.3 2096.1,666.5 2096.4,666.8 2096.8,667.1 2097.1,667.6 2097.4,668.1 2097.7,668.7 2098.0,669.3 2098.3,669.9 2098.6,670.6 2099.0,671.3 2099.3,670.6 2099.6,669.9 2099.9,669.2 2100.2,668.6 2100.5,668.0 2100.9,667.5 2101.2,667.0 2101.5,666.6 2101.8,666.3 2102.1,666.0 2102.4,665.9 2102.8,665.8 2103.1,665.8 2103.4,666.0 2103.7,666.2 2104.0,666.5 2104.3,666.9 2104.7,667.4 2105.0,667.9 2105.3,668.5 2105.6,669.2 2105.9,669.8 2106.2,670.6 2106.6,671.3 2106.9,670.6 2107.2,669.8 2107.5,669.1 2107.8,668.5 2108.1,667.8 2108.5,667.3 2108.8,666.7 2109.1,666.3 2109.4,666.0 2109.7,665.7 2110.0,665.6 2110.3,665.5 2110.7,665.6 2111.0,665.7 2111.3,666.0 2111.6,666.3 2111.9,666.8 2112.2,667.3 2112.6,667.8 2112.9,668.5 2113.2,669.1 2113.5,669.8 2113.8,670.6 2114.1,671.3 2114.5,670.6 2114.8,669.8 2115.1,669.2 2115.4,668.5 2115.7,667.9 2116.0,667.4 2116.4,666.9 2116.7,666.5 2117.0,666.2 2117.3,666.0 2117.6,665.8 2117.9,665.8 2118.3,665.8 2118.6,666.0 2118.9,666.2 2119.2,666.6 2119.5,667.0 2119.8,667.5 2120.2,668.0 2120.5,668.6 2120.8,669.2 2121.1,669.9 2121.4,670.6 2121.7,671.3 2122.1,670.6 2122.4,669.9 2122.7,669.3 2123.0,668.6 2123.3,668.1 2123.6,667.5 2123.9,667.1 2124.3,666.7 2124.6,666.4 2124.9,666.2 2125.2,666.1 2125.5,666.1 2125.8,666.1 2126.2,666.3 2126.5,666.5 2126.8,666.8 2127.1,667.2 2127.4,667.6 2127.7,668.2 2128.1,668.7 2128.4,669.3 2128.7,670.0 2129.0,670.6 2129.3,671.3 2129.6,670.6 2130.0,670.0 2130.3,669.4 2130.6,668.8 2130.9,668.2 2131.2,667.7 2131.5,667.3 2131.9,666.9 2132.2,666.7 2132.5,666.5 2132.8,666.3 2133.1,666.3 2133.4,666.4 2133.8,666.5 2134.1,666.7 2134.4,667.0 2134.7,667.4 2135.0,667.8 2135.3,668.3 2135.7,668.9 2136.0,669.5 2136.3,670.1 2136.6,670.7 2136.9,671.3 2137.2,670.7 2137.5,670.1 2137.9,669.5 2138.2,669.0 2138.5,668.5 2138.8,668.1 2139.1,667.7 2139.4,667.4 2139.8,667.2 2140.1,667.0 2140.4,666.9 2140.7,666.9 2141.0,667.0 2141.3,667.1 2141.7,667.3 2142.0,667.6 2142.3,667.9 2142.6,668.3 2142.9,668.8 2143.2,669.2 2143.6,669.7 2143.9,670.2 2144.2,670.8 2144.5,671.3 2144.8,670.8 2145.1,670.3 2145.5,669.8 2145.8,669.3 2146.1,668.9 2146.4,668.6 2146.7,668.3 2147.0,668.0 2147.4,667.8 2147.7,667.7 2148.0,667.6 2148.3,667.6 2148.6,667.7 2148.9,667.8 2149.2,668.0 2149.6,668.2 2149.9,668.5 2150.2,668.8 2150.5,669.2 2150.8,669.6 2151.1,670.0 2151.5,670.4 2151.8,670.9 2152.1,671.3 2152.4,670.9 2152.7,670.5 2153.0,670.1 2153.4,669.7 2153.7,669.4 2154.0,669.1 2154.3,668.8 2154.6,668.6 2154.9,668.5 2155.3,668.4 2155.6,668.3 2155.9,668.3 2156.2,668.4 2156.5,668.5 2156.8,668.6 2157.2,668.8 2157.5,669.0 2157.8,669.3 2158.1,669.6 2158.4,669.9 2158.7,670.3 2159.1,670.6 2159.4,671.0 2159.7,671.3 2160.0,671.0 2160.3,670.6 2160.6,670.3 2160.9,670.0 2161.3,669.8 2161.6,669.6 2161.9,669.4 2162.2,669.3 2162.5,669.1 2162.8,669.1 2163.2,669.1 2163.5,669.1 2163.8,669.1 2164.1,669.2 2164.4,669.3 2164.7,669.5 2165.1,669.7 2165.4,669.9 2165.7,670.1 2166.0,670.3 2166.3,670.6 2166.6,670.8 2167.0,671.1 2167.3,671.3 2167.6,671.1 2167.9,670.8 2168.2,670.6 2168.5,670.5 2168.9,670.3 2169.2,670.2 2169.5,670.1 2169.8,670.0 2170.1,669.9 2170.4,669.9 2170.8,669.9 2171.1,669.9 2171.4,669.9 2171.7,670.0 2172.0,670.1 2172.3,670.2 2172.7,670.3 2173.0,670.5 2173.3,670.6 2173.6,670.7 2173.9,670.9 2174.2,671.0 2174.5,671.2 2174.9,671.3 2175.2,671.2 2175.5,671.1 2175.8,671.0 2176.1,670.9 2176.4,670.8 2176.8,670.7 2177.1,670.7 2177.4,670.7 2177.7,670.7 2178.0,670.7 2178.3,670.7 2178.7,670.7 2179.0,670.8 2179.3,670.8 2179.6,670.9 2179.9,670.9 2180.2,671.0 2180.6,671.0 2180.9,671.1 2181.2,671.1 2181.5,671.2 2181.8,671.2 2182.1,671.3 2182.5,671.3 2182.8,671.3 2183.1,671.3 2183.4,671.3 2183.7,671.3 2184.0,671.3 2184.4,671.3 2184.7,671.3 2185.0,671.3 2185.3,671.3 2185.6,671.3 2185.9,671.3 2186.2,671.3 2186.6,671.3 2186.9,671.3 2187.2,671.3 2187.5,671.3 2187.8,671.3 2188.1,671.3 2188.5,671.3 2188.8,671.3 2189.1,671.3 2189.4,671.3 2189.7,671.3 2190.0,671.3 2190.4,671.3 2190.7,671.3 2191.0,671.3 2191.3,671.3 2191.6,671.3 2191.9,671.3 2192.3,671.3 2192.6,671.3 2192.9,671.3 2193.2,671.3 2193.5,671.3 2193.8,671.3 2194.2,671.3 2194.5,671.3 2194.8,671.3 2195.1,671.3 2195.4,671.3 2195.7,671.3 2196.1,671.3 2196.4,671.3 2196.7,671.3 2197.0,671.3 2197.3,671.3 2197.6,671.3 2198.0,671.3 2198.3,671.3 2198.6,671.3 2198.9,671.3 2199.2,671.3 2199.5,671.3 2199.8,671.3 2200.2,671.3 2200.5,671.3 2200.8,671.3 2201.1,671.3 2201.4,671.3 2201.7,671.3 2202.1,671.3 2202.4,671.3 2202.7,671.3 2203.0,671.3 2203.3,671.3 2203.6,671.3 2204.0,671.3 2204.3,671.3 2204.6,671.3 2204.9,671.3 2205.2,671.3 2205.5,671.3 2205.9,671.3 2206.2,671.3 2206.5,671.3 2206.8,671.3 2207.1,671.3 2207.4,671.3 2207.8,671.3 2208.1,671.3 2208.4,671.3 2208.7,671.3 2209.0,671.3 2209.3,671.3 2209.7,671.3 2210.0,671.3 2210.3,671.3 2210.6,671.3 2210.9,671.3 2211.2,671.3 2211.6,671.3 2211.9,671.3 2212.2,671.3 2212.5,671.3 2212.8,671.3 2213.1,671.3 2213.4,671.3 2213.8,671.3 2214.1,671.3 2214.4,671.3 2214.7,671.2 2215.0,671.2 2215.3,671.1 2215.7,671.1 2216.0,671.0 2216.3,670.9 2216.6,670.9 2216.9,670.8 2217.2,670.8 2217.6,670.8 2217.9,670.8 2218.2,670.8 2218.5,670.8 2218.8,670.8 2219.1,670.9 2219.5,671.0 2219.8,671.1 2220.1,671.2 2220.4,671.3 2220.7,671.2 2221.0,671.0 2221.4,670.9 2221.7,670.7 2222.0,670.5 2222.3,670.4 2222.6,670.2 2222.9,670.1 2223.3,670.0 2223.6,669.8 2223.9,669.8 2224.2,669.7 2224.5,669.7 2224.8,669.6 2225.1,669.7 2225.5,669.7 2225.8,669.8 2226.1,670.0 2226.4,670.1 2226.7,670.3 2227.0,670.5 2227.4,670.8 2227.7,671.0 2228.0,671.3 2228.3,671.0 2228.6,670.7 2228.9,670.5 2229.3,670.2 2229.6,669.9 2229.9,669.7 2230.2,669.4 2230.5,669.2 2230.8,669.1 2231.2,668.9 2231.5,668.8 2231.8,668.8 2232.1,668.7 2232.4,668.8 2232.7,668.9 2233.1,669.0 2233.4,669.1 2233.7,669.3 2234.0,669.6 2234.3,669.9 2234.6,670.2 2235.0,670.5 2235.3,670.9 2235.6,671.3 2235.9,670.9 2236.2,670.5 2236.2,671.3 2235.9,671.3 2235.6,671.3 2235.3,671.3 2235.0,671.3 2234.6,671.3 2234.3,671.3 2234.0,671.3 2233.7,671.3 2233.4,671.3 2233.1,671.3 2232.7,671.3 2232.4,671.3 2232.1,671.3 2231.8,671.3 2231.5,671.3 2231.2,671.3 2230.8,671.3 2230.5,671.3 2230.2,671.3 2229.9,671.3 2229.6,671.3 2229.3,671.3 2228.9,671.3 2228.6,671.3 2228.3,671.3 2228.0,671.3 2227.7,671.3 2227.4,671.3 2227.0,671.3 2226.7,671.3 2226.4,671.3 2226.1,671.3 2225.8,671.3 2225.5,671.3 2225.1,671.3 2224.8,671.3 2224.5,671.3 2224.2,671.3 2223.9,671.3 2223.6,671.3 2223.3,671.3 2222.9,671.3 2222.6,671.3 2222.3,671.3 2222.0,671.3 2221.7,671.3 2221.4,671.3 2221.0,671.3 2220.7,671.3 2220.4,671.3 2220.1,671.3 2219.8,671.3 2219.5,671.3 2219.1,671.3 2218.8,671.3 2218.5,671.3 2218.2,671.3 2217.9,671.3 2217.6,671.3 2217.2,671.3 2216.9,671.3 2216.6,671.3 2216.3,671.3 2216.0,671.3 2215.7,671.3 2215.3,671.3 2215.0,671.3 2214.7,671.3 2214.4,671.3 2214.1,671.3 2213.8,671.3 2213.4,671.3 2213.1,671.3 2212.8,671.3 2212.5,671.3 2212.2,671.3 2211.9,671.3 2211.6,671.3 2211.2,671.3 2210.9,671.3 2210.6,671.3 2210.3,671.3 2210.0,671.3 2209.7,671.3 2209.3,671.3 2209.0,671.3 2208.7,671.3 2208.4,671.3 2208.1,671.3 2207.8,671.3 2207.4,671.3 2207.1,671.3 2206.8,671.3 2206.5,671.3 2206.2,671.3 2205.9,671.3 2205.5,671.3 2205.2,671.3 2204.9,671.3 2204.6,671.3 2204.3,671.3 2204.0,671.3 2203.6,671.3 2203.3,671.3 2203.0,671.3 2202.7,671.3 2202.4,671.3 2202.1,671.3 2201.7,671.3 2201.4,671.3 2201.1,671.3 2200.8,671.3 2200.5,671.3 2200.2,671.3 2199.8,671.3 2199.5,671.3 2199.2,671.3 2198.9,671.3 2198.6,671.3 2198.3,671.3 2198.0,671.3 2197.6,671.3 2197.3,671.3 2197.0,671.3 2196.7,671.3 2196.4,671.3 2196.1,671.3 2195.7,671.3 2195.4,671.3 2195.1,671.3 2194.8,671.3 2194.5,671.3 2194.2,671.3 2193.8,671.3 2193.5,671.3 2193.2,671.3 2192.9,671.3 2192.6,671.3 2192.3,671.3 2191.9,671.3 2191.6,671.3 2191.3,671.3 2191.0,671.3 2190.7,671.3 2190.4,671.3 2190.0,671.3 2189.7,671.3 2189.4,671.3 2189.1,671.3 2188.8,671.3 2188.5,671.3 2188.1,671.3 2187.8,671.3 2187.5,671.3 2187.2,671.3 2186.9,671.3 2186.6,671.3 2186.2,671.3 2185.9,671.3 2185.6,671.3 2185.3,671.3 2185.0,671.3 2184.7,671.3 2184.4,671.3 2184.0,671.3 2183.7,671.3 2183.4,671.3 2183.1,671.3 2182.8,671.3 2182.5,671.3 2182.1,671.3 2181.8,671.3 2181.5,671.3 2181.2,671.3 2180.9,671.3 2180.6,671.3 2180.2,671.3 2179.9,671.3 2179.6,671.3 2179.3,671.3 2179.0,671.3 2178.7,671.3 2178.3,671.3 2178.0,671.3 2177.7,671.3 2177.4,671.3 2177.1,671.3 2176.8,671.3 2176.4,671.3 2176.1,671.3 2175.8,671.3 2175.5,671.3 2175.2,671.3 2174.9,671.3 2174.5,671.3 2174.2,671.3 2173.9,671.3 2173.6,671.3 2173.3,671.3 2173.0,671.3 2172.7,671.3 2172.3,671.3 2172.0,671.3 2171.7,671.3 2171.4,671.3 2171.1,671.3 2170.8,671.3 2170.4,671.3 2170.1,671.3 2169.8,671.3 2169.5,671.3 2169.2,671.3 2168.9,671.3 2168.5,671.3 2168.2,671.3 2167.9,671.3 2167.6,671.3 2167.3,671.3 2167.0,671.3 2166.6,671.3 2166.3,671.3 2166.0,671.3 2165.7,671.3 2165.4,671.3 2165.1,671.3 2164.7,671.3 2164.4,671.3 2164.1,671.3 2163.8,671.3 2163.5,671.3 2163.2,671.3 2162.8,671.3 2162.5,671.3 2162.2,671.3 2161.9,671.3 2161.6,671.3 2161.3,671.3 2160.9,671.3 2160.6,671.3 2160.3,671.3 2160.0,671.3 2159.7,671.3 2159.4,671.3 2159.1,671.3 2158.7,671.3 2158.4,671.3 2158.1,671.3 2157.8,671.3 2157.5,671.3 2157.2,671.3 2156.8,671.3 2156.5,671.3 2156.2,671.3 2155.9,671.3 2155.6,671.3 2155.3,671.3 2154.9,671.3 2154.6,671.3 2154.3,671.3 2154.0,671.3 2153.7,671.3 2153.4,671.3 2153.0,671.3 2152.7,671.3 2152.4,671.3 2152.1,671.3 2151.8,671.3 2151.5,671.3 2151.1,671.3 2150.8,671.3 2150.5,671.3 2150.2,671.3 2149.9,671.3 2149.6,671.3 2149.2,671.3 2148.9,671.3 2148.6,671.3 2148.3,671.3 2148.0,671.3 2147.7,671.3 2147.4,671.3 2147.0,671.3 2146.7,671.3 2146.4,671.3 2146.1,671.3 2145.8,671.3 2145.5,671.3 2145.1,671.3 2144.8,671.3 2144.5,671.3 2144.2,671.3 2143.9,671.3 2143.6,671.3 2143.2,671.3 2142.9,671.3 2142.6,671.3 2142.3,671.3 2142.0,671.3 2141.7,671.3 2141.3,671.3 2141.0,671.3 2140.7,671.3 2140.4,671.3 2140.1,671.3 2139.8,671.3 2139.4,671.3 2139.1,671.3 2138.8,671.3 2138.5,671.3 2138.2,671.3 2137.9,671.3 2137.5,671.3 2137.2,671.3 2136.9,671.3 2136.6,671.3 2136.3,671.3 2136.0,671.3 2135.7,671.3 2135.3,671.3 2135.0,671.3 2134.7,671.3 2134.4,671.3 2134.1,671.3 2133.8,671.3 2133.4,671.3 2133.1,671.3 2132.8,671.3 2132.5,671.3 2132.2,671.3 2131.9,671.3 2131.5,671.3 2131.2,671.3 2130.9,671.3 2130.6,671.3 2130.3,671.3 2130.0,671.3 2129.6,671.3 2129.3,671.3 2129.0,671.3 2128.7,671.3 2128.4,671.3 2128.1,671.3 2127.7,671.3 2127.4,671.3 2127.1,671.3 2126.8,671.3 2126.5,671.3 2126.2,671.3 2125.8,671.3 2125.5,671.3 2125.2,671.3 2124.9,671.3 2124.6,671.3 2124.3,671.3 2123.9,671.3 2123.6,671.3 2123.3,671.3 2123.0,671.3 2122.7,671.3 2122.4,671.3 2122.1,671.3 2121.7,671.3 2121.4,671.3 2121.1,671.3 2120.8,671.3 2120.5,671.3 2120.2,671.3 2119.8,671.3 2119.5,671.3 2119.2,671.3 2118.9,671.3 2118.6,671.3 2118.3,671.3 2117.9,671.3 2117.6,671.3 2117.3,671.3 2117.0,671.3 2116.7,671.3 2116.4,671.3 2116.0,671.3 2115.7,671.3 2115.4,671.3 2115.1,671.3 2114.8,671.3 2114.5,671.3 2114.1,671.3 2113.8,671.3 2113.5,671.3 2113.2,671.3 2112.9,671.3 2112.6,671.3 2112.2,671.3 2111.9,671.3 2111.6,671.3 2111.3,671.3 2111.0,671.3 2110.7,671.3 2110.3,671.3 2110.0,671.3 2109.7,671.3 2109.4,671.3 2109.1,671.3 2108.8,671.3 2108.5,671.3 2108.1,671.3 2107.8,671.3 2107.5,671.3 2107.2,671.3 2106.9,671.3 2106.6,671.3 2106.2,671.3 2105.9,671.3 2105.6,671.3 2105.3,671.3 2105.0,671.3 2104.7,671.3 2104.3,671.3 2104.0,671.3 2103.7,671.3 2103.4,671.3 2103.1,671.3 2102.8,671.3 2102.4,671.3 2102.1,671.3 2101.8,671.3 2101.5,671.3 2101.2,671.3 2100.9,671.3 2100.5,671.3 2100.2,671.3 2099.9,671.3 2099.6,671.3 2099.3,671.3 2099.0,671.3 2098.6,671.3 2098.3,671.3 2098.0,671.3 2097.7,671.3 2097.4,671.3 2097.1,671.3 2096.8,671.3 2096.4,671.3 2096.1,671.3 2095.8,671.3 2095.5,671.3 2095.2,671.3 2094.9,671.3 2094.5,671.3 2094.2,671.3 2093.9,671.3 2093.6,671.3 2093.3,671.3 2093.0,671.3 2092.6,671.3 2092.3,671.3 2092.0,671.3 2091.7,671.3 2091.4,671.3 2091.1,671.3 2090.7,671.3 2090.4,671.3 2090.1,671.3 2089.8,671.3 2089.5,671.3 2089.2,671.3 2088.8,671.3 2088.5,671.3 2088.2,671.3 2087.9,671.3 2087.6,671.3 2087.3,671.3 2086.9,671.3 2086.6,671.3 2086.3,671.3 2086.0,671.3 2085.7,671.3 2085.4,671.3 2085.0,671.3 2084.7,671.3 2084.4,671.3 2084.1,671.3 2083.8,671.3 2083.5,671.3 2083.2,671.3 2082.8,671.3 2082.5,671.3 2082.2,671.3 2081.9,671.3 2081.6,671.3 2081.3,671.3 2080.9,671.3 2080.6,671.3 2080.3,671.3 2080.0,671.3 2079.7,671.3 2079.4,671.3 2079.0,671.3 2078.7,671.3 2078.4,671.3 2078.1,671.3 2077.8,671.3 2077.5,671.3 2077.1,671.3 2076.8,671.3 2076.5,671.3 2076.2,671.3 2075.9,671.3 2075.6,671.3 2075.2,671.3 2074.9,671.3 2074.6,671.3 2074.3,671.3 2074.0,671.3 2073.7,671.3 2073.3,671.3 2073.0,671.3 2072.7,671.3 2072.4,671.3 2072.1,671.3 2071.8,671.3 2071.5,671.3 2071.1,671.3 2070.8,671.3 2070.5,671.3 2070.2,671.3 2069.9,671.3 2069.6,671.3 2069.2,671.3 2068.9,671.3 2068.6,671.3 2068.3,671.3 2068.0,671.3 2067.7,671.3 2067.3,671.3 2067.0,671.3 2066.7,671.3 2066.4,671.3 2066.1,671.3 2065.8,671.3 2065.4,671.3 2065.1,671.3 2064.8,671.3 2064.5,671.3 2064.2,671.3 2063.9,671.3 2063.5,671.3 2063.2,671.3 2062.9,671.3 2062.6,671.3 2062.3,671.3 2062.0,671.3 2061.6,671.3 2061.3,671.3 2061.0,671.3 2060.7,671.3 2060.4,671.3 2060.1,671.3 2059.8,671.3 2059.4,671.3 2059.1,671.3 2058.8,671.3 2058.5,671.3 2058.2,671.3 2057.9,671.3 2057.5,671.3 2057.2,671.3 2056.9,671.3 2056.6,671.3 2056.3,671.3 2056.0,671.3 2055.6,671.3 2055.3,671.3 2055.0,671.3 2054.7,671.3 2054.4,671.3 2054.1,671.3 2053.7,671.3 2053.4,671.3 2053.1,671.3 2052.8,671.3 2052.5,671.3 2052.2,671.3 2051.8,671.3 2051.5,671.3 2051.2,671.3 2050.9,671.3 2050.6,671.3 2050.3,671.3 2049.9,671.3 2049.6,671.3 2049.3,671.3 2049.0,671.3 2048.7,671.3 2048.4,671.3 2048.0,671.3 2047.7,671.3 2047.4,671.3 2047.1,671.3 2046.8,671.3 2046.5,671.3 2046.2,671.3 2045.8,671.3 2045.5,671.3 2045.2,671.3 2044.9,671.3 2044.6,671.3 2044.3,671.3 2043.9,671.3 2043.6,671.3 2043.3,671.3 2043.0,671.3 2042.7,671.3 2042.4,671.3 2042.0,671.3 2041.7,671.3 2041.4,671.3 2041.1,671.3 2040.8,671.3 2040.5,671.3 2040.1,671.3 2039.8,671.3 2039.5,671.3 2039.2,671.3 2038.9,671.3 2038.6,671.3 2038.2,671.3 2037.9,671.3 2037.6,671.3 2037.3,671.3 2037.0,671.3 2036.7,671.3 2036.3,671.3 2036.0,671.3 2035.7,671.3 2035.4,671.3 2035.1,671.3 2034.8,671.3 2034.5,671.3 2034.1,671.3 2033.8,671.3 2033.5,671.3 2033.2,671.3 2032.9,671.3 2032.6,671.3 2032.2,671.3 2031.9,671.3 2031.6,671.3 2031.3,671.3 2031.0,671.3 2030.7,671.3 2030.3,671.3 2030.0,671.3 2029.7,671.3 2029.4,671.3 2029.1,671.3 2028.8,671.3 2028.4,671.3 2028.1,671.3 2027.8,671.3 2027.5,671.3 2027.2,671.3 2026.9,671.3 2026.5,671.3 2026.2,671.3 2025.9,671.3 2025.6,671.3 2025.3,671.3 2025.0,671.3 2024.6,671.3 2024.3,671.3 2024.0,671.3 2023.7,671.3 2023.4,671.3 2023.1,671.3 2022.7,671.3 2022.4,671.3 2022.1,671.3 2021.8,671.2 2021.5,671.2 2021.2,671.2 2020.9,671.2 2020.5,671.2 2020.2,671.2 2019.9,671.1 2019.6,671.1 2019.3,671.1 2019.0,671.1 2018.6,671.1 2018.3,671.1 2018.0,671.1 2017.7,671.1 2017.4,671.2 2017.1,671.2 2016.7,671.2 2016.4,671.2 2016.1,671.2 2015.8,671.3 2015.5,671.3 2015.2,671.2 2014.8,671.2 2014.5,671.1 2014.2,671.1 2013.9,671.0 2013.6,671.0 2013.3,671.0 2012.9,670.9 2012.6,670.9 2012.3,670.9 2012.0,670.8 2011.7,670.8 2011.4,670.8 2011.0,670.8 2010.7,670.8 2010.4,670.9 2010.1,670.9 2009.8,670.9 2009.5,671.0 2009.2,671.0 2008.8,671.1 2008.5,671.2 2008.2,671.2 2007.9,671.3 2007.6,671.2 2007.3,671.1 2006.9,671.0 2006.6,670.9 2006.3,670.8 2006.0,670.7 2005.7,670.6 2005.4,670.6 2005.0,670.5 2004.7,670.4 2004.4,670.4 2004.1,670.4 2003.8,670.4 2003.5,670.4 2003.1,670.4 2002.8,670.5 2002.5,670.6 2002.2,670.6 2001.9,670.7 2001.6,670.8 2001.2,670.9 2000.9,671.0 2000.6,671.2 2000.3,671.3 2000.0,671.1 1999.7,671.0 1999.3,670.8 1999.0,670.6 1998.7,670.5 1998.4,670.4 1998.1,670.2 1997.8,670.1 1997.4,670.0 1997.1,670.0 1996.8,669.9 1996.5,669.9 1996.2,669.9 1995.9,669.9 1995.6,670.0 1995.2,670.1 1994.9,670.2 1994.6,670.3 1994.3,670.4 1994.0,670.6 1993.7,670.7 1993.3,670.9 1993.0,671.1 1992.7,671.3 1992.4,671.1 1992.1,670.8 1991.8,670.6 1991.4,670.4 1991.1,670.1 1990.8,669.9 1990.5,669.8 1990.2,669.6 1989.9,669.5 1989.5,669.4 1989.2,669.3 1988.9,669.3 1988.6,669.3 1988.3,669.4 1988.0,669.4 1987.6,669.5 1987.3,669.7 1987.0,669.8 1986.7,670.0 1986.4,670.3 1986.1,670.5 1985.7,670.8 1985.4,671.0 1985.1,671.3 1984.8,671.0 1984.5,670.6 1984.2,670.3 1983.9,670.0 1983.5,669.7 1983.2,669.5 1982.9,669.2 1982.6,669.0 1982.3,668.9 1982.0,668.7 1981.6,668.7 1981.3,668.6 1981.0,668.6 1980.7,668.7 1980.4,668.8 1980.1,668.9 1979.7,669.1 1979.4,669.3 1979.1,669.6 1978.8,669.9 1978.5,670.2 1978.2,670.6 1977.8,670.9 1977.5,671.3 1977.2,670.9 1976.9,670.4 1976.6,670.0 1976.3,669.6 1975.9,669.2 1975.6,668.9 1975.3,668.6 1975.0,668.3 1974.7,668.1 1974.4,667.9 1974.0,667.8 1973.7,667.8 1973.4,667.8 1973.1,667.8 1972.8,668.0 1972.5,668.2 1972.1,668.4 1971.8,668.7 1971.5,669.1 1971.2,669.5 1970.9,669.9 1970.6,670.3 1970.3,670.8 1969.9,671.3 1969.6,670.7 1969.3,670.2 1969.0,669.7 1968.7,669.1 1968.4,668.7 1968.0,668.2 1967.7,667.8 1967.4,667.5 1967.1,667.2 1966.8,667.0 1966.5,666.9 1966.1,666.8 1965.8,666.8 1965.5,666.9 1965.2,667.1 1964.9,667.3 1964.6,667.7 1964.2,668.0 1963.9,668.5 1963.6,669.0 1963.3,669.5 1963.0,670.1 1962.7,670.7 1962.3,671.3 1962.0,670.6 1961.7,670.0 1961.4,669.3 1961.1,668.7 1960.8,668.1 1960.4,667.6 1960.1,667.1 1959.8,666.7 1959.5,666.4 1959.2,666.2 1958.9,666.0 1958.6,665.9 1958.2,666.0 1957.9,666.1 1957.6,666.3 1957.3,666.6 1957.0,667.0 1956.7,667.4 1956.3,668.0 1956.0,668.5 1955.7,669.2 1955.4,669.9 1955.1,670.6 1954.8,671.3 1954.4,670.5 1954.1,669.7 1953.8,669.0 1953.5,668.3 1953.2,667.6 1952.9,667.0 1952.5,666.4 1952.2,666.0 1951.9,665.6 1951.6,665.3 1951.3,665.1 1951.0,665.0 1950.6,665.1 1950.3,665.2 1950.0,665.5 1949.7,665.8 1949.4,666.3 1949.1,666.8 1948.7,667.4 1948.4,668.1 1948.1,668.8 1947.8,669.6 1947.5,670.5 1947.2,671.3 1946.8,670.4 1946.5,669.5 1946.2,668.6 1945.9,667.8 1945.6,667.0 1945.3,666.3 1945.0,665.7 1944.6,665.1 1944.3,664.7 1944.0,664.4 1943.7,664.2 1943.4,664.1 1943.1,664.2 1942.7,664.3 1942.4,664.6 1942.1,665.0 1941.8,665.6 1941.5,666.2 1941.2,666.9 1940.8,667.7 1940.5,668.5 1940.2,669.4 1939.9,670.3 1939.6,671.3 1939.3,670.3 1938.9,669.3 1938.6,668.3 1938.3,667.4 1938.0,666.5 1937.7,665.7 1937.4,665.0 1937.0,664.5 1936.7,664.0 1936.4,663.6 1936.1,663.4 1935.8,663.3 1935.5,663.4 1935.1,663.6 1934.8,663.9 1934.5,664.4 1934.2,664.9 1933.9,665.6 1933.6,666.4 1933.3,667.3 1932.9,668.2 1932.6,669.2 1932.3,670.2 1932.0,671.3 1931.7,670.2 1931.4,669.1 1931.0,668.0 1930.7,667.0 1930.4,666.0 1930.1,665.2 1929.8,664.4 1929.5,663.8 1929.1,663.3 1928.8,662.9 1928.5,662.7 1928.2,662.6 1927.9,662.7 1927.6,662.9 1927.2,663.3 1926.9,663.8 1926.6,664.4 1926.3,665.2 1926.0,666.0 1925.7,667.0 1925.3,668.0 1925.0,669.0 1924.7,670.2 1924.4,671.3 1924.1,670.1 1923.8,668.9 1923.4,667.8 1923.1,666.7 1922.8,665.7 1922.5,664.8 1922.2,664.0 1921.9,663.4 1921.5,662.8 1921.2,662.5 1920.9,662.2 1920.6,662.1 1920.3,662.2 1920.0,662.5 1919.7,662.8 1919.3,663.4 1919.0,664.0 1918.7,664.8 1918.4,665.7 1918.1,666.7 1917.8,667.8 1917.4,668.9 1917.1,670.1 1916.8,671.3 1916.5,670.0 1916.2,668.8 1915.9,667.6 1915.5,666.5 1915.2,665.4 1914.9,664.5 1914.6,663.7 1914.3,663.0 1914.0,662.4 1913.6,662.1 1913.3,661.8 1913.0,661.8 1912.7,661.8 1912.4,662.1 1912.1,662.5 1911.7,663.1 1911.4,663.8 1911.1,664.6 1910.8,665.5 1910.5,666.6 1910.2,667.7 1909.8,668.9 1909.5,670.1 1909.2,671.3 1908.9,669.9 1908.6,668.6 1908.3,667.3 1908.0,666.1 1907.6,665.0 1907.3,664.0 1907.0,663.1 1906.7,662.4 1906.4,661.8 1906.1,661.4 1905.7,661.1 1905.4,661.1 1905.1,661.2 1904.8,661.5 1904.5,661.9 1904.2,662.5 1903.8,663.3 1903.5,664.2 1903.2,665.2 1902.9,666.3 1902.6,667.5 1902.3,668.7 1901.9,670.0 1901.6,671.3 1901.3,669.9 1901.0,668.5 1900.7,667.2 1900.4,665.9 1900.0,664.8 1899.7,663.7 1899.4,662.8 1899.1,662.1 1898.8,661.5 1898.5,661.1 1898.1,660.9 1897.8,660.8 1897.5,661.0 1897.2,661.3 1896.9,661.8 1896.6,662.5 1896.2,663.3 1895.9,664.2 1895.6,665.2 1895.3,666.3 1895.0,667.5 1894.7,668.8 1894.4,670.0 1894.0,671.3 1893.7,669.9 1893.4,668.6 1893.1,667.3 1892.8,666.2 1892.5,665.1 1892.1,664.1 1891.8,663.3 1891.5,662.7 1891.2,662.1 1890.9,661.8 1890.6,661.7 1890.2,661.7 1889.9,661.9 1889.6,662.2 1889.3,662.7 1889.0,663.4 1888.7,664.1 1888.3,665.0 1888.0,665.9 1887.7,666.9 1887.4,668.0 1887.1,669.1 1886.8,670.2 1886.4,671.3 1886.1,670.1 1885.8,669.0 1885.5,668.0 1885.2,667.1 1884.9,666.2 1884.5,665.5 1884.2,664.9 1883.9,664.4 1883.6,664.1 1883.3,663.9 1883.0,663.9 1882.7,664.0 1882.3,664.3 1882.0,664.6 1881.7,665.1 1881.4,665.6 1881.1,666.2 1880.8,666.9 1880.4,667.6 1880.1,668.4 1879.8,669.1 1879.5,669.9 1879.2,670.6 1878.9,671.3 1878.5,670.6 1878.2,670.0 1877.9,669.4 1877.6,668.9 1877.3,668.5 1877.0,668.2 1876.6,668.0 1876.3,667.8 1876.0,667.8 1875.7,667.8 1875.4,667.9 1875.1,668.1 1874.7,668.3 1874.4,668.6 1874.1,668.9 1873.8,669.2 1873.5,669.6 1873.2,669.9 1872.8,670.2 1872.5,670.5 1872.2,670.8 1871.9,671.0 1871.6,671.2 1871.3,671.3"/>
<polyline fill="none" stroke="#1a1a1a" stroke-width="0.85" stroke-linejoin="miter" stroke-miterlimit="10" points="1689.11,671.3 1689.29,664.0 1689.48,656.8 1689.67,649.6 1689.86,642.6 1690.05,635.7 1690.24,629.1 1690.43,622.7 1690.62,616.6 1690.81,610.9 1691.00,605.5 1691.19,600.6 1691.38,596.1 1691.57,592.0 1691.76,588.4 1691.95,585.4 1692.14,582.8 1692.33,580.9 1692.52,579.4 1692.71,578.6 1692.90,578.3 1693.09,578.6 1693.28,579.4 1693.47,580.9 1693.66,582.8 1693.85,585.4 1694.04,588.4 1694.23,592.0 1694.42,596.1 1694.61,600.6 1694.80,605.5 1694.99,610.9 1695.18,616.6 1695.37,622.7 1695.56,629.1 1695.75,635.7 1695.94,642.6 1696.13,649.6 1696.32,656.8 1696.51,664.0 1696.69,671.3 1696.88,663.8 1697.07,656.4 1697.26,649.0 1697.45,641.8 1697.64,634.8 1697.83,628.0 1698.02,621.5 1698.21,615.3 1698.40,609.4 1698.59,603.9 1698.78,598.8 1698.97,594.2 1699.16,590.0 1699.35,586.4 1699.54,583.2 1699.73,580.6 1699.92,578.6 1700.11,577.1 1700.30,576.3 1700.49,576.0 1700.68,576.3 1700.87,577.1 1701.06,578.6 1701.25,580.6 1701.44,583.2 1701.63,586.4 1701.82,590.0 1702.01,594.2 1702.20,598.8 1702.39,603.9 1702.58,609.4 1702.77,615.3 1702.96,621.5 1703.15,628.0 1703.34,634.8 1703.53,641.8 1703.72,649.0 1703.91,656.4 1704.10,663.8 1704.29,671.3 1704.47,669.7 1704.66,668.1 1704.85,666.6 1705.04,665.0 1705.23,663.6 1705.42,662.1 1705.61,660.7 1705.80,659.4 1705.99,658.1 1706.18,657.0 1706.37,655.9 1706.56,654.9 1706.75,654.0 1706.94,653.3 1707.13,652.6 1707.32,652.0 1707.51,651.6 1707.70,651.3 1707.89,651.1 1708.08,651.0 1708.27,651.1 1708.46,651.3 1708.65,651.6 1708.84,652.0 1709.03,652.6 1709.22,653.3 1709.41,654.0 1709.60,654.9 1709.79,655.9 1709.98,657.0 1710.17,658.1 1710.36,659.4 1710.55,660.7 1710.74,662.1 1710.93,663.6 1711.12,665.0 1711.31,666.6 1711.50,668.1 1711.69,669.7 1711.88,671.3 1712.06,666.8 1712.25,662.2 1712.44,657.8 1712.63,653.4 1712.82,649.2 1713.01,645.0 1713.20,641.1 1713.39,637.3 1713.58,633.7 1713.77,630.4 1713.96,627.3 1714.15,624.5 1714.34,622.0 1714.53,619.7 1714.72,617.8 1714.91,616.3 1715.10,615.0 1715.29,614.2 1715.48,613.6 1715.67,613.4 1715.86,613.6 1716.05,614.2 1716.24,615.0 1716.43,616.3 1716.62,617.8 1716.81,619.7 1717.00,622.0 1717.19,624.5 1717.38,627.3 1717.57,630.4 1717.76,633.7 1717.95,637.3 1718.14,641.1 1718.33,645.0 1718.52,649.2 1718.71,653.4 1718.90,657.8 1719.09,662.2 1719.28,666.8 1719.46,671.3 1719.65,661.1 1719.84,650.9 1720.03,640.9 1720.22,631.1 1720.41,621.5 1720.60,612.2 1720.79,603.3 1720.98,594.8 1721.17,586.8 1721.36,579.2 1721.55,572.3 1721.74,566.0 1721.93,560.3 1722.12,555.3 1722.31,551.0 1722.50,547.5 1722.69,544.7 1722.88,542.7 1723.07,541.5 1723.26,541.1 1723.45,541.5 1723.64,542.7 1723.83,544.7 1724.02,547.5 1724.21,551.0 1724.40,555.3 1724.59,560.3 1724.78,566.0 1724.97,572.3 1725.16,579.2 1725.35,586.8 1725.54,594.8 1725.73,603.3 1725.92,612.2 1726.11,621.5 1726.30,631.1 1726.49,640.9 1726.68,650.9 1726.87,661.1 1727.06,671.3 1727.24,656.5 1727.43,641.9 1727.62,627.4 1727.81,613.2 1728.00,599.3 1728.19,585.9 1728.38,573.0 1728.57,560.8 1728.76,549.2 1728.95,538.3 1729.14,528.3 1729.33,519.2 1729.52,511.0 1729.71,503.8 1729.90,497.6 1730.09,492.5 1730.28,488.5 1730.47,485.6 1730.66,483.8 1730.85,483.3 1731.04,483.8 1731.23,485.6 1731.42,488.5 1731.61,492.5 1731.80,497.6 1731.99,503.8 1732.18,511.0 1732.37,519.2 1732.56,528.3 1732.75,538.3 1732.94,549.2 1733.13,560.8 1733.32,573.0 1733.51,585.9 1733.70,599.3 1733.89,613.2 1734.08,627.4 1734.27,641.9 1734.46,656.5 1734.64,671.3 1734.83,651.8 1735.02,632.4 1735.21,613.2 1735.40,594.4 1735.59,576.1 1735.78,558.3 1735.97,541.3 1736.16,525.1 1736.35,509.7 1736.54,495.4 1736.73,482.1 1736.92,470.0 1737.11,459.2 1737.30,449.6 1737.49,441.4 1737.68,434.7 1737.87,429.4 1738.06,425.6 1738.25,423.3 1738.44,422.5 1738.63,423.3 1738.82,425.6 1739.01,429.4 1739.20,434.7 1739.39,441.4 1739.58,449.6 1739.77,459.2 1739.96,470.0 1740.15,482.1 1740.34,495.4 1740.53,509.7 1740.72,525.1 1740.91,541.3 1741.10,558.3 1741.29,576.1 1741.48,594.4 1741.67,613.2 1741.86,632.4 1742.05,651.8 1742.24,668.6 1742.42,647.0 1742.61,622.9 1742.80,599.0 1742.99,575.6 1743.18,552.8 1743.37,530.8 1743.56,509.6 1743.75,489.4 1743.94,470.3 1744.13,452.4 1744.32,435.9 1744.51,420.9 1744.70,407.4 1744.89,395.5 1745.08,385.3 1745.27,376.9 1745.46,370.3 1745.65,365.6 1745.84,362.7 1746.03,361.7 1746.22,362.7 1746.41,365.6 1746.60,370.3 1746.79,376.9 1746.98,385.3 1747.17,395.5 1747.36,407.4 1747.55,420.9 1747.74,435.9 1747.93,452.4 1748.12,470.3 1748.31,489.4 1748.50,509.6 1748.69,530.8 1748.88,552.8 1749.07,575.6 1749.26,599.0 1749.45,622.9 1749.64,647.0 1749.83,667.9 1750.01,643.6 1750.20,616.1 1750.39,588.9 1750.58,562.2 1750.77,536.2 1750.96,511.1 1751.15,486.9 1751.34,463.8 1751.53,442.1 1751.72,421.7 1751.91,402.9 1752.10,385.8 1752.29,370.4 1752.48,356.8 1752.67,345.2 1752.86,335.6 1753.05,328.1 1753.24,322.7 1753.43,319.4 1753.62,318.4 1753.81,319.4 1754.00,322.7 1754.19,328.1 1754.38,335.6 1754.57,345.2 1754.76,356.8 1754.95,370.4 1755.14,385.8 1755.33,402.9 1755.52,421.7 1755.71,442.1 1755.90,463.8 1756.09,486.9 1756.28,511.1 1756.47,536.2 1756.66,562.2 1756.85,588.9 1757.04,616.1 1757.23,643.6 1757.41,668.6 1757.60,640.4 1757.79,609.6 1757.98,579.3 1758.17,549.5 1758.36,520.5 1758.55,492.3 1758.74,465.3 1758.93,439.6 1759.12,415.3 1759.31,392.6 1759.50,371.6 1759.69,352.4 1759.88,335.2 1760.07,320.1 1760.26,307.1 1760.45,296.4 1760.64,288.0 1760.83,282.0 1761.02,278.3 1761.21,277.1 1761.40,278.3 1761.59,282.0 1761.78,288.0 1761.97,296.4 1762.16,307.1 1762.35,320.1 1762.54,335.2 1762.73,352.4 1762.92,371.6 1763.11,392.6 1763.30,415.3 1763.49,439.6 1763.68,465.3 1763.87,492.3 1764.06,520.5 1764.25,549.5 1764.44,579.3 1764.63,609.6 1764.82,640.4 1765.01,664.5 1765.19,637.1 1765.38,603.2 1765.57,569.7 1765.76,536.8 1765.95,504.7 1766.14,473.6 1766.33,443.8 1766.52,415.4 1766.71,388.5 1766.90,363.4 1767.09,340.2 1767.28,319.1 1767.47,300.1 1767.66,283.4 1767.85,269.0 1768.04,257.2 1768.23,247.9 1768.42,241.3 1768.61,237.2 1768.80,235.9 1768.99,237.2 1769.18,241.3 1769.37,247.9 1769.56,257.2 1769.75,269.0 1769.94,283.4 1770.13,300.1 1770.32,319.1 1770.51,340.2 1770.70,363.4 1770.89,388.5 1771.08,415.4 1771.27,443.8 1771.46,473.6 1771.65,504.7 1771.84,536.8 1772.03,569.7 1772.22,603.2 1772.41,637.1 1772.60,671.3 1772.78,636.0 1772.97,600.9 1773.16,566.3 1773.35,532.3 1773.54,499.1 1773.73,467.1 1773.92,436.2 1774.11,406.9 1774.30,379.1 1774.49,353.2 1774.68,329.2 1774.87,307.4 1775.06,287.7 1775.25,270.5 1775.44,255.7 1775.63,243.5 1775.82,233.9 1776.01,227.0 1776.20,222.8 1776.39,221.4 1776.58,222.8 1776.77,227.0 1776.96,233.9 1777.15,243.5 1777.34,255.7 1777.53,270.5 1777.72,287.7 1777.91,307.4 1778.10,329.2 1778.29,353.2 1778.48,379.1 1778.67,406.9 1778.86,436.2 1779.05,467.1 1779.24,499.1 1779.43,532.3 1779.62,566.3 1779.81,600.9 1780.00,636.0 1780.18,662.5 1780.37,636.0 1780.56,600.9 1780.75,566.3 1780.94,532.3 1781.13,499.1 1781.32,467.1 1781.51,436.2 1781.70,406.9 1781.89,379.1 1782.08,353.2 1782.27,329.2 1782.46,307.4 1782.65,287.7 1782.84,270.5 1783.03,255.7 1783.22,243.5 1783.41,233.9 1783.60,227.0 1783.79,222.8 1783.98,221.4 1784.17,222.8 1784.36,227.0 1784.55,233.9 1784.74,243.5 1784.93,255.7 1785.12,270.5 1785.31,287.7 1785.50,307.4 1785.69,329.2 1785.88,353.2 1786.07,379.1 1786.26,406.9 1786.45,436.2 1786.64,467.1 1786.83,499.1 1787.02,532.3 1787.21,566.3 1787.40,600.9 1787.59,636.0 1787.78,671.3 1787.96,634.4 1788.15,597.8 1788.34,561.6 1788.53,526.0 1788.72,491.4 1788.91,457.9 1789.10,425.7 1789.29,395.0 1789.48,366.0 1789.67,338.9 1789.86,313.8 1790.05,291.0 1790.24,270.5 1790.43,252.4 1790.62,237.0 1790.81,224.2 1791.00,214.2 1791.19,207.0 1791.38,202.6 1791.57,201.2 1791.76,202.6 1791.95,207.0 1792.14,214.2 1792.33,224.2 1792.52,237.0 1792.71,252.4 1792.90,270.5 1793.09,291.0 1793.28,313.8 1793.47,338.9 1793.66,366.0 1793.85,395.0 1794.04,425.7 1794.23,457.9 1794.42,491.4 1794.61,526.0 1794.80,561.6 1794.99,597.8 1795.18,634.4 1795.37,662.9 1795.55,634.6 1795.74,598.2 1795.93,562.2 1796.12,526.9 1796.31,492.5 1796.50,459.2 1796.69,427.2 1796.88,396.7 1797.07,367.9 1797.26,340.9 1797.45,316.0 1797.64,293.3 1797.83,272.9 1798.02,255.0 1798.21,239.6 1798.40,226.9 1798.59,217.0 1798.78,209.8 1798.97,205.5 1799.16,204.1 1799.35,205.5 1799.54,209.8 1799.73,217.0 1799.92,226.9 1800.11,239.6 1800.30,255.0 1800.49,272.9 1800.68,293.3 1800.87,316.0 1801.06,340.9 1801.25,367.9 1801.44,396.7 1801.63,427.2 1801.82,459.2 1802.01,492.5 1802.20,526.9 1802.39,562.2 1802.58,598.2 1802.77,634.6 1802.95,671.3 1803.14,637.8 1803.33,604.5 1803.52,571.7 1803.71,539.4 1803.90,508.0 1804.09,477.6 1804.28,448.3 1804.47,420.5 1804.66,394.2 1804.85,369.6 1805.04,346.8 1805.23,326.1 1805.42,307.5 1805.61,291.1 1805.80,277.1 1805.99,265.5 1806.18,256.4 1806.37,249.8 1806.56,245.9 1806.75,244.6 1806.94,245.9 1807.13,249.8 1807.32,256.4 1807.51,265.5 1807.70,277.1 1807.89,291.1 1808.08,307.5 1808.27,326.1 1808.46,346.8 1808.65,369.6 1808.84,394.2 1809.03,420.5 1809.22,448.3 1809.41,477.6 1809.60,508.0 1809.79,539.4 1809.98,571.7 1810.17,604.5 1810.36,637.8 1810.55,665.2 1810.73,638.7 1810.92,606.4 1811.11,574.4 1811.30,543.0 1811.49,512.4 1811.68,482.8 1811.87,454.4 1812.06,427.3 1812.25,401.7 1812.44,377.7 1812.63,355.6 1812.82,335.4 1813.01,317.3 1813.20,301.4 1813.39,287.8 1813.58,276.5 1813.77,267.6 1813.96,261.3 1814.15,257.4 1814.34,256.2 1814.53,257.4 1814.72,261.3 1814.91,267.6 1815.10,276.5 1815.29,287.8 1815.48,301.4 1815.67,317.3 1815.86,335.4 1816.05,355.6 1816.24,377.7 1816.43,401.7 1816.62,427.3 1816.81,454.4 1817.00,482.8 1817.19,512.4 1817.38,543.0 1817.57,574.4 1817.76,606.4 1817.95,638.7 1818.13,668.2 1818.32,642.1 1818.51,613.0 1818.70,584.3 1818.89,556.2 1819.08,528.8 1819.27,502.2 1819.46,476.7 1819.65,452.4 1819.84,429.4 1820.03,407.9 1820.22,388.1 1820.41,370.0 1820.60,353.7 1820.79,339.4 1820.98,327.2 1821.17,317.1 1821.36,309.1 1821.55,303.4 1821.74,300.0 1821.93,298.8 1822.12,300.0 1822.31,303.4 1822.50,309.1 1822.69,317.1 1822.88,327.2 1823.07,339.4 1823.26,353.7 1823.45,370.0 1823.64,388.1 1823.83,407.9 1824.02,429.4 1824.21,452.4 1824.40,476.7 1824.59,502.2 1824.78,528.8 1824.97,556.2 1825.16,584.3 1825.35,613.0 1825.54,642.1 1825.72,668.2 1825.91,645.5 1826.10,619.9 1826.29,594.6 1826.48,569.8 1826.67,545.6 1826.86,522.2 1827.05,499.7 1827.24,478.3 1827.43,458.1 1827.62,439.1 1827.81,421.6 1828.00,405.7 1828.19,391.3 1828.38,378.7 1828.57,367.9 1828.76,359.0 1828.95,352.0 1829.14,347.0 1829.33,344.0 1829.52,342.9 1829.71,344.0 1829.90,347.0 1830.09,352.0 1830.28,359.0 1830.47,367.9 1830.66,378.7 1830.85,391.3 1831.04,405.7 1831.23,421.6 1831.42,439.1 1831.61,458.1 1831.80,478.3 1831.99,499.7 1832.18,522.2 1832.37,545.6 1832.56,569.8 1832.75,594.6 1832.94,619.9 1833.13,645.5 1833.32,667.3 1833.50,650.0 1833.69,628.8 1833.88,607.8 1834.07,587.3 1834.26,567.2 1834.45,547.8 1834.64,529.2 1834.83,511.5 1835.02,494.7 1835.21,479.0 1835.40,464.5 1835.59,451.3 1835.78,439.4 1835.97,429.0 1836.16,420.1 1836.35,412.7 1836.54,406.9 1836.73,402.7 1836.92,400.2 1837.11,399.4 1837.30,400.2 1837.49,402.7 1837.68,406.9 1837.87,412.7 1838.06,420.1 1838.25,429.0 1838.44,439.4 1838.63,451.3 1838.82,464.5 1839.01,479.0 1839.20,494.7 1839.39,511.5 1839.58,529.2 1839.77,547.8 1839.96,567.2 1840.15,587.3 1840.34,607.8 1840.53,628.8 1840.72,650.0 1840.90,671.3 1841.09,655.2 1841.28,639.3 1841.47,623.5 1841.66,608.0 1841.85,592.9 1842.04,578.3 1842.23,564.3 1842.42,550.9 1842.61,538.3 1842.80,526.5 1842.99,515.6 1843.18,505.6 1843.37,496.7 1843.56,488.8 1843.75,482.1 1843.94,476.5 1844.13,472.1 1844.32,469.0 1844.51,467.1 1844.70,466.5 1844.89,467.1 1845.08,469.0 1845.27,472.1 1845.46,476.5 1845.65,482.1 1845.84,488.8 1846.03,496.7 1846.22,505.6 1846.41,515.6 1846.60,526.5 1846.79,538.3 1846.98,550.9 1847.17,564.3 1847.36,578.3 1847.55,592.9 1847.74,608.0 1847.93,623.5 1848.12,639.3 1848.31,655.2 1848.49,667.3 1848.68,656.4 1848.87,641.7 1849.06,627.1 1849.25,612.7 1849.44,598.8 1849.63,585.3 1849.82,572.3 1850.01,559.9 1850.20,548.2 1850.39,537.3 1850.58,527.2 1850.77,518.0 1850.96,509.7 1851.15,502.5 1851.34,496.2 1851.53,491.1 1851.72,487.0 1851.91,484.1 1852.10,482.4 1852.29,481.8 1852.48,482.4 1852.67,484.1 1852.86,487.0 1853.05,491.1 1853.24,496.2 1853.43,502.5 1853.62,509.7 1853.81,518.0 1854.00,527.2 1854.19,537.3 1854.38,548.2 1854.57,559.9 1854.76,572.3 1854.95,585.3 1855.14,598.8 1855.33,612.7 1855.52,627.1 1855.71,641.7 1855.90,656.4 1856.09,671.3 1856.27,666.1 1856.46,660.9 1856.65,655.8 1856.84,650.7 1857.03,645.8 1857.22,641.1 1857.41,636.5 1857.60,632.2 1857.79,628.1 1857.98,624.2 1858.17,620.7 1858.36,617.5 1858.55,614.6 1858.74,612.0 1858.93,609.8 1859.12,608.0 1859.31,606.6 1859.50,605.6 1859.69,605.0 1859.88,604.8 1860.07,605.0 1860.26,605.6 1860.45,606.6 1860.64,608.0 1860.83,609.8 1861.02,612.0 1861.21,614.6 1861.40,617.5 1861.59,620.7 1861.78,624.2 1861.97,628.1 1862.16,632.2 1862.35,636.5 1862.54,641.1 1862.73,645.8 1862.92,650.7 1863.11,655.8 1863.30,660.9 1863.49,666.1 1863.67,671.3 1863.86,670.2 1864.05,669.1 1864.24,668.0 1864.43,667.0 1864.62,665.9 1864.81,664.9 1865.00,664.0 1865.19,663.1 1865.38,662.2 1865.57,661.4 1865.76,660.6 1865.95,659.9 1866.14,659.3 1866.33,658.8 1866.52,658.3 1866.71,658.0 1866.90,657.7 1867.09,657.4 1867.28,657.3 1867.47,657.3 1867.66,657.3 1867.85,657.4 1868.04,657.7 1868.23,658.0 1868.42,658.3 1868.61,658.8 1868.80,659.3 1868.99,659.9 1869.18,660.6 1869.37,661.4 1869.56,662.2 1869.75,663.1 1869.94,664.0 1870.13,664.9 1870.32,665.9 1870.51,667.0 1870.70,668.0 1870.89,669.1 1871.08,670.2"/>
<line x1="1695.80" y1="158.90" x2="1695.80" y2="671.30" stroke="#2a2a2a" stroke-width="1.4" />
<line x1="1862.40" y1="153.50" x2="1862.40" y2="671.30" stroke="#2a2a2a" stroke-width="1.4" />
<line x1="1775.30" y1="155.60" x2="1775.30" y2="674.00" stroke="#ff4646" stroke-width="1.6" stroke-dasharray="8.1 6.5" stroke-dashoffset="1.3"/>
<line x1="1707.20" y1="391.70" x2="1851.60" y2="391.70" stroke="#1a1a1a" stroke-width="1.3" />
<polygon points="1861.20,391.70 1849.20,395.10 1849.20,388.30" fill="#000"/>
<polygon points="1697.60,391.70 1709.60,388.30 1709.60,395.10" fill="#000"/>
<line x1="1657.80" y1="331.90" x2="1716.51" y2="377.42" stroke="#1a1a1a" stroke-width="1.3" />
<polygon points="1724.10,383.30 1712.53,378.63 1716.70,373.26" fill="#000"/>
<line x1="1932.20" y1="196.40" x2="1797.97" y2="185.10" stroke="#1a1a1a" stroke-width="1.3" />
<polygon points="1788.40,184.30 1800.64,181.92 1800.07,188.69" fill="#000"/>
<text x="1417.00" y="318.90" font-family="'Liberation Serif','Times New Roman',serif" font-size="42.0" text-anchor="start" >Bandwidth B</text>
<text x="1946.20" y="207.20" font-family="'Liberation Serif','Times New Roman',serif" font-size="41.75" text-anchor="start" >Center frequency</text>
<text x="2245.50" y="208.40" font-family="'DejaVu Serif',serif" font-size="40.8" text-anchor="start" font-style="italic" >f</text>
<text x="2260.80" y="223.00" font-family="'Liberation Serif','Times New Roman',serif" font-size="25.6" text-anchor="start" >0</text>
<text x="1698.40" y="923.10" font-family="'Liberation Serif','Times New Roman',serif" font-size="62.3" text-anchor="start" >(</text>
<text x="1718.80" y="923.00" font-family="'Liberation Serif','Times New Roman',serif" font-size="64" text-anchor="start" font-weight="bold" >b</text>
<text x="1754.35" y="923.10" font-family="'Liberation Serif','Times New Roman',serif" font-size="62.3" text-anchor="start" >)</text>
</svg></body></html>
